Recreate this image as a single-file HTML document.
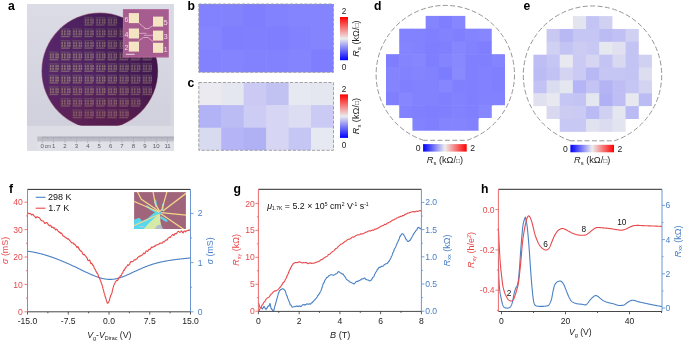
<!DOCTYPE html><html><head><meta charset="utf-8"><style>html,body{margin:0;padding:0;background:#fff;}svg{display:block;filter:blur(0.35px);}text{font-family:"Liberation Sans",sans-serif;}</style></head><body>
<svg width="685" height="343" viewBox="0 0 685 343">
<defs><linearGradient id="cbv" x1="0" y1="1" x2="0" y2="0"><stop offset="0" stop-color="#0000FF"/><stop offset="0.5" stop-color="#EDEDED"/><stop offset="1" stop-color="#FF0000"/></linearGradient><linearGradient id="cbh" x1="0" y1="0" x2="1" y2="0"><stop offset="0" stop-color="#0000FF"/><stop offset="0.5" stop-color="#EDEDED"/><stop offset="1" stop-color="#FF0000"/></linearGradient><linearGradient id="wafer" x1="0" y1="0.2" x2="1" y2="0.5"><stop offset="0" stop-color="#5A286C"/><stop offset="0.5" stop-color="#522266"/><stop offset="1" stop-color="#481C58"/></linearGradient><linearGradient id="wshade" x1="0.1" y1="0.8" x2="0.9" y2="0.1"><stop offset="0" stop-color="#2A0A34" stop-opacity="0"/><stop offset="0.4" stop-color="#2A0A34" stop-opacity="0.06"/><stop offset="1" stop-color="#2A0A34" stop-opacity="0.42"/></linearGradient><linearGradient id="wred" x1="0" y1="0" x2="0" y2="1"><stop offset="0.55" stop-color="#6A1E3A" stop-opacity="0"/><stop offset="1" stop-color="#6A1E3A" stop-opacity="0.45"/></linearGradient><linearGradient id="photobg" x1="0" y1="0" x2="0" y2="1"><stop offset="0" stop-color="#DCDCE7"/><stop offset="0.8" stop-color="#D1D1DD"/><stop offset="1" stop-color="#D1D1DD"/></linearGradient></defs>
<text x="8" y="9.8" font-size="12.2" fill="#000" text-anchor="start" font-weight="bold" >a</text>
<text x="187.6" y="9.8" font-size="12.2" fill="#000" text-anchor="start" font-weight="bold" >b</text>
<text x="187.6" y="86.7" font-size="12.2" fill="#000" text-anchor="start" font-weight="bold" >c</text>
<text x="374" y="9.8" font-size="12.2" fill="#000" text-anchor="start" font-weight="bold" >d</text>
<text x="523.4" y="10" font-size="12.2" fill="#000" text-anchor="start" font-weight="bold" >e</text>
<text x="9.1" y="193.2" font-size="12.2" fill="#000" text-anchor="start" font-weight="bold" >f</text>
<text x="233.6" y="193" font-size="12.2" fill="#000" text-anchor="start" font-weight="bold" >g</text>
<text x="481" y="193.4" font-size="12.2" fill="#000" text-anchor="start" font-weight="bold" >h</text>
<rect x="27.0" y="4.0" width="146.8" height="146.6" fill="url(#photobg)"/>
<rect x="27.0" y="125.8" width="146.8" height="24.799999999999997" fill="#DDDDE5"/>
<rect x="170.3" y="4.0" width="3.5" height="121.8" fill="#D8D8E3" opacity="0.7"/>
<filter id="pblur" x="-5%" y="-5%" width="110%" height="110%"><feGaussianBlur stdDeviation="0.3"/></filter>
<clipPath id="wclip"><rect x="0" y="0" width="200" height="125.6"/></clipPath>
<g filter="url(#pblur)">
<circle cx="99.8" cy="71.0" r="58.4" fill="#9A6070" clip-path="url(#wclip)" opacity="0.8"/>
<circle cx="99.8" cy="71.0" r="57.8" fill="url(#wafer)" clip-path="url(#wclip)"/>
<rect x="83.55" y="16.50" width="10.2" height="9.4" fill="#573264"/>
<rect x="84.05" y="16.90" width="9.2" height="1.1" fill="#6A4870"/>
<rect x="84.85" y="18.40" width="1.4" height="5.4" fill="#745474"/>
<rect x="84.85" y="19.10" width="1.4" height="1.6" fill="#987678"/>
<rect x="84.85" y="21.80" width="1.4" height="1.6" fill="#987678"/>
<rect x="87.35" y="18.40" width="1.4" height="5.4" fill="#745474"/>
<rect x="87.35" y="19.10" width="1.4" height="1.6" fill="#987678"/>
<rect x="87.35" y="21.80" width="1.4" height="1.6" fill="#987678"/>
<rect x="90.35" y="18.40" width="1.4" height="5.4" fill="#745474"/>
<rect x="90.35" y="19.10" width="1.4" height="1.6" fill="#987678"/>
<rect x="90.35" y="21.80" width="1.4" height="1.6" fill="#987678"/>
<rect x="92.35" y="18.40" width="1.4" height="5.4" fill="#745474"/>
<rect x="92.35" y="19.10" width="1.4" height="1.6" fill="#987678"/>
<rect x="92.35" y="21.80" width="1.4" height="1.6" fill="#987678"/>
<rect x="84.45" y="24.30" width="8.6" height="1.3" fill="#846476"/>
<rect x="95.20" y="16.50" width="10.2" height="9.4" fill="#573264"/>
<rect x="95.70" y="16.90" width="9.2" height="1.1" fill="#6A4870"/>
<rect x="96.50" y="18.40" width="1.4" height="5.4" fill="#745474"/>
<rect x="96.50" y="19.10" width="1.4" height="1.6" fill="#987678"/>
<rect x="96.50" y="21.80" width="1.4" height="1.6" fill="#987678"/>
<rect x="99.00" y="18.40" width="1.4" height="5.4" fill="#745474"/>
<rect x="99.00" y="19.10" width="1.4" height="1.6" fill="#987678"/>
<rect x="99.00" y="21.80" width="1.4" height="1.6" fill="#987678"/>
<rect x="102.00" y="18.40" width="1.4" height="5.4" fill="#745474"/>
<rect x="102.00" y="19.10" width="1.4" height="1.6" fill="#987678"/>
<rect x="102.00" y="21.80" width="1.4" height="1.6" fill="#987678"/>
<rect x="104.00" y="18.40" width="1.4" height="5.4" fill="#745474"/>
<rect x="104.00" y="19.10" width="1.4" height="1.6" fill="#987678"/>
<rect x="104.00" y="21.80" width="1.4" height="1.6" fill="#987678"/>
<rect x="96.10" y="24.30" width="8.6" height="1.3" fill="#846476"/>
<rect x="106.85" y="16.50" width="10.2" height="9.4" fill="#573264"/>
<rect x="107.35" y="16.90" width="9.2" height="1.1" fill="#6A4870"/>
<rect x="108.15" y="18.40" width="1.4" height="5.4" fill="#745474"/>
<rect x="108.15" y="19.10" width="1.4" height="1.6" fill="#987678"/>
<rect x="108.15" y="21.80" width="1.4" height="1.6" fill="#987678"/>
<rect x="110.65" y="18.40" width="1.4" height="5.4" fill="#745474"/>
<rect x="110.65" y="19.10" width="1.4" height="1.6" fill="#987678"/>
<rect x="110.65" y="21.80" width="1.4" height="1.6" fill="#987678"/>
<rect x="113.65" y="18.40" width="1.4" height="5.4" fill="#745474"/>
<rect x="113.65" y="19.10" width="1.4" height="1.6" fill="#987678"/>
<rect x="113.65" y="21.80" width="1.4" height="1.6" fill="#987678"/>
<rect x="115.65" y="18.40" width="1.4" height="5.4" fill="#745474"/>
<rect x="115.65" y="19.10" width="1.4" height="1.6" fill="#987678"/>
<rect x="115.65" y="21.80" width="1.4" height="1.6" fill="#987678"/>
<rect x="107.75" y="24.30" width="8.6" height="1.3" fill="#846476"/>
<rect x="60.25" y="28.08" width="10.2" height="9.4" fill="#573264"/>
<rect x="60.75" y="28.48" width="9.2" height="1.1" fill="#6A4870"/>
<rect x="61.55" y="29.98" width="1.4" height="5.4" fill="#745474"/>
<rect x="61.55" y="30.68" width="1.4" height="1.6" fill="#987678"/>
<rect x="61.55" y="33.38" width="1.4" height="1.6" fill="#987678"/>
<rect x="64.05" y="29.98" width="1.4" height="5.4" fill="#745474"/>
<rect x="64.05" y="30.68" width="1.4" height="1.6" fill="#987678"/>
<rect x="64.05" y="33.38" width="1.4" height="1.6" fill="#987678"/>
<rect x="67.05" y="29.98" width="1.4" height="5.4" fill="#745474"/>
<rect x="67.05" y="30.68" width="1.4" height="1.6" fill="#987678"/>
<rect x="67.05" y="33.38" width="1.4" height="1.6" fill="#987678"/>
<rect x="69.05" y="29.98" width="1.4" height="5.4" fill="#745474"/>
<rect x="69.05" y="30.68" width="1.4" height="1.6" fill="#987678"/>
<rect x="69.05" y="33.38" width="1.4" height="1.6" fill="#987678"/>
<rect x="61.15" y="35.88" width="8.6" height="1.3" fill="#846476"/>
<rect x="71.90" y="28.08" width="10.2" height="9.4" fill="#573264"/>
<rect x="72.40" y="28.48" width="9.2" height="1.1" fill="#6A4870"/>
<rect x="73.20" y="29.98" width="1.4" height="5.4" fill="#745474"/>
<rect x="73.20" y="30.68" width="1.4" height="1.6" fill="#987678"/>
<rect x="73.20" y="33.38" width="1.4" height="1.6" fill="#987678"/>
<rect x="75.70" y="29.98" width="1.4" height="5.4" fill="#745474"/>
<rect x="75.70" y="30.68" width="1.4" height="1.6" fill="#987678"/>
<rect x="75.70" y="33.38" width="1.4" height="1.6" fill="#987678"/>
<rect x="78.70" y="29.98" width="1.4" height="5.4" fill="#745474"/>
<rect x="78.70" y="30.68" width="1.4" height="1.6" fill="#987678"/>
<rect x="78.70" y="33.38" width="1.4" height="1.6" fill="#987678"/>
<rect x="80.70" y="29.98" width="1.4" height="5.4" fill="#745474"/>
<rect x="80.70" y="30.68" width="1.4" height="1.6" fill="#987678"/>
<rect x="80.70" y="33.38" width="1.4" height="1.6" fill="#987678"/>
<rect x="72.80" y="35.88" width="8.6" height="1.3" fill="#846476"/>
<rect x="83.55" y="28.08" width="10.2" height="9.4" fill="#573264"/>
<rect x="84.05" y="28.48" width="9.2" height="1.1" fill="#6A4870"/>
<rect x="84.85" y="29.98" width="1.4" height="5.4" fill="#745474"/>
<rect x="84.85" y="30.68" width="1.4" height="1.6" fill="#987678"/>
<rect x="84.85" y="33.38" width="1.4" height="1.6" fill="#987678"/>
<rect x="87.35" y="29.98" width="1.4" height="5.4" fill="#745474"/>
<rect x="87.35" y="30.68" width="1.4" height="1.6" fill="#987678"/>
<rect x="87.35" y="33.38" width="1.4" height="1.6" fill="#987678"/>
<rect x="90.35" y="29.98" width="1.4" height="5.4" fill="#745474"/>
<rect x="90.35" y="30.68" width="1.4" height="1.6" fill="#987678"/>
<rect x="90.35" y="33.38" width="1.4" height="1.6" fill="#987678"/>
<rect x="92.35" y="29.98" width="1.4" height="5.4" fill="#745474"/>
<rect x="92.35" y="30.68" width="1.4" height="1.6" fill="#987678"/>
<rect x="92.35" y="33.38" width="1.4" height="1.6" fill="#987678"/>
<rect x="84.45" y="35.88" width="8.6" height="1.3" fill="#846476"/>
<rect x="95.20" y="28.08" width="10.2" height="9.4" fill="#573264"/>
<rect x="95.70" y="28.48" width="9.2" height="1.1" fill="#6A4870"/>
<rect x="96.50" y="29.98" width="1.4" height="5.4" fill="#745474"/>
<rect x="96.50" y="30.68" width="1.4" height="1.6" fill="#987678"/>
<rect x="96.50" y="33.38" width="1.4" height="1.6" fill="#987678"/>
<rect x="99.00" y="29.98" width="1.4" height="5.4" fill="#745474"/>
<rect x="99.00" y="30.68" width="1.4" height="1.6" fill="#987678"/>
<rect x="99.00" y="33.38" width="1.4" height="1.6" fill="#987678"/>
<rect x="102.00" y="29.98" width="1.4" height="5.4" fill="#745474"/>
<rect x="102.00" y="30.68" width="1.4" height="1.6" fill="#987678"/>
<rect x="102.00" y="33.38" width="1.4" height="1.6" fill="#987678"/>
<rect x="104.00" y="29.98" width="1.4" height="5.4" fill="#745474"/>
<rect x="104.00" y="30.68" width="1.4" height="1.6" fill="#987678"/>
<rect x="104.00" y="33.38" width="1.4" height="1.6" fill="#987678"/>
<rect x="96.10" y="35.88" width="8.6" height="1.3" fill="#846476"/>
<rect x="106.85" y="28.08" width="10.2" height="9.4" fill="#573264"/>
<rect x="107.35" y="28.48" width="9.2" height="1.1" fill="#6A4870"/>
<rect x="108.15" y="29.98" width="1.4" height="5.4" fill="#745474"/>
<rect x="108.15" y="30.68" width="1.4" height="1.6" fill="#987678"/>
<rect x="108.15" y="33.38" width="1.4" height="1.6" fill="#987678"/>
<rect x="110.65" y="29.98" width="1.4" height="5.4" fill="#745474"/>
<rect x="110.65" y="30.68" width="1.4" height="1.6" fill="#987678"/>
<rect x="110.65" y="33.38" width="1.4" height="1.6" fill="#987678"/>
<rect x="113.65" y="29.98" width="1.4" height="5.4" fill="#745474"/>
<rect x="113.65" y="30.68" width="1.4" height="1.6" fill="#987678"/>
<rect x="113.65" y="33.38" width="1.4" height="1.6" fill="#987678"/>
<rect x="115.65" y="29.98" width="1.4" height="5.4" fill="#745474"/>
<rect x="115.65" y="30.68" width="1.4" height="1.6" fill="#987678"/>
<rect x="115.65" y="33.38" width="1.4" height="1.6" fill="#987678"/>
<rect x="107.75" y="35.88" width="8.6" height="1.3" fill="#846476"/>
<rect x="118.50" y="28.08" width="10.2" height="9.4" fill="#573264"/>
<rect x="119.00" y="28.48" width="9.2" height="1.1" fill="#6A4870"/>
<rect x="119.80" y="29.98" width="1.4" height="5.4" fill="#745474"/>
<rect x="119.80" y="30.68" width="1.4" height="1.6" fill="#987678"/>
<rect x="119.80" y="33.38" width="1.4" height="1.6" fill="#987678"/>
<rect x="122.30" y="29.98" width="1.4" height="5.4" fill="#745474"/>
<rect x="122.30" y="30.68" width="1.4" height="1.6" fill="#987678"/>
<rect x="122.30" y="33.38" width="1.4" height="1.6" fill="#987678"/>
<rect x="125.30" y="29.98" width="1.4" height="5.4" fill="#745474"/>
<rect x="125.30" y="30.68" width="1.4" height="1.6" fill="#987678"/>
<rect x="125.30" y="33.38" width="1.4" height="1.6" fill="#987678"/>
<rect x="127.30" y="29.98" width="1.4" height="5.4" fill="#745474"/>
<rect x="127.30" y="30.68" width="1.4" height="1.6" fill="#987678"/>
<rect x="127.30" y="33.38" width="1.4" height="1.6" fill="#987678"/>
<rect x="119.40" y="35.88" width="8.6" height="1.3" fill="#846476"/>
<rect x="130.15" y="28.08" width="10.2" height="9.4" fill="#573264"/>
<rect x="130.65" y="28.48" width="9.2" height="1.1" fill="#6A4870"/>
<rect x="131.45" y="29.98" width="1.4" height="5.4" fill="#745474"/>
<rect x="131.45" y="30.68" width="1.4" height="1.6" fill="#987678"/>
<rect x="131.45" y="33.38" width="1.4" height="1.6" fill="#987678"/>
<rect x="133.95" y="29.98" width="1.4" height="5.4" fill="#745474"/>
<rect x="133.95" y="30.68" width="1.4" height="1.6" fill="#987678"/>
<rect x="133.95" y="33.38" width="1.4" height="1.6" fill="#987678"/>
<rect x="136.95" y="29.98" width="1.4" height="5.4" fill="#745474"/>
<rect x="136.95" y="30.68" width="1.4" height="1.6" fill="#987678"/>
<rect x="136.95" y="33.38" width="1.4" height="1.6" fill="#987678"/>
<rect x="138.95" y="29.98" width="1.4" height="5.4" fill="#745474"/>
<rect x="138.95" y="30.68" width="1.4" height="1.6" fill="#987678"/>
<rect x="138.95" y="33.38" width="1.4" height="1.6" fill="#987678"/>
<rect x="131.05" y="35.88" width="8.6" height="1.3" fill="#846476"/>
<rect x="60.25" y="39.66" width="10.2" height="9.4" fill="#573264"/>
<rect x="60.75" y="40.06" width="9.2" height="1.1" fill="#6A4870"/>
<rect x="61.55" y="41.56" width="1.4" height="5.4" fill="#745474"/>
<rect x="61.55" y="42.26" width="1.4" height="1.6" fill="#987678"/>
<rect x="61.55" y="44.96" width="1.4" height="1.6" fill="#987678"/>
<rect x="64.05" y="41.56" width="1.4" height="5.4" fill="#745474"/>
<rect x="64.05" y="42.26" width="1.4" height="1.6" fill="#987678"/>
<rect x="64.05" y="44.96" width="1.4" height="1.6" fill="#987678"/>
<rect x="67.05" y="41.56" width="1.4" height="5.4" fill="#745474"/>
<rect x="67.05" y="42.26" width="1.4" height="1.6" fill="#987678"/>
<rect x="67.05" y="44.96" width="1.4" height="1.6" fill="#987678"/>
<rect x="69.05" y="41.56" width="1.4" height="5.4" fill="#745474"/>
<rect x="69.05" y="42.26" width="1.4" height="1.6" fill="#987678"/>
<rect x="69.05" y="44.96" width="1.4" height="1.6" fill="#987678"/>
<rect x="61.15" y="47.46" width="8.6" height="1.3" fill="#846476"/>
<rect x="71.90" y="39.66" width="10.2" height="9.4" fill="#573264"/>
<rect x="72.40" y="40.06" width="9.2" height="1.1" fill="#6A4870"/>
<rect x="73.20" y="41.56" width="1.4" height="5.4" fill="#745474"/>
<rect x="73.20" y="42.26" width="1.4" height="1.6" fill="#987678"/>
<rect x="73.20" y="44.96" width="1.4" height="1.6" fill="#987678"/>
<rect x="75.70" y="41.56" width="1.4" height="5.4" fill="#745474"/>
<rect x="75.70" y="42.26" width="1.4" height="1.6" fill="#987678"/>
<rect x="75.70" y="44.96" width="1.4" height="1.6" fill="#987678"/>
<rect x="78.70" y="41.56" width="1.4" height="5.4" fill="#745474"/>
<rect x="78.70" y="42.26" width="1.4" height="1.6" fill="#987678"/>
<rect x="78.70" y="44.96" width="1.4" height="1.6" fill="#987678"/>
<rect x="80.70" y="41.56" width="1.4" height="5.4" fill="#745474"/>
<rect x="80.70" y="42.26" width="1.4" height="1.6" fill="#987678"/>
<rect x="80.70" y="44.96" width="1.4" height="1.6" fill="#987678"/>
<rect x="72.80" y="47.46" width="8.6" height="1.3" fill="#846476"/>
<rect x="83.55" y="39.66" width="10.2" height="9.4" fill="#573264"/>
<rect x="84.05" y="40.06" width="9.2" height="1.1" fill="#6A4870"/>
<rect x="84.85" y="41.56" width="1.4" height="5.4" fill="#745474"/>
<rect x="84.85" y="42.26" width="1.4" height="1.6" fill="#987678"/>
<rect x="84.85" y="44.96" width="1.4" height="1.6" fill="#987678"/>
<rect x="87.35" y="41.56" width="1.4" height="5.4" fill="#745474"/>
<rect x="87.35" y="42.26" width="1.4" height="1.6" fill="#987678"/>
<rect x="87.35" y="44.96" width="1.4" height="1.6" fill="#987678"/>
<rect x="90.35" y="41.56" width="1.4" height="5.4" fill="#745474"/>
<rect x="90.35" y="42.26" width="1.4" height="1.6" fill="#987678"/>
<rect x="90.35" y="44.96" width="1.4" height="1.6" fill="#987678"/>
<rect x="92.35" y="41.56" width="1.4" height="5.4" fill="#745474"/>
<rect x="92.35" y="42.26" width="1.4" height="1.6" fill="#987678"/>
<rect x="92.35" y="44.96" width="1.4" height="1.6" fill="#987678"/>
<rect x="84.45" y="47.46" width="8.6" height="1.3" fill="#846476"/>
<rect x="95.20" y="39.66" width="10.2" height="9.4" fill="#573264"/>
<rect x="95.70" y="40.06" width="9.2" height="1.1" fill="#6A4870"/>
<rect x="96.50" y="41.56" width="1.4" height="5.4" fill="#745474"/>
<rect x="96.50" y="42.26" width="1.4" height="1.6" fill="#987678"/>
<rect x="96.50" y="44.96" width="1.4" height="1.6" fill="#987678"/>
<rect x="99.00" y="41.56" width="1.4" height="5.4" fill="#745474"/>
<rect x="99.00" y="42.26" width="1.4" height="1.6" fill="#987678"/>
<rect x="99.00" y="44.96" width="1.4" height="1.6" fill="#987678"/>
<rect x="102.00" y="41.56" width="1.4" height="5.4" fill="#745474"/>
<rect x="102.00" y="42.26" width="1.4" height="1.6" fill="#987678"/>
<rect x="102.00" y="44.96" width="1.4" height="1.6" fill="#987678"/>
<rect x="104.00" y="41.56" width="1.4" height="5.4" fill="#745474"/>
<rect x="104.00" y="42.26" width="1.4" height="1.6" fill="#987678"/>
<rect x="104.00" y="44.96" width="1.4" height="1.6" fill="#987678"/>
<rect x="96.10" y="47.46" width="8.6" height="1.3" fill="#846476"/>
<rect x="106.85" y="39.66" width="10.2" height="9.4" fill="#573264"/>
<rect x="107.35" y="40.06" width="9.2" height="1.1" fill="#6A4870"/>
<rect x="108.15" y="41.56" width="1.4" height="5.4" fill="#745474"/>
<rect x="108.15" y="42.26" width="1.4" height="1.6" fill="#987678"/>
<rect x="108.15" y="44.96" width="1.4" height="1.6" fill="#987678"/>
<rect x="110.65" y="41.56" width="1.4" height="5.4" fill="#745474"/>
<rect x="110.65" y="42.26" width="1.4" height="1.6" fill="#987678"/>
<rect x="110.65" y="44.96" width="1.4" height="1.6" fill="#987678"/>
<rect x="113.65" y="41.56" width="1.4" height="5.4" fill="#745474"/>
<rect x="113.65" y="42.26" width="1.4" height="1.6" fill="#987678"/>
<rect x="113.65" y="44.96" width="1.4" height="1.6" fill="#987678"/>
<rect x="115.65" y="41.56" width="1.4" height="5.4" fill="#745474"/>
<rect x="115.65" y="42.26" width="1.4" height="1.6" fill="#987678"/>
<rect x="115.65" y="44.96" width="1.4" height="1.6" fill="#987678"/>
<rect x="107.75" y="47.46" width="8.6" height="1.3" fill="#846476"/>
<rect x="118.50" y="39.66" width="10.2" height="9.4" fill="#573264"/>
<rect x="119.00" y="40.06" width="9.2" height="1.1" fill="#6A4870"/>
<rect x="119.80" y="41.56" width="1.4" height="5.4" fill="#745474"/>
<rect x="119.80" y="42.26" width="1.4" height="1.6" fill="#987678"/>
<rect x="119.80" y="44.96" width="1.4" height="1.6" fill="#987678"/>
<rect x="122.30" y="41.56" width="1.4" height="5.4" fill="#745474"/>
<rect x="122.30" y="42.26" width="1.4" height="1.6" fill="#987678"/>
<rect x="122.30" y="44.96" width="1.4" height="1.6" fill="#987678"/>
<rect x="125.30" y="41.56" width="1.4" height="5.4" fill="#745474"/>
<rect x="125.30" y="42.26" width="1.4" height="1.6" fill="#987678"/>
<rect x="125.30" y="44.96" width="1.4" height="1.6" fill="#987678"/>
<rect x="127.30" y="41.56" width="1.4" height="5.4" fill="#745474"/>
<rect x="127.30" y="42.26" width="1.4" height="1.6" fill="#987678"/>
<rect x="127.30" y="44.96" width="1.4" height="1.6" fill="#987678"/>
<rect x="119.40" y="47.46" width="8.6" height="1.3" fill="#846476"/>
<rect x="130.15" y="39.66" width="10.2" height="9.4" fill="#573264"/>
<rect x="130.65" y="40.06" width="9.2" height="1.1" fill="#6A4870"/>
<rect x="131.45" y="41.56" width="1.4" height="5.4" fill="#745474"/>
<rect x="131.45" y="42.26" width="1.4" height="1.6" fill="#987678"/>
<rect x="131.45" y="44.96" width="1.4" height="1.6" fill="#987678"/>
<rect x="133.95" y="41.56" width="1.4" height="5.4" fill="#745474"/>
<rect x="133.95" y="42.26" width="1.4" height="1.6" fill="#987678"/>
<rect x="133.95" y="44.96" width="1.4" height="1.6" fill="#987678"/>
<rect x="136.95" y="41.56" width="1.4" height="5.4" fill="#745474"/>
<rect x="136.95" y="42.26" width="1.4" height="1.6" fill="#987678"/>
<rect x="136.95" y="44.96" width="1.4" height="1.6" fill="#987678"/>
<rect x="138.95" y="41.56" width="1.4" height="5.4" fill="#745474"/>
<rect x="138.95" y="42.26" width="1.4" height="1.6" fill="#987678"/>
<rect x="138.95" y="44.96" width="1.4" height="1.6" fill="#987678"/>
<rect x="131.05" y="47.46" width="8.6" height="1.3" fill="#846476"/>
<rect x="48.60" y="51.24" width="10.2" height="9.4" fill="#573264"/>
<rect x="49.10" y="51.64" width="9.2" height="1.1" fill="#6A4870"/>
<rect x="49.90" y="53.14" width="1.4" height="5.4" fill="#745474"/>
<rect x="49.90" y="53.84" width="1.4" height="1.6" fill="#987678"/>
<rect x="49.90" y="56.54" width="1.4" height="1.6" fill="#987678"/>
<rect x="52.40" y="53.14" width="1.4" height="5.4" fill="#745474"/>
<rect x="52.40" y="53.84" width="1.4" height="1.6" fill="#987678"/>
<rect x="52.40" y="56.54" width="1.4" height="1.6" fill="#987678"/>
<rect x="55.40" y="53.14" width="1.4" height="5.4" fill="#745474"/>
<rect x="55.40" y="53.84" width="1.4" height="1.6" fill="#987678"/>
<rect x="55.40" y="56.54" width="1.4" height="1.6" fill="#987678"/>
<rect x="57.40" y="53.14" width="1.4" height="5.4" fill="#745474"/>
<rect x="57.40" y="53.84" width="1.4" height="1.6" fill="#987678"/>
<rect x="57.40" y="56.54" width="1.4" height="1.6" fill="#987678"/>
<rect x="49.50" y="59.04" width="8.6" height="1.3" fill="#846476"/>
<rect x="60.25" y="51.24" width="10.2" height="9.4" fill="#573264"/>
<rect x="60.75" y="51.64" width="9.2" height="1.1" fill="#6A4870"/>
<rect x="61.55" y="53.14" width="1.4" height="5.4" fill="#745474"/>
<rect x="61.55" y="53.84" width="1.4" height="1.6" fill="#987678"/>
<rect x="61.55" y="56.54" width="1.4" height="1.6" fill="#987678"/>
<rect x="64.05" y="53.14" width="1.4" height="5.4" fill="#745474"/>
<rect x="64.05" y="53.84" width="1.4" height="1.6" fill="#987678"/>
<rect x="64.05" y="56.54" width="1.4" height="1.6" fill="#987678"/>
<rect x="67.05" y="53.14" width="1.4" height="5.4" fill="#745474"/>
<rect x="67.05" y="53.84" width="1.4" height="1.6" fill="#987678"/>
<rect x="67.05" y="56.54" width="1.4" height="1.6" fill="#987678"/>
<rect x="69.05" y="53.14" width="1.4" height="5.4" fill="#745474"/>
<rect x="69.05" y="53.84" width="1.4" height="1.6" fill="#987678"/>
<rect x="69.05" y="56.54" width="1.4" height="1.6" fill="#987678"/>
<rect x="61.15" y="59.04" width="8.6" height="1.3" fill="#846476"/>
<rect x="71.90" y="51.24" width="10.2" height="9.4" fill="#573264"/>
<rect x="72.40" y="51.64" width="9.2" height="1.1" fill="#6A4870"/>
<rect x="73.20" y="53.14" width="1.4" height="5.4" fill="#745474"/>
<rect x="73.20" y="53.84" width="1.4" height="1.6" fill="#987678"/>
<rect x="73.20" y="56.54" width="1.4" height="1.6" fill="#987678"/>
<rect x="75.70" y="53.14" width="1.4" height="5.4" fill="#745474"/>
<rect x="75.70" y="53.84" width="1.4" height="1.6" fill="#987678"/>
<rect x="75.70" y="56.54" width="1.4" height="1.6" fill="#987678"/>
<rect x="78.70" y="53.14" width="1.4" height="5.4" fill="#745474"/>
<rect x="78.70" y="53.84" width="1.4" height="1.6" fill="#987678"/>
<rect x="78.70" y="56.54" width="1.4" height="1.6" fill="#987678"/>
<rect x="80.70" y="53.14" width="1.4" height="5.4" fill="#745474"/>
<rect x="80.70" y="53.84" width="1.4" height="1.6" fill="#987678"/>
<rect x="80.70" y="56.54" width="1.4" height="1.6" fill="#987678"/>
<rect x="72.80" y="59.04" width="8.6" height="1.3" fill="#846476"/>
<rect x="83.55" y="51.24" width="10.2" height="9.4" fill="#573264"/>
<rect x="84.05" y="51.64" width="9.2" height="1.1" fill="#6A4870"/>
<rect x="84.85" y="53.14" width="1.4" height="5.4" fill="#745474"/>
<rect x="84.85" y="53.84" width="1.4" height="1.6" fill="#987678"/>
<rect x="84.85" y="56.54" width="1.4" height="1.6" fill="#987678"/>
<rect x="87.35" y="53.14" width="1.4" height="5.4" fill="#745474"/>
<rect x="87.35" y="53.84" width="1.4" height="1.6" fill="#987678"/>
<rect x="87.35" y="56.54" width="1.4" height="1.6" fill="#987678"/>
<rect x="90.35" y="53.14" width="1.4" height="5.4" fill="#745474"/>
<rect x="90.35" y="53.84" width="1.4" height="1.6" fill="#987678"/>
<rect x="90.35" y="56.54" width="1.4" height="1.6" fill="#987678"/>
<rect x="92.35" y="53.14" width="1.4" height="5.4" fill="#745474"/>
<rect x="92.35" y="53.84" width="1.4" height="1.6" fill="#987678"/>
<rect x="92.35" y="56.54" width="1.4" height="1.6" fill="#987678"/>
<rect x="84.45" y="59.04" width="8.6" height="1.3" fill="#846476"/>
<rect x="95.20" y="51.24" width="10.2" height="9.4" fill="#573264"/>
<rect x="95.70" y="51.64" width="9.2" height="1.1" fill="#6A4870"/>
<rect x="96.50" y="53.14" width="1.4" height="5.4" fill="#745474"/>
<rect x="96.50" y="53.84" width="1.4" height="1.6" fill="#987678"/>
<rect x="96.50" y="56.54" width="1.4" height="1.6" fill="#987678"/>
<rect x="99.00" y="53.14" width="1.4" height="5.4" fill="#745474"/>
<rect x="99.00" y="53.84" width="1.4" height="1.6" fill="#987678"/>
<rect x="99.00" y="56.54" width="1.4" height="1.6" fill="#987678"/>
<rect x="102.00" y="53.14" width="1.4" height="5.4" fill="#745474"/>
<rect x="102.00" y="53.84" width="1.4" height="1.6" fill="#987678"/>
<rect x="102.00" y="56.54" width="1.4" height="1.6" fill="#987678"/>
<rect x="104.00" y="53.14" width="1.4" height="5.4" fill="#745474"/>
<rect x="104.00" y="53.84" width="1.4" height="1.6" fill="#987678"/>
<rect x="104.00" y="56.54" width="1.4" height="1.6" fill="#987678"/>
<rect x="96.10" y="59.04" width="8.6" height="1.3" fill="#846476"/>
<rect x="106.85" y="51.24" width="10.2" height="9.4" fill="#573264"/>
<rect x="107.35" y="51.64" width="9.2" height="1.1" fill="#6A4870"/>
<rect x="108.15" y="53.14" width="1.4" height="5.4" fill="#745474"/>
<rect x="108.15" y="53.84" width="1.4" height="1.6" fill="#987678"/>
<rect x="108.15" y="56.54" width="1.4" height="1.6" fill="#987678"/>
<rect x="110.65" y="53.14" width="1.4" height="5.4" fill="#745474"/>
<rect x="110.65" y="53.84" width="1.4" height="1.6" fill="#987678"/>
<rect x="110.65" y="56.54" width="1.4" height="1.6" fill="#987678"/>
<rect x="113.65" y="53.14" width="1.4" height="5.4" fill="#745474"/>
<rect x="113.65" y="53.84" width="1.4" height="1.6" fill="#987678"/>
<rect x="113.65" y="56.54" width="1.4" height="1.6" fill="#987678"/>
<rect x="115.65" y="53.14" width="1.4" height="5.4" fill="#745474"/>
<rect x="115.65" y="53.84" width="1.4" height="1.6" fill="#987678"/>
<rect x="115.65" y="56.54" width="1.4" height="1.6" fill="#987678"/>
<rect x="107.75" y="59.04" width="8.6" height="1.3" fill="#846476"/>
<rect x="118.50" y="51.24" width="10.2" height="9.4" fill="#573264"/>
<rect x="119.00" y="51.64" width="9.2" height="1.1" fill="#6A4870"/>
<rect x="119.80" y="53.14" width="1.4" height="5.4" fill="#745474"/>
<rect x="119.80" y="53.84" width="1.4" height="1.6" fill="#987678"/>
<rect x="119.80" y="56.54" width="1.4" height="1.6" fill="#987678"/>
<rect x="122.30" y="53.14" width="1.4" height="5.4" fill="#745474"/>
<rect x="122.30" y="53.84" width="1.4" height="1.6" fill="#987678"/>
<rect x="122.30" y="56.54" width="1.4" height="1.6" fill="#987678"/>
<rect x="125.30" y="53.14" width="1.4" height="5.4" fill="#745474"/>
<rect x="125.30" y="53.84" width="1.4" height="1.6" fill="#987678"/>
<rect x="125.30" y="56.54" width="1.4" height="1.6" fill="#987678"/>
<rect x="127.30" y="53.14" width="1.4" height="5.4" fill="#745474"/>
<rect x="127.30" y="53.84" width="1.4" height="1.6" fill="#987678"/>
<rect x="127.30" y="56.54" width="1.4" height="1.6" fill="#987678"/>
<rect x="119.40" y="59.04" width="8.6" height="1.3" fill="#846476"/>
<rect x="130.15" y="51.24" width="10.2" height="9.4" fill="#573264"/>
<rect x="130.65" y="51.64" width="9.2" height="1.1" fill="#6A4870"/>
<rect x="131.45" y="53.14" width="1.4" height="5.4" fill="#745474"/>
<rect x="131.45" y="53.84" width="1.4" height="1.6" fill="#987678"/>
<rect x="131.45" y="56.54" width="1.4" height="1.6" fill="#987678"/>
<rect x="133.95" y="53.14" width="1.4" height="5.4" fill="#745474"/>
<rect x="133.95" y="53.84" width="1.4" height="1.6" fill="#987678"/>
<rect x="133.95" y="56.54" width="1.4" height="1.6" fill="#987678"/>
<rect x="136.95" y="53.14" width="1.4" height="5.4" fill="#745474"/>
<rect x="136.95" y="53.84" width="1.4" height="1.6" fill="#987678"/>
<rect x="136.95" y="56.54" width="1.4" height="1.6" fill="#987678"/>
<rect x="138.95" y="53.14" width="1.4" height="5.4" fill="#745474"/>
<rect x="138.95" y="53.84" width="1.4" height="1.6" fill="#987678"/>
<rect x="138.95" y="56.54" width="1.4" height="1.6" fill="#987678"/>
<rect x="131.05" y="59.04" width="8.6" height="1.3" fill="#846476"/>
<rect x="141.80" y="51.24" width="10.2" height="9.4" fill="#573264"/>
<rect x="142.30" y="51.64" width="9.2" height="1.1" fill="#6A4870"/>
<rect x="143.10" y="53.14" width="1.4" height="5.4" fill="#745474"/>
<rect x="143.10" y="53.84" width="1.4" height="1.6" fill="#987678"/>
<rect x="143.10" y="56.54" width="1.4" height="1.6" fill="#987678"/>
<rect x="145.60" y="53.14" width="1.4" height="5.4" fill="#745474"/>
<rect x="145.60" y="53.84" width="1.4" height="1.6" fill="#987678"/>
<rect x="145.60" y="56.54" width="1.4" height="1.6" fill="#987678"/>
<rect x="148.60" y="53.14" width="1.4" height="5.4" fill="#745474"/>
<rect x="148.60" y="53.84" width="1.4" height="1.6" fill="#987678"/>
<rect x="148.60" y="56.54" width="1.4" height="1.6" fill="#987678"/>
<rect x="150.60" y="53.14" width="1.4" height="5.4" fill="#745474"/>
<rect x="150.60" y="53.84" width="1.4" height="1.6" fill="#987678"/>
<rect x="150.60" y="56.54" width="1.4" height="1.6" fill="#987678"/>
<rect x="142.70" y="59.04" width="8.6" height="1.3" fill="#846476"/>
<rect x="48.60" y="62.82" width="10.2" height="9.4" fill="#573264"/>
<rect x="49.10" y="63.22" width="9.2" height="1.1" fill="#6A4870"/>
<rect x="49.90" y="64.72" width="1.4" height="5.4" fill="#745474"/>
<rect x="49.90" y="65.42" width="1.4" height="1.6" fill="#987678"/>
<rect x="49.90" y="68.12" width="1.4" height="1.6" fill="#987678"/>
<rect x="52.40" y="64.72" width="1.4" height="5.4" fill="#745474"/>
<rect x="52.40" y="65.42" width="1.4" height="1.6" fill="#987678"/>
<rect x="52.40" y="68.12" width="1.4" height="1.6" fill="#987678"/>
<rect x="55.40" y="64.72" width="1.4" height="5.4" fill="#745474"/>
<rect x="55.40" y="65.42" width="1.4" height="1.6" fill="#987678"/>
<rect x="55.40" y="68.12" width="1.4" height="1.6" fill="#987678"/>
<rect x="57.40" y="64.72" width="1.4" height="5.4" fill="#745474"/>
<rect x="57.40" y="65.42" width="1.4" height="1.6" fill="#987678"/>
<rect x="57.40" y="68.12" width="1.4" height="1.6" fill="#987678"/>
<rect x="49.50" y="70.62" width="8.6" height="1.3" fill="#846476"/>
<rect x="60.25" y="62.82" width="10.2" height="9.4" fill="#573264"/>
<rect x="60.75" y="63.22" width="9.2" height="1.1" fill="#6A4870"/>
<rect x="61.55" y="64.72" width="1.4" height="5.4" fill="#745474"/>
<rect x="61.55" y="65.42" width="1.4" height="1.6" fill="#987678"/>
<rect x="61.55" y="68.12" width="1.4" height="1.6" fill="#987678"/>
<rect x="64.05" y="64.72" width="1.4" height="5.4" fill="#745474"/>
<rect x="64.05" y="65.42" width="1.4" height="1.6" fill="#987678"/>
<rect x="64.05" y="68.12" width="1.4" height="1.6" fill="#987678"/>
<rect x="67.05" y="64.72" width="1.4" height="5.4" fill="#745474"/>
<rect x="67.05" y="65.42" width="1.4" height="1.6" fill="#987678"/>
<rect x="67.05" y="68.12" width="1.4" height="1.6" fill="#987678"/>
<rect x="69.05" y="64.72" width="1.4" height="5.4" fill="#745474"/>
<rect x="69.05" y="65.42" width="1.4" height="1.6" fill="#987678"/>
<rect x="69.05" y="68.12" width="1.4" height="1.6" fill="#987678"/>
<rect x="61.15" y="70.62" width="8.6" height="1.3" fill="#846476"/>
<rect x="71.90" y="62.82" width="10.2" height="9.4" fill="#573264"/>
<rect x="72.40" y="63.22" width="9.2" height="1.1" fill="#6A4870"/>
<rect x="73.20" y="64.72" width="1.4" height="5.4" fill="#745474"/>
<rect x="73.20" y="65.42" width="1.4" height="1.6" fill="#987678"/>
<rect x="73.20" y="68.12" width="1.4" height="1.6" fill="#987678"/>
<rect x="75.70" y="64.72" width="1.4" height="5.4" fill="#745474"/>
<rect x="75.70" y="65.42" width="1.4" height="1.6" fill="#987678"/>
<rect x="75.70" y="68.12" width="1.4" height="1.6" fill="#987678"/>
<rect x="78.70" y="64.72" width="1.4" height="5.4" fill="#745474"/>
<rect x="78.70" y="65.42" width="1.4" height="1.6" fill="#987678"/>
<rect x="78.70" y="68.12" width="1.4" height="1.6" fill="#987678"/>
<rect x="80.70" y="64.72" width="1.4" height="5.4" fill="#745474"/>
<rect x="80.70" y="65.42" width="1.4" height="1.6" fill="#987678"/>
<rect x="80.70" y="68.12" width="1.4" height="1.6" fill="#987678"/>
<rect x="72.80" y="70.62" width="8.6" height="1.3" fill="#846476"/>
<rect x="83.55" y="62.82" width="10.2" height="9.4" fill="#573264"/>
<rect x="84.05" y="63.22" width="9.2" height="1.1" fill="#6A4870"/>
<rect x="84.85" y="64.72" width="1.4" height="5.4" fill="#745474"/>
<rect x="84.85" y="65.42" width="1.4" height="1.6" fill="#987678"/>
<rect x="84.85" y="68.12" width="1.4" height="1.6" fill="#987678"/>
<rect x="87.35" y="64.72" width="1.4" height="5.4" fill="#745474"/>
<rect x="87.35" y="65.42" width="1.4" height="1.6" fill="#987678"/>
<rect x="87.35" y="68.12" width="1.4" height="1.6" fill="#987678"/>
<rect x="90.35" y="64.72" width="1.4" height="5.4" fill="#745474"/>
<rect x="90.35" y="65.42" width="1.4" height="1.6" fill="#987678"/>
<rect x="90.35" y="68.12" width="1.4" height="1.6" fill="#987678"/>
<rect x="92.35" y="64.72" width="1.4" height="5.4" fill="#745474"/>
<rect x="92.35" y="65.42" width="1.4" height="1.6" fill="#987678"/>
<rect x="92.35" y="68.12" width="1.4" height="1.6" fill="#987678"/>
<rect x="84.45" y="70.62" width="8.6" height="1.3" fill="#846476"/>
<rect x="95.20" y="62.82" width="10.2" height="9.4" fill="#573264"/>
<rect x="95.70" y="63.22" width="9.2" height="1.1" fill="#6A4870"/>
<rect x="96.50" y="64.72" width="1.4" height="5.4" fill="#745474"/>
<rect x="96.50" y="65.42" width="1.4" height="1.6" fill="#987678"/>
<rect x="96.50" y="68.12" width="1.4" height="1.6" fill="#987678"/>
<rect x="99.00" y="64.72" width="1.4" height="5.4" fill="#745474"/>
<rect x="99.00" y="65.42" width="1.4" height="1.6" fill="#987678"/>
<rect x="99.00" y="68.12" width="1.4" height="1.6" fill="#987678"/>
<rect x="102.00" y="64.72" width="1.4" height="5.4" fill="#745474"/>
<rect x="102.00" y="65.42" width="1.4" height="1.6" fill="#987678"/>
<rect x="102.00" y="68.12" width="1.4" height="1.6" fill="#987678"/>
<rect x="104.00" y="64.72" width="1.4" height="5.4" fill="#745474"/>
<rect x="104.00" y="65.42" width="1.4" height="1.6" fill="#987678"/>
<rect x="104.00" y="68.12" width="1.4" height="1.6" fill="#987678"/>
<rect x="96.10" y="70.62" width="8.6" height="1.3" fill="#846476"/>
<rect x="106.85" y="62.82" width="10.2" height="9.4" fill="#573264"/>
<rect x="107.35" y="63.22" width="9.2" height="1.1" fill="#6A4870"/>
<rect x="108.15" y="64.72" width="1.4" height="5.4" fill="#745474"/>
<rect x="108.15" y="65.42" width="1.4" height="1.6" fill="#987678"/>
<rect x="108.15" y="68.12" width="1.4" height="1.6" fill="#987678"/>
<rect x="110.65" y="64.72" width="1.4" height="5.4" fill="#745474"/>
<rect x="110.65" y="65.42" width="1.4" height="1.6" fill="#987678"/>
<rect x="110.65" y="68.12" width="1.4" height="1.6" fill="#987678"/>
<rect x="113.65" y="64.72" width="1.4" height="5.4" fill="#745474"/>
<rect x="113.65" y="65.42" width="1.4" height="1.6" fill="#987678"/>
<rect x="113.65" y="68.12" width="1.4" height="1.6" fill="#987678"/>
<rect x="115.65" y="64.72" width="1.4" height="5.4" fill="#745474"/>
<rect x="115.65" y="65.42" width="1.4" height="1.6" fill="#987678"/>
<rect x="115.65" y="68.12" width="1.4" height="1.6" fill="#987678"/>
<rect x="107.75" y="70.62" width="8.6" height="1.3" fill="#846476"/>
<rect x="118.50" y="62.82" width="10.2" height="9.4" fill="#573264"/>
<rect x="119.00" y="63.22" width="9.2" height="1.1" fill="#6A4870"/>
<rect x="119.80" y="64.72" width="1.4" height="5.4" fill="#745474"/>
<rect x="119.80" y="65.42" width="1.4" height="1.6" fill="#987678"/>
<rect x="119.80" y="68.12" width="1.4" height="1.6" fill="#987678"/>
<rect x="122.30" y="64.72" width="1.4" height="5.4" fill="#745474"/>
<rect x="122.30" y="65.42" width="1.4" height="1.6" fill="#987678"/>
<rect x="122.30" y="68.12" width="1.4" height="1.6" fill="#987678"/>
<rect x="125.30" y="64.72" width="1.4" height="5.4" fill="#745474"/>
<rect x="125.30" y="65.42" width="1.4" height="1.6" fill="#987678"/>
<rect x="125.30" y="68.12" width="1.4" height="1.6" fill="#987678"/>
<rect x="127.30" y="64.72" width="1.4" height="5.4" fill="#745474"/>
<rect x="127.30" y="65.42" width="1.4" height="1.6" fill="#987678"/>
<rect x="127.30" y="68.12" width="1.4" height="1.6" fill="#987678"/>
<rect x="119.40" y="70.62" width="8.6" height="1.3" fill="#846476"/>
<rect x="130.15" y="62.82" width="10.2" height="9.4" fill="#573264"/>
<rect x="130.65" y="63.22" width="9.2" height="1.1" fill="#6A4870"/>
<rect x="131.45" y="64.72" width="1.4" height="5.4" fill="#745474"/>
<rect x="131.45" y="65.42" width="1.4" height="1.6" fill="#987678"/>
<rect x="131.45" y="68.12" width="1.4" height="1.6" fill="#987678"/>
<rect x="133.95" y="64.72" width="1.4" height="5.4" fill="#745474"/>
<rect x="133.95" y="65.42" width="1.4" height="1.6" fill="#987678"/>
<rect x="133.95" y="68.12" width="1.4" height="1.6" fill="#987678"/>
<rect x="136.95" y="64.72" width="1.4" height="5.4" fill="#745474"/>
<rect x="136.95" y="65.42" width="1.4" height="1.6" fill="#987678"/>
<rect x="136.95" y="68.12" width="1.4" height="1.6" fill="#987678"/>
<rect x="138.95" y="64.72" width="1.4" height="5.4" fill="#745474"/>
<rect x="138.95" y="65.42" width="1.4" height="1.6" fill="#987678"/>
<rect x="138.95" y="68.12" width="1.4" height="1.6" fill="#987678"/>
<rect x="131.05" y="70.62" width="8.6" height="1.3" fill="#846476"/>
<rect x="141.80" y="62.82" width="10.2" height="9.4" fill="#573264"/>
<rect x="142.30" y="63.22" width="9.2" height="1.1" fill="#6A4870"/>
<rect x="143.10" y="64.72" width="1.4" height="5.4" fill="#745474"/>
<rect x="143.10" y="65.42" width="1.4" height="1.6" fill="#987678"/>
<rect x="143.10" y="68.12" width="1.4" height="1.6" fill="#987678"/>
<rect x="145.60" y="64.72" width="1.4" height="5.4" fill="#745474"/>
<rect x="145.60" y="65.42" width="1.4" height="1.6" fill="#987678"/>
<rect x="145.60" y="68.12" width="1.4" height="1.6" fill="#987678"/>
<rect x="148.60" y="64.72" width="1.4" height="5.4" fill="#745474"/>
<rect x="148.60" y="65.42" width="1.4" height="1.6" fill="#987678"/>
<rect x="148.60" y="68.12" width="1.4" height="1.6" fill="#987678"/>
<rect x="150.60" y="64.72" width="1.4" height="5.4" fill="#745474"/>
<rect x="150.60" y="65.42" width="1.4" height="1.6" fill="#987678"/>
<rect x="150.60" y="68.12" width="1.4" height="1.6" fill="#987678"/>
<rect x="142.70" y="70.62" width="8.6" height="1.3" fill="#846476"/>
<rect x="48.60" y="74.40" width="10.2" height="9.4" fill="#573264"/>
<rect x="49.10" y="74.80" width="9.2" height="1.1" fill="#6A4870"/>
<rect x="49.90" y="76.30" width="1.4" height="5.4" fill="#745474"/>
<rect x="49.90" y="77.00" width="1.4" height="1.6" fill="#987678"/>
<rect x="49.90" y="79.70" width="1.4" height="1.6" fill="#987678"/>
<rect x="52.40" y="76.30" width="1.4" height="5.4" fill="#745474"/>
<rect x="52.40" y="77.00" width="1.4" height="1.6" fill="#987678"/>
<rect x="52.40" y="79.70" width="1.4" height="1.6" fill="#987678"/>
<rect x="55.40" y="76.30" width="1.4" height="5.4" fill="#745474"/>
<rect x="55.40" y="77.00" width="1.4" height="1.6" fill="#987678"/>
<rect x="55.40" y="79.70" width="1.4" height="1.6" fill="#987678"/>
<rect x="57.40" y="76.30" width="1.4" height="5.4" fill="#745474"/>
<rect x="57.40" y="77.00" width="1.4" height="1.6" fill="#987678"/>
<rect x="57.40" y="79.70" width="1.4" height="1.6" fill="#987678"/>
<rect x="49.50" y="82.20" width="8.6" height="1.3" fill="#846476"/>
<rect x="60.25" y="74.40" width="10.2" height="9.4" fill="#573264"/>
<rect x="60.75" y="74.80" width="9.2" height="1.1" fill="#6A4870"/>
<rect x="61.55" y="76.30" width="1.4" height="5.4" fill="#745474"/>
<rect x="61.55" y="77.00" width="1.4" height="1.6" fill="#987678"/>
<rect x="61.55" y="79.70" width="1.4" height="1.6" fill="#987678"/>
<rect x="64.05" y="76.30" width="1.4" height="5.4" fill="#745474"/>
<rect x="64.05" y="77.00" width="1.4" height="1.6" fill="#987678"/>
<rect x="64.05" y="79.70" width="1.4" height="1.6" fill="#987678"/>
<rect x="67.05" y="76.30" width="1.4" height="5.4" fill="#745474"/>
<rect x="67.05" y="77.00" width="1.4" height="1.6" fill="#987678"/>
<rect x="67.05" y="79.70" width="1.4" height="1.6" fill="#987678"/>
<rect x="69.05" y="76.30" width="1.4" height="5.4" fill="#745474"/>
<rect x="69.05" y="77.00" width="1.4" height="1.6" fill="#987678"/>
<rect x="69.05" y="79.70" width="1.4" height="1.6" fill="#987678"/>
<rect x="61.15" y="82.20" width="8.6" height="1.3" fill="#846476"/>
<rect x="71.90" y="74.40" width="10.2" height="9.4" fill="#573264"/>
<rect x="72.40" y="74.80" width="9.2" height="1.1" fill="#6A4870"/>
<rect x="73.20" y="76.30" width="1.4" height="5.4" fill="#745474"/>
<rect x="73.20" y="77.00" width="1.4" height="1.6" fill="#987678"/>
<rect x="73.20" y="79.70" width="1.4" height="1.6" fill="#987678"/>
<rect x="75.70" y="76.30" width="1.4" height="5.4" fill="#745474"/>
<rect x="75.70" y="77.00" width="1.4" height="1.6" fill="#987678"/>
<rect x="75.70" y="79.70" width="1.4" height="1.6" fill="#987678"/>
<rect x="78.70" y="76.30" width="1.4" height="5.4" fill="#745474"/>
<rect x="78.70" y="77.00" width="1.4" height="1.6" fill="#987678"/>
<rect x="78.70" y="79.70" width="1.4" height="1.6" fill="#987678"/>
<rect x="80.70" y="76.30" width="1.4" height="5.4" fill="#745474"/>
<rect x="80.70" y="77.00" width="1.4" height="1.6" fill="#987678"/>
<rect x="80.70" y="79.70" width="1.4" height="1.6" fill="#987678"/>
<rect x="72.80" y="82.20" width="8.6" height="1.3" fill="#846476"/>
<rect x="83.55" y="74.40" width="10.2" height="9.4" fill="#573264"/>
<rect x="84.05" y="74.80" width="9.2" height="1.1" fill="#6A4870"/>
<rect x="84.85" y="76.30" width="1.4" height="5.4" fill="#745474"/>
<rect x="84.85" y="77.00" width="1.4" height="1.6" fill="#987678"/>
<rect x="84.85" y="79.70" width="1.4" height="1.6" fill="#987678"/>
<rect x="87.35" y="76.30" width="1.4" height="5.4" fill="#745474"/>
<rect x="87.35" y="77.00" width="1.4" height="1.6" fill="#987678"/>
<rect x="87.35" y="79.70" width="1.4" height="1.6" fill="#987678"/>
<rect x="90.35" y="76.30" width="1.4" height="5.4" fill="#745474"/>
<rect x="90.35" y="77.00" width="1.4" height="1.6" fill="#987678"/>
<rect x="90.35" y="79.70" width="1.4" height="1.6" fill="#987678"/>
<rect x="92.35" y="76.30" width="1.4" height="5.4" fill="#745474"/>
<rect x="92.35" y="77.00" width="1.4" height="1.6" fill="#987678"/>
<rect x="92.35" y="79.70" width="1.4" height="1.6" fill="#987678"/>
<rect x="84.45" y="82.20" width="8.6" height="1.3" fill="#846476"/>
<rect x="95.20" y="74.40" width="10.2" height="9.4" fill="#573264"/>
<rect x="95.70" y="74.80" width="9.2" height="1.1" fill="#6A4870"/>
<rect x="96.50" y="76.30" width="1.4" height="5.4" fill="#745474"/>
<rect x="96.50" y="77.00" width="1.4" height="1.6" fill="#987678"/>
<rect x="96.50" y="79.70" width="1.4" height="1.6" fill="#987678"/>
<rect x="99.00" y="76.30" width="1.4" height="5.4" fill="#745474"/>
<rect x="99.00" y="77.00" width="1.4" height="1.6" fill="#987678"/>
<rect x="99.00" y="79.70" width="1.4" height="1.6" fill="#987678"/>
<rect x="102.00" y="76.30" width="1.4" height="5.4" fill="#745474"/>
<rect x="102.00" y="77.00" width="1.4" height="1.6" fill="#987678"/>
<rect x="102.00" y="79.70" width="1.4" height="1.6" fill="#987678"/>
<rect x="104.00" y="76.30" width="1.4" height="5.4" fill="#745474"/>
<rect x="104.00" y="77.00" width="1.4" height="1.6" fill="#987678"/>
<rect x="104.00" y="79.70" width="1.4" height="1.6" fill="#987678"/>
<rect x="96.10" y="82.20" width="8.6" height="1.3" fill="#846476"/>
<rect x="106.85" y="74.40" width="10.2" height="9.4" fill="#573264"/>
<rect x="107.35" y="74.80" width="9.2" height="1.1" fill="#6A4870"/>
<rect x="108.15" y="76.30" width="1.4" height="5.4" fill="#745474"/>
<rect x="108.15" y="77.00" width="1.4" height="1.6" fill="#987678"/>
<rect x="108.15" y="79.70" width="1.4" height="1.6" fill="#987678"/>
<rect x="110.65" y="76.30" width="1.4" height="5.4" fill="#745474"/>
<rect x="110.65" y="77.00" width="1.4" height="1.6" fill="#987678"/>
<rect x="110.65" y="79.70" width="1.4" height="1.6" fill="#987678"/>
<rect x="113.65" y="76.30" width="1.4" height="5.4" fill="#745474"/>
<rect x="113.65" y="77.00" width="1.4" height="1.6" fill="#987678"/>
<rect x="113.65" y="79.70" width="1.4" height="1.6" fill="#987678"/>
<rect x="115.65" y="76.30" width="1.4" height="5.4" fill="#745474"/>
<rect x="115.65" y="77.00" width="1.4" height="1.6" fill="#987678"/>
<rect x="115.65" y="79.70" width="1.4" height="1.6" fill="#987678"/>
<rect x="107.75" y="82.20" width="8.6" height="1.3" fill="#846476"/>
<rect x="118.50" y="74.40" width="10.2" height="9.4" fill="#573264"/>
<rect x="119.00" y="74.80" width="9.2" height="1.1" fill="#6A4870"/>
<rect x="119.80" y="76.30" width="1.4" height="5.4" fill="#745474"/>
<rect x="119.80" y="77.00" width="1.4" height="1.6" fill="#987678"/>
<rect x="119.80" y="79.70" width="1.4" height="1.6" fill="#987678"/>
<rect x="122.30" y="76.30" width="1.4" height="5.4" fill="#745474"/>
<rect x="122.30" y="77.00" width="1.4" height="1.6" fill="#987678"/>
<rect x="122.30" y="79.70" width="1.4" height="1.6" fill="#987678"/>
<rect x="125.30" y="76.30" width="1.4" height="5.4" fill="#745474"/>
<rect x="125.30" y="77.00" width="1.4" height="1.6" fill="#987678"/>
<rect x="125.30" y="79.70" width="1.4" height="1.6" fill="#987678"/>
<rect x="127.30" y="76.30" width="1.4" height="5.4" fill="#745474"/>
<rect x="127.30" y="77.00" width="1.4" height="1.6" fill="#987678"/>
<rect x="127.30" y="79.70" width="1.4" height="1.6" fill="#987678"/>
<rect x="119.40" y="82.20" width="8.6" height="1.3" fill="#846476"/>
<rect x="130.15" y="74.40" width="10.2" height="9.4" fill="#573264"/>
<rect x="130.65" y="74.80" width="9.2" height="1.1" fill="#6A4870"/>
<rect x="131.45" y="76.30" width="1.4" height="5.4" fill="#745474"/>
<rect x="131.45" y="77.00" width="1.4" height="1.6" fill="#987678"/>
<rect x="131.45" y="79.70" width="1.4" height="1.6" fill="#987678"/>
<rect x="133.95" y="76.30" width="1.4" height="5.4" fill="#745474"/>
<rect x="133.95" y="77.00" width="1.4" height="1.6" fill="#987678"/>
<rect x="133.95" y="79.70" width="1.4" height="1.6" fill="#987678"/>
<rect x="136.95" y="76.30" width="1.4" height="5.4" fill="#745474"/>
<rect x="136.95" y="77.00" width="1.4" height="1.6" fill="#987678"/>
<rect x="136.95" y="79.70" width="1.4" height="1.6" fill="#987678"/>
<rect x="138.95" y="76.30" width="1.4" height="5.4" fill="#745474"/>
<rect x="138.95" y="77.00" width="1.4" height="1.6" fill="#987678"/>
<rect x="138.95" y="79.70" width="1.4" height="1.6" fill="#987678"/>
<rect x="131.05" y="82.20" width="8.6" height="1.3" fill="#846476"/>
<rect x="141.80" y="74.40" width="10.2" height="9.4" fill="#573264"/>
<rect x="142.30" y="74.80" width="9.2" height="1.1" fill="#6A4870"/>
<rect x="143.10" y="76.30" width="1.4" height="5.4" fill="#745474"/>
<rect x="143.10" y="77.00" width="1.4" height="1.6" fill="#987678"/>
<rect x="143.10" y="79.70" width="1.4" height="1.6" fill="#987678"/>
<rect x="145.60" y="76.30" width="1.4" height="5.4" fill="#745474"/>
<rect x="145.60" y="77.00" width="1.4" height="1.6" fill="#987678"/>
<rect x="145.60" y="79.70" width="1.4" height="1.6" fill="#987678"/>
<rect x="148.60" y="76.30" width="1.4" height="5.4" fill="#745474"/>
<rect x="148.60" y="77.00" width="1.4" height="1.6" fill="#987678"/>
<rect x="148.60" y="79.70" width="1.4" height="1.6" fill="#987678"/>
<rect x="150.60" y="76.30" width="1.4" height="5.4" fill="#745474"/>
<rect x="150.60" y="77.00" width="1.4" height="1.6" fill="#987678"/>
<rect x="150.60" y="79.70" width="1.4" height="1.6" fill="#987678"/>
<rect x="142.70" y="82.20" width="8.6" height="1.3" fill="#846476"/>
<rect x="48.60" y="85.98" width="10.2" height="9.4" fill="#573264"/>
<rect x="49.10" y="86.38" width="9.2" height="1.1" fill="#6A4870"/>
<rect x="49.90" y="87.88" width="1.4" height="5.4" fill="#745474"/>
<rect x="49.90" y="88.58" width="1.4" height="1.6" fill="#987678"/>
<rect x="49.90" y="91.28" width="1.4" height="1.6" fill="#987678"/>
<rect x="52.40" y="87.88" width="1.4" height="5.4" fill="#745474"/>
<rect x="52.40" y="88.58" width="1.4" height="1.6" fill="#987678"/>
<rect x="52.40" y="91.28" width="1.4" height="1.6" fill="#987678"/>
<rect x="55.40" y="87.88" width="1.4" height="5.4" fill="#745474"/>
<rect x="55.40" y="88.58" width="1.4" height="1.6" fill="#987678"/>
<rect x="55.40" y="91.28" width="1.4" height="1.6" fill="#987678"/>
<rect x="57.40" y="87.88" width="1.4" height="5.4" fill="#745474"/>
<rect x="57.40" y="88.58" width="1.4" height="1.6" fill="#987678"/>
<rect x="57.40" y="91.28" width="1.4" height="1.6" fill="#987678"/>
<rect x="49.50" y="93.78" width="8.6" height="1.3" fill="#846476"/>
<rect x="60.25" y="85.98" width="10.2" height="9.4" fill="#573264"/>
<rect x="60.75" y="86.38" width="9.2" height="1.1" fill="#6A4870"/>
<rect x="61.55" y="87.88" width="1.4" height="5.4" fill="#745474"/>
<rect x="61.55" y="88.58" width="1.4" height="1.6" fill="#987678"/>
<rect x="61.55" y="91.28" width="1.4" height="1.6" fill="#987678"/>
<rect x="64.05" y="87.88" width="1.4" height="5.4" fill="#745474"/>
<rect x="64.05" y="88.58" width="1.4" height="1.6" fill="#987678"/>
<rect x="64.05" y="91.28" width="1.4" height="1.6" fill="#987678"/>
<rect x="67.05" y="87.88" width="1.4" height="5.4" fill="#745474"/>
<rect x="67.05" y="88.58" width="1.4" height="1.6" fill="#987678"/>
<rect x="67.05" y="91.28" width="1.4" height="1.6" fill="#987678"/>
<rect x="69.05" y="87.88" width="1.4" height="5.4" fill="#745474"/>
<rect x="69.05" y="88.58" width="1.4" height="1.6" fill="#987678"/>
<rect x="69.05" y="91.28" width="1.4" height="1.6" fill="#987678"/>
<rect x="61.15" y="93.78" width="8.6" height="1.3" fill="#846476"/>
<rect x="71.90" y="85.98" width="10.2" height="9.4" fill="#573264"/>
<rect x="72.40" y="86.38" width="9.2" height="1.1" fill="#6A4870"/>
<rect x="73.20" y="87.88" width="1.4" height="5.4" fill="#745474"/>
<rect x="73.20" y="88.58" width="1.4" height="1.6" fill="#987678"/>
<rect x="73.20" y="91.28" width="1.4" height="1.6" fill="#987678"/>
<rect x="75.70" y="87.88" width="1.4" height="5.4" fill="#745474"/>
<rect x="75.70" y="88.58" width="1.4" height="1.6" fill="#987678"/>
<rect x="75.70" y="91.28" width="1.4" height="1.6" fill="#987678"/>
<rect x="78.70" y="87.88" width="1.4" height="5.4" fill="#745474"/>
<rect x="78.70" y="88.58" width="1.4" height="1.6" fill="#987678"/>
<rect x="78.70" y="91.28" width="1.4" height="1.6" fill="#987678"/>
<rect x="80.70" y="87.88" width="1.4" height="5.4" fill="#745474"/>
<rect x="80.70" y="88.58" width="1.4" height="1.6" fill="#987678"/>
<rect x="80.70" y="91.28" width="1.4" height="1.6" fill="#987678"/>
<rect x="72.80" y="93.78" width="8.6" height="1.3" fill="#846476"/>
<rect x="83.55" y="85.98" width="10.2" height="9.4" fill="#573264"/>
<rect x="84.05" y="86.38" width="9.2" height="1.1" fill="#6A4870"/>
<rect x="84.85" y="87.88" width="1.4" height="5.4" fill="#745474"/>
<rect x="84.85" y="88.58" width="1.4" height="1.6" fill="#987678"/>
<rect x="84.85" y="91.28" width="1.4" height="1.6" fill="#987678"/>
<rect x="87.35" y="87.88" width="1.4" height="5.4" fill="#745474"/>
<rect x="87.35" y="88.58" width="1.4" height="1.6" fill="#987678"/>
<rect x="87.35" y="91.28" width="1.4" height="1.6" fill="#987678"/>
<rect x="90.35" y="87.88" width="1.4" height="5.4" fill="#745474"/>
<rect x="90.35" y="88.58" width="1.4" height="1.6" fill="#987678"/>
<rect x="90.35" y="91.28" width="1.4" height="1.6" fill="#987678"/>
<rect x="92.35" y="87.88" width="1.4" height="5.4" fill="#745474"/>
<rect x="92.35" y="88.58" width="1.4" height="1.6" fill="#987678"/>
<rect x="92.35" y="91.28" width="1.4" height="1.6" fill="#987678"/>
<rect x="84.45" y="93.78" width="8.6" height="1.3" fill="#846476"/>
<rect x="95.20" y="85.98" width="10.2" height="9.4" fill="#573264"/>
<rect x="95.70" y="86.38" width="9.2" height="1.1" fill="#6A4870"/>
<rect x="96.50" y="87.88" width="1.4" height="5.4" fill="#745474"/>
<rect x="96.50" y="88.58" width="1.4" height="1.6" fill="#987678"/>
<rect x="96.50" y="91.28" width="1.4" height="1.6" fill="#987678"/>
<rect x="99.00" y="87.88" width="1.4" height="5.4" fill="#745474"/>
<rect x="99.00" y="88.58" width="1.4" height="1.6" fill="#987678"/>
<rect x="99.00" y="91.28" width="1.4" height="1.6" fill="#987678"/>
<rect x="102.00" y="87.88" width="1.4" height="5.4" fill="#745474"/>
<rect x="102.00" y="88.58" width="1.4" height="1.6" fill="#987678"/>
<rect x="102.00" y="91.28" width="1.4" height="1.6" fill="#987678"/>
<rect x="104.00" y="87.88" width="1.4" height="5.4" fill="#745474"/>
<rect x="104.00" y="88.58" width="1.4" height="1.6" fill="#987678"/>
<rect x="104.00" y="91.28" width="1.4" height="1.6" fill="#987678"/>
<rect x="96.10" y="93.78" width="8.6" height="1.3" fill="#846476"/>
<rect x="106.85" y="85.98" width="10.2" height="9.4" fill="#573264"/>
<rect x="107.35" y="86.38" width="9.2" height="1.1" fill="#6A4870"/>
<rect x="108.15" y="87.88" width="1.4" height="5.4" fill="#745474"/>
<rect x="108.15" y="88.58" width="1.4" height="1.6" fill="#987678"/>
<rect x="108.15" y="91.28" width="1.4" height="1.6" fill="#987678"/>
<rect x="110.65" y="87.88" width="1.4" height="5.4" fill="#745474"/>
<rect x="110.65" y="88.58" width="1.4" height="1.6" fill="#987678"/>
<rect x="110.65" y="91.28" width="1.4" height="1.6" fill="#987678"/>
<rect x="113.65" y="87.88" width="1.4" height="5.4" fill="#745474"/>
<rect x="113.65" y="88.58" width="1.4" height="1.6" fill="#987678"/>
<rect x="113.65" y="91.28" width="1.4" height="1.6" fill="#987678"/>
<rect x="115.65" y="87.88" width="1.4" height="5.4" fill="#745474"/>
<rect x="115.65" y="88.58" width="1.4" height="1.6" fill="#987678"/>
<rect x="115.65" y="91.28" width="1.4" height="1.6" fill="#987678"/>
<rect x="107.75" y="93.78" width="8.6" height="1.3" fill="#846476"/>
<rect x="118.50" y="85.98" width="10.2" height="9.4" fill="#573264"/>
<rect x="119.00" y="86.38" width="9.2" height="1.1" fill="#6A4870"/>
<rect x="119.80" y="87.88" width="1.4" height="5.4" fill="#745474"/>
<rect x="119.80" y="88.58" width="1.4" height="1.6" fill="#987678"/>
<rect x="119.80" y="91.28" width="1.4" height="1.6" fill="#987678"/>
<rect x="122.30" y="87.88" width="1.4" height="5.4" fill="#745474"/>
<rect x="122.30" y="88.58" width="1.4" height="1.6" fill="#987678"/>
<rect x="122.30" y="91.28" width="1.4" height="1.6" fill="#987678"/>
<rect x="125.30" y="87.88" width="1.4" height="5.4" fill="#745474"/>
<rect x="125.30" y="88.58" width="1.4" height="1.6" fill="#987678"/>
<rect x="125.30" y="91.28" width="1.4" height="1.6" fill="#987678"/>
<rect x="127.30" y="87.88" width="1.4" height="5.4" fill="#745474"/>
<rect x="127.30" y="88.58" width="1.4" height="1.6" fill="#987678"/>
<rect x="127.30" y="91.28" width="1.4" height="1.6" fill="#987678"/>
<rect x="119.40" y="93.78" width="8.6" height="1.3" fill="#846476"/>
<rect x="130.15" y="85.98" width="10.2" height="9.4" fill="#573264"/>
<rect x="130.65" y="86.38" width="9.2" height="1.1" fill="#6A4870"/>
<rect x="131.45" y="87.88" width="1.4" height="5.4" fill="#745474"/>
<rect x="131.45" y="88.58" width="1.4" height="1.6" fill="#987678"/>
<rect x="131.45" y="91.28" width="1.4" height="1.6" fill="#987678"/>
<rect x="133.95" y="87.88" width="1.4" height="5.4" fill="#745474"/>
<rect x="133.95" y="88.58" width="1.4" height="1.6" fill="#987678"/>
<rect x="133.95" y="91.28" width="1.4" height="1.6" fill="#987678"/>
<rect x="136.95" y="87.88" width="1.4" height="5.4" fill="#745474"/>
<rect x="136.95" y="88.58" width="1.4" height="1.6" fill="#987678"/>
<rect x="136.95" y="91.28" width="1.4" height="1.6" fill="#987678"/>
<rect x="138.95" y="87.88" width="1.4" height="5.4" fill="#745474"/>
<rect x="138.95" y="88.58" width="1.4" height="1.6" fill="#987678"/>
<rect x="138.95" y="91.28" width="1.4" height="1.6" fill="#987678"/>
<rect x="131.05" y="93.78" width="8.6" height="1.3" fill="#846476"/>
<rect x="141.80" y="85.98" width="10.2" height="9.4" fill="#573264"/>
<rect x="142.30" y="86.38" width="9.2" height="1.1" fill="#6A4870"/>
<rect x="143.10" y="87.88" width="1.4" height="5.4" fill="#745474"/>
<rect x="143.10" y="88.58" width="1.4" height="1.6" fill="#987678"/>
<rect x="143.10" y="91.28" width="1.4" height="1.6" fill="#987678"/>
<rect x="145.60" y="87.88" width="1.4" height="5.4" fill="#745474"/>
<rect x="145.60" y="88.58" width="1.4" height="1.6" fill="#987678"/>
<rect x="145.60" y="91.28" width="1.4" height="1.6" fill="#987678"/>
<rect x="148.60" y="87.88" width="1.4" height="5.4" fill="#745474"/>
<rect x="148.60" y="88.58" width="1.4" height="1.6" fill="#987678"/>
<rect x="148.60" y="91.28" width="1.4" height="1.6" fill="#987678"/>
<rect x="150.60" y="87.88" width="1.4" height="5.4" fill="#745474"/>
<rect x="150.60" y="88.58" width="1.4" height="1.6" fill="#987678"/>
<rect x="150.60" y="91.28" width="1.4" height="1.6" fill="#987678"/>
<rect x="142.70" y="93.78" width="8.6" height="1.3" fill="#846476"/>
<rect x="60.25" y="97.56" width="10.2" height="9.4" fill="#573264"/>
<rect x="60.75" y="97.96" width="9.2" height="1.1" fill="#6A4870"/>
<rect x="61.55" y="99.46" width="1.4" height="5.4" fill="#745474"/>
<rect x="61.55" y="100.16" width="1.4" height="1.6" fill="#987678"/>
<rect x="61.55" y="102.86" width="1.4" height="1.6" fill="#987678"/>
<rect x="64.05" y="99.46" width="1.4" height="5.4" fill="#745474"/>
<rect x="64.05" y="100.16" width="1.4" height="1.6" fill="#987678"/>
<rect x="64.05" y="102.86" width="1.4" height="1.6" fill="#987678"/>
<rect x="67.05" y="99.46" width="1.4" height="5.4" fill="#745474"/>
<rect x="67.05" y="100.16" width="1.4" height="1.6" fill="#987678"/>
<rect x="67.05" y="102.86" width="1.4" height="1.6" fill="#987678"/>
<rect x="69.05" y="99.46" width="1.4" height="5.4" fill="#745474"/>
<rect x="69.05" y="100.16" width="1.4" height="1.6" fill="#987678"/>
<rect x="69.05" y="102.86" width="1.4" height="1.6" fill="#987678"/>
<rect x="61.15" y="105.36" width="8.6" height="1.3" fill="#846476"/>
<rect x="71.90" y="97.56" width="10.2" height="9.4" fill="#573264"/>
<rect x="72.40" y="97.96" width="9.2" height="1.1" fill="#6A4870"/>
<rect x="73.20" y="99.46" width="1.4" height="5.4" fill="#745474"/>
<rect x="73.20" y="100.16" width="1.4" height="1.6" fill="#987678"/>
<rect x="73.20" y="102.86" width="1.4" height="1.6" fill="#987678"/>
<rect x="75.70" y="99.46" width="1.4" height="5.4" fill="#745474"/>
<rect x="75.70" y="100.16" width="1.4" height="1.6" fill="#987678"/>
<rect x="75.70" y="102.86" width="1.4" height="1.6" fill="#987678"/>
<rect x="78.70" y="99.46" width="1.4" height="5.4" fill="#745474"/>
<rect x="78.70" y="100.16" width="1.4" height="1.6" fill="#987678"/>
<rect x="78.70" y="102.86" width="1.4" height="1.6" fill="#987678"/>
<rect x="80.70" y="99.46" width="1.4" height="5.4" fill="#745474"/>
<rect x="80.70" y="100.16" width="1.4" height="1.6" fill="#987678"/>
<rect x="80.70" y="102.86" width="1.4" height="1.6" fill="#987678"/>
<rect x="72.80" y="105.36" width="8.6" height="1.3" fill="#846476"/>
<rect x="83.55" y="97.56" width="10.2" height="9.4" fill="#573264"/>
<rect x="84.05" y="97.96" width="9.2" height="1.1" fill="#6A4870"/>
<rect x="84.85" y="99.46" width="1.4" height="5.4" fill="#745474"/>
<rect x="84.85" y="100.16" width="1.4" height="1.6" fill="#987678"/>
<rect x="84.85" y="102.86" width="1.4" height="1.6" fill="#987678"/>
<rect x="87.35" y="99.46" width="1.4" height="5.4" fill="#745474"/>
<rect x="87.35" y="100.16" width="1.4" height="1.6" fill="#987678"/>
<rect x="87.35" y="102.86" width="1.4" height="1.6" fill="#987678"/>
<rect x="90.35" y="99.46" width="1.4" height="5.4" fill="#745474"/>
<rect x="90.35" y="100.16" width="1.4" height="1.6" fill="#987678"/>
<rect x="90.35" y="102.86" width="1.4" height="1.6" fill="#987678"/>
<rect x="92.35" y="99.46" width="1.4" height="5.4" fill="#745474"/>
<rect x="92.35" y="100.16" width="1.4" height="1.6" fill="#987678"/>
<rect x="92.35" y="102.86" width="1.4" height="1.6" fill="#987678"/>
<rect x="84.45" y="105.36" width="8.6" height="1.3" fill="#846476"/>
<rect x="95.20" y="97.56" width="10.2" height="9.4" fill="#573264"/>
<rect x="95.70" y="97.96" width="9.2" height="1.1" fill="#6A4870"/>
<rect x="96.50" y="99.46" width="1.4" height="5.4" fill="#745474"/>
<rect x="96.50" y="100.16" width="1.4" height="1.6" fill="#987678"/>
<rect x="96.50" y="102.86" width="1.4" height="1.6" fill="#987678"/>
<rect x="99.00" y="99.46" width="1.4" height="5.4" fill="#745474"/>
<rect x="99.00" y="100.16" width="1.4" height="1.6" fill="#987678"/>
<rect x="99.00" y="102.86" width="1.4" height="1.6" fill="#987678"/>
<rect x="102.00" y="99.46" width="1.4" height="5.4" fill="#745474"/>
<rect x="102.00" y="100.16" width="1.4" height="1.6" fill="#987678"/>
<rect x="102.00" y="102.86" width="1.4" height="1.6" fill="#987678"/>
<rect x="104.00" y="99.46" width="1.4" height="5.4" fill="#745474"/>
<rect x="104.00" y="100.16" width="1.4" height="1.6" fill="#987678"/>
<rect x="104.00" y="102.86" width="1.4" height="1.6" fill="#987678"/>
<rect x="96.10" y="105.36" width="8.6" height="1.3" fill="#846476"/>
<rect x="106.85" y="97.56" width="10.2" height="9.4" fill="#573264"/>
<rect x="107.35" y="97.96" width="9.2" height="1.1" fill="#6A4870"/>
<rect x="108.15" y="99.46" width="1.4" height="5.4" fill="#745474"/>
<rect x="108.15" y="100.16" width="1.4" height="1.6" fill="#987678"/>
<rect x="108.15" y="102.86" width="1.4" height="1.6" fill="#987678"/>
<rect x="110.65" y="99.46" width="1.4" height="5.4" fill="#745474"/>
<rect x="110.65" y="100.16" width="1.4" height="1.6" fill="#987678"/>
<rect x="110.65" y="102.86" width="1.4" height="1.6" fill="#987678"/>
<rect x="113.65" y="99.46" width="1.4" height="5.4" fill="#745474"/>
<rect x="113.65" y="100.16" width="1.4" height="1.6" fill="#987678"/>
<rect x="113.65" y="102.86" width="1.4" height="1.6" fill="#987678"/>
<rect x="115.65" y="99.46" width="1.4" height="5.4" fill="#745474"/>
<rect x="115.65" y="100.16" width="1.4" height="1.6" fill="#987678"/>
<rect x="115.65" y="102.86" width="1.4" height="1.6" fill="#987678"/>
<rect x="107.75" y="105.36" width="8.6" height="1.3" fill="#846476"/>
<rect x="118.50" y="97.56" width="10.2" height="9.4" fill="#573264"/>
<rect x="119.00" y="97.96" width="9.2" height="1.1" fill="#6A4870"/>
<rect x="119.80" y="99.46" width="1.4" height="5.4" fill="#745474"/>
<rect x="119.80" y="100.16" width="1.4" height="1.6" fill="#987678"/>
<rect x="119.80" y="102.86" width="1.4" height="1.6" fill="#987678"/>
<rect x="122.30" y="99.46" width="1.4" height="5.4" fill="#745474"/>
<rect x="122.30" y="100.16" width="1.4" height="1.6" fill="#987678"/>
<rect x="122.30" y="102.86" width="1.4" height="1.6" fill="#987678"/>
<rect x="125.30" y="99.46" width="1.4" height="5.4" fill="#745474"/>
<rect x="125.30" y="100.16" width="1.4" height="1.6" fill="#987678"/>
<rect x="125.30" y="102.86" width="1.4" height="1.6" fill="#987678"/>
<rect x="127.30" y="99.46" width="1.4" height="5.4" fill="#745474"/>
<rect x="127.30" y="100.16" width="1.4" height="1.6" fill="#987678"/>
<rect x="127.30" y="102.86" width="1.4" height="1.6" fill="#987678"/>
<rect x="119.40" y="105.36" width="8.6" height="1.3" fill="#846476"/>
<rect x="130.15" y="97.56" width="10.2" height="9.4" fill="#573264"/>
<rect x="130.65" y="97.96" width="9.2" height="1.1" fill="#6A4870"/>
<rect x="131.45" y="99.46" width="1.4" height="5.4" fill="#745474"/>
<rect x="131.45" y="100.16" width="1.4" height="1.6" fill="#987678"/>
<rect x="131.45" y="102.86" width="1.4" height="1.6" fill="#987678"/>
<rect x="133.95" y="99.46" width="1.4" height="5.4" fill="#745474"/>
<rect x="133.95" y="100.16" width="1.4" height="1.6" fill="#987678"/>
<rect x="133.95" y="102.86" width="1.4" height="1.6" fill="#987678"/>
<rect x="136.95" y="99.46" width="1.4" height="5.4" fill="#745474"/>
<rect x="136.95" y="100.16" width="1.4" height="1.6" fill="#987678"/>
<rect x="136.95" y="102.86" width="1.4" height="1.6" fill="#987678"/>
<rect x="138.95" y="99.46" width="1.4" height="5.4" fill="#745474"/>
<rect x="138.95" y="100.16" width="1.4" height="1.6" fill="#987678"/>
<rect x="138.95" y="102.86" width="1.4" height="1.6" fill="#987678"/>
<rect x="131.05" y="105.36" width="8.6" height="1.3" fill="#846476"/>
<rect x="71.90" y="109.14" width="10.2" height="9.4" fill="#573264"/>
<rect x="72.40" y="109.54" width="9.2" height="1.1" fill="#6A4870"/>
<rect x="73.20" y="111.04" width="1.4" height="5.4" fill="#745474"/>
<rect x="73.20" y="111.74" width="1.4" height="1.6" fill="#987678"/>
<rect x="73.20" y="114.44" width="1.4" height="1.6" fill="#987678"/>
<rect x="75.70" y="111.04" width="1.4" height="5.4" fill="#745474"/>
<rect x="75.70" y="111.74" width="1.4" height="1.6" fill="#987678"/>
<rect x="75.70" y="114.44" width="1.4" height="1.6" fill="#987678"/>
<rect x="78.70" y="111.04" width="1.4" height="5.4" fill="#745474"/>
<rect x="78.70" y="111.74" width="1.4" height="1.6" fill="#987678"/>
<rect x="78.70" y="114.44" width="1.4" height="1.6" fill="#987678"/>
<rect x="80.70" y="111.04" width="1.4" height="5.4" fill="#745474"/>
<rect x="80.70" y="111.74" width="1.4" height="1.6" fill="#987678"/>
<rect x="80.70" y="114.44" width="1.4" height="1.6" fill="#987678"/>
<rect x="72.80" y="116.94" width="8.6" height="1.3" fill="#846476"/>
<rect x="83.55" y="109.14" width="10.2" height="9.4" fill="#573264"/>
<rect x="84.05" y="109.54" width="9.2" height="1.1" fill="#6A4870"/>
<rect x="84.85" y="111.04" width="1.4" height="5.4" fill="#745474"/>
<rect x="84.85" y="111.74" width="1.4" height="1.6" fill="#987678"/>
<rect x="84.85" y="114.44" width="1.4" height="1.6" fill="#987678"/>
<rect x="87.35" y="111.04" width="1.4" height="5.4" fill="#745474"/>
<rect x="87.35" y="111.74" width="1.4" height="1.6" fill="#987678"/>
<rect x="87.35" y="114.44" width="1.4" height="1.6" fill="#987678"/>
<rect x="90.35" y="111.04" width="1.4" height="5.4" fill="#745474"/>
<rect x="90.35" y="111.74" width="1.4" height="1.6" fill="#987678"/>
<rect x="90.35" y="114.44" width="1.4" height="1.6" fill="#987678"/>
<rect x="92.35" y="111.04" width="1.4" height="5.4" fill="#745474"/>
<rect x="92.35" y="111.74" width="1.4" height="1.6" fill="#987678"/>
<rect x="92.35" y="114.44" width="1.4" height="1.6" fill="#987678"/>
<rect x="84.45" y="116.94" width="8.6" height="1.3" fill="#846476"/>
<rect x="95.20" y="109.14" width="10.2" height="9.4" fill="#573264"/>
<rect x="95.70" y="109.54" width="9.2" height="1.1" fill="#6A4870"/>
<rect x="96.50" y="111.04" width="1.4" height="5.4" fill="#745474"/>
<rect x="96.50" y="111.74" width="1.4" height="1.6" fill="#987678"/>
<rect x="96.50" y="114.44" width="1.4" height="1.6" fill="#987678"/>
<rect x="99.00" y="111.04" width="1.4" height="5.4" fill="#745474"/>
<rect x="99.00" y="111.74" width="1.4" height="1.6" fill="#987678"/>
<rect x="99.00" y="114.44" width="1.4" height="1.6" fill="#987678"/>
<rect x="102.00" y="111.04" width="1.4" height="5.4" fill="#745474"/>
<rect x="102.00" y="111.74" width="1.4" height="1.6" fill="#987678"/>
<rect x="102.00" y="114.44" width="1.4" height="1.6" fill="#987678"/>
<rect x="104.00" y="111.04" width="1.4" height="5.4" fill="#745474"/>
<rect x="104.00" y="111.74" width="1.4" height="1.6" fill="#987678"/>
<rect x="104.00" y="114.44" width="1.4" height="1.6" fill="#987678"/>
<rect x="96.10" y="116.94" width="8.6" height="1.3" fill="#846476"/>
<rect x="106.85" y="109.14" width="10.2" height="9.4" fill="#573264"/>
<rect x="107.35" y="109.54" width="9.2" height="1.1" fill="#6A4870"/>
<rect x="108.15" y="111.04" width="1.4" height="5.4" fill="#745474"/>
<rect x="108.15" y="111.74" width="1.4" height="1.6" fill="#987678"/>
<rect x="108.15" y="114.44" width="1.4" height="1.6" fill="#987678"/>
<rect x="110.65" y="111.04" width="1.4" height="5.4" fill="#745474"/>
<rect x="110.65" y="111.74" width="1.4" height="1.6" fill="#987678"/>
<rect x="110.65" y="114.44" width="1.4" height="1.6" fill="#987678"/>
<rect x="113.65" y="111.04" width="1.4" height="5.4" fill="#745474"/>
<rect x="113.65" y="111.74" width="1.4" height="1.6" fill="#987678"/>
<rect x="113.65" y="114.44" width="1.4" height="1.6" fill="#987678"/>
<rect x="115.65" y="111.04" width="1.4" height="5.4" fill="#745474"/>
<rect x="115.65" y="111.74" width="1.4" height="1.6" fill="#987678"/>
<rect x="115.65" y="114.44" width="1.4" height="1.6" fill="#987678"/>
<rect x="107.75" y="116.94" width="8.6" height="1.3" fill="#846476"/>
<rect x="118.50" y="109.14" width="10.2" height="9.4" fill="#573264"/>
<rect x="119.00" y="109.54" width="9.2" height="1.1" fill="#6A4870"/>
<rect x="119.80" y="111.04" width="1.4" height="5.4" fill="#745474"/>
<rect x="119.80" y="111.74" width="1.4" height="1.6" fill="#987678"/>
<rect x="119.80" y="114.44" width="1.4" height="1.6" fill="#987678"/>
<rect x="122.30" y="111.04" width="1.4" height="5.4" fill="#745474"/>
<rect x="122.30" y="111.74" width="1.4" height="1.6" fill="#987678"/>
<rect x="122.30" y="114.44" width="1.4" height="1.6" fill="#987678"/>
<rect x="125.30" y="111.04" width="1.4" height="5.4" fill="#745474"/>
<rect x="125.30" y="111.74" width="1.4" height="1.6" fill="#987678"/>
<rect x="125.30" y="114.44" width="1.4" height="1.6" fill="#987678"/>
<rect x="127.30" y="111.04" width="1.4" height="5.4" fill="#745474"/>
<rect x="127.30" y="111.74" width="1.4" height="1.6" fill="#987678"/>
<rect x="127.30" y="114.44" width="1.4" height="1.6" fill="#987678"/>
<rect x="119.40" y="116.94" width="8.6" height="1.3" fill="#846476"/>
<circle cx="99.8" cy="71.0" r="57.8" fill="url(#wshade)" clip-path="url(#wclip)"/>
<circle cx="99.8" cy="71.0" r="57.8" fill="url(#wred)" clip-path="url(#wclip)"/>
</g>
<rect x="37.2" y="136.2" width="136.6" height="14.2" fill="#E0E0E8"/>
<rect x="37.2" y="136.4" width="136.6" height="5.0" fill="#BDBDC8"/>
<path d="M42.20,136.6 v3.2 M43.34,136.6 v1.6 M44.48,136.6 v1.6 M45.62,136.6 v1.6 M46.76,136.6 v1.6 M47.90,136.6 v2.4 M49.04,136.6 v1.6 M50.18,136.6 v1.6 M51.32,136.6 v1.6 M52.46,136.6 v1.6 M53.60,136.6 v3.2 M54.74,136.6 v1.6 M55.88,136.6 v1.6 M57.02,136.6 v1.6 M58.16,136.6 v1.6 M59.30,136.6 v2.4 M60.44,136.6 v1.6 M61.58,136.6 v1.6 M62.72,136.6 v1.6 M63.86,136.6 v1.6 M65.00,136.6 v3.2 M66.14,136.6 v1.6 M67.28,136.6 v1.6 M68.42,136.6 v1.6 M69.56,136.6 v1.6 M70.70,136.6 v2.4 M71.84,136.6 v1.6 M72.98,136.6 v1.6 M74.12,136.6 v1.6 M75.26,136.6 v1.6 M76.40,136.6 v3.2 M77.54,136.6 v1.6 M78.68,136.6 v1.6 M79.82,136.6 v1.6 M80.96,136.6 v1.6 M82.10,136.6 v2.4 M83.24,136.6 v1.6 M84.38,136.6 v1.6 M85.52,136.6 v1.6 M86.66,136.6 v1.6 M87.80,136.6 v3.2 M88.94,136.6 v1.6 M90.08,136.6 v1.6 M91.22,136.6 v1.6 M92.36,136.6 v1.6 M93.50,136.6 v2.4 M94.64,136.6 v1.6 M95.78,136.6 v1.6 M96.92,136.6 v1.6 M98.06,136.6 v1.6 M99.20,136.6 v3.2 M100.34,136.6 v1.6 M101.48,136.6 v1.6 M102.62,136.6 v1.6 M103.76,136.6 v1.6 M104.90,136.6 v2.4 M106.04,136.6 v1.6 M107.18,136.6 v1.6 M108.32,136.6 v1.6 M109.46,136.6 v1.6 M110.60,136.6 v3.2 M111.74,136.6 v1.6 M112.88,136.6 v1.6 M114.02,136.6 v1.6 M115.16,136.6 v1.6 M116.30,136.6 v2.4 M117.44,136.6 v1.6 M118.58,136.6 v1.6 M119.72,136.6 v1.6 M120.86,136.6 v1.6 M122.00,136.6 v3.2 M123.14,136.6 v1.6 M124.28,136.6 v1.6 M125.42,136.6 v1.6 M126.56,136.6 v1.6 M127.70,136.6 v2.4 M128.84,136.6 v1.6 M129.98,136.6 v1.6 M131.12,136.6 v1.6 M132.26,136.6 v1.6 M133.40,136.6 v3.2 M134.54,136.6 v1.6 M135.68,136.6 v1.6 M136.82,136.6 v1.6 M137.96,136.6 v1.6 M139.10,136.6 v2.4 M140.24,136.6 v1.6 M141.38,136.6 v1.6 M142.52,136.6 v1.6 M143.66,136.6 v1.6 M144.80,136.6 v3.2 M145.94,136.6 v1.6 M147.08,136.6 v1.6 M148.22,136.6 v1.6 M149.36,136.6 v1.6 M150.50,136.6 v2.4 M151.64,136.6 v1.6 M152.78,136.6 v1.6 M153.92,136.6 v1.6 M155.06,136.6 v1.6 M156.20,136.6 v3.2 M157.34,136.6 v1.6 M158.48,136.6 v1.6 M159.62,136.6 v1.6 M160.76,136.6 v1.6 M161.90,136.6 v2.4 M163.04,136.6 v1.6 M164.18,136.6 v1.6 M165.32,136.6 v1.6 M166.46,136.6 v1.6 M167.60,136.6 v3.2 M168.74,136.6 v1.6 M169.88,136.6 v1.6 M171.02,136.6 v1.6 M172.16,136.6 v1.6 M173.30,136.6 v2.4" stroke="#9C9CA8" stroke-width="0.5" fill="none"/>
<rect x="41.90" y="141.2" width="0.6" height="1.4" fill="#8C8C98"/>
<text x="42.20" y="147.9" font-size="6.0" fill="#5A5A62" text-anchor="middle">0</text>
<rect x="53.30" y="141.2" width="0.6" height="1.4" fill="#8C8C98"/>
<text x="53.60" y="147.9" font-size="6.0" fill="#5A5A62" text-anchor="middle">1</text>
<rect x="64.70" y="141.2" width="0.6" height="1.4" fill="#8C8C98"/>
<text x="65.00" y="147.9" font-size="6.0" fill="#5A5A62" text-anchor="middle">2</text>
<rect x="76.10" y="141.2" width="0.6" height="1.4" fill="#8C8C98"/>
<text x="76.40" y="147.9" font-size="6.0" fill="#5A5A62" text-anchor="middle">3</text>
<rect x="87.50" y="141.2" width="0.6" height="1.4" fill="#8C8C98"/>
<text x="87.80" y="147.9" font-size="6.0" fill="#5A5A62" text-anchor="middle">4</text>
<rect x="98.90" y="141.2" width="0.6" height="1.4" fill="#8C8C98"/>
<text x="99.20" y="147.9" font-size="6.0" fill="#5A5A62" text-anchor="middle">5</text>
<rect x="110.30" y="141.2" width="0.6" height="1.4" fill="#8C8C98"/>
<text x="110.60" y="147.9" font-size="6.0" fill="#5A5A62" text-anchor="middle">6</text>
<rect x="121.70" y="141.2" width="0.6" height="1.4" fill="#8C8C98"/>
<text x="122.00" y="147.9" font-size="6.0" fill="#5A5A62" text-anchor="middle">7</text>
<rect x="133.10" y="141.2" width="0.6" height="1.4" fill="#8C8C98"/>
<text x="133.40" y="147.9" font-size="6.0" fill="#5A5A62" text-anchor="middle">8</text>
<rect x="144.50" y="141.2" width="0.6" height="1.4" fill="#8C8C98"/>
<text x="144.80" y="147.9" font-size="6.0" fill="#5A5A62" text-anchor="middle">9</text>
<rect x="155.90" y="141.2" width="0.6" height="1.4" fill="#8C8C98"/>
<text x="156.20" y="147.9" font-size="6.0" fill="#5A5A62" text-anchor="middle">10</text>
<rect x="167.30" y="141.2" width="0.6" height="1.4" fill="#8C8C98"/>
<text x="167.60" y="147.9" font-size="6.0" fill="#5A5A62" text-anchor="middle">11</text>
<text x="47.9" y="147.9" font-size="4.8" fill="#606068" text-anchor="middle">cm</text>
<rect x="122.9" y="9.2" width="45.8" height="48.2" fill="#A65C8E"/>
<rect x="123.4" y="9.7" width="44.8" height="47.2" fill="none" stroke="#B46A9C" stroke-width="0.6"/>
<rect x="128.8" y="13.1" width="10.2" height="10.0" fill="#F5E4C3"/>
<rect x="128.8" y="28.5" width="10.2" height="10.0" fill="#F5E4C3"/>
<rect x="128.8" y="41.6" width="10.2" height="10.0" fill="#F5E4C3"/>
<rect x="153.0" y="16.6" width="10.2" height="10.0" fill="#F5E4C3"/>
<rect x="153.0" y="30.6" width="10.2" height="10.0" fill="#F5E4C3"/>
<rect x="153.0" y="42.8" width="10.2" height="10.0" fill="#F5E4C3"/>
<line x1="138.8" y1="23.0" x2="145.4" y2="28.4" stroke="#E6B4D0" stroke-width="0.8"/>
<line x1="153.2" y1="25.4" x2="147.9" y2="28.9" stroke="#E6B4D0" stroke-width="0.8"/>
<line x1="144.2" y1="28.6" x2="148.6" y2="28.6" stroke="#E6B4D0" stroke-width="0.8"/>
<line x1="138.8" y1="33.3" x2="146.5" y2="33.3" stroke="#E6B4D0" stroke-width="0.8"/>
<line x1="153.2" y1="35.3" x2="143.9" y2="35.3" stroke="#E6B4D0" stroke-width="0.8"/>
<line x1="138.8" y1="40.7" x2="143.9" y2="37.3" stroke="#E6B4D0" stroke-width="0.8"/>
<line x1="153.2" y1="41.7" x2="148.4" y2="37.8" stroke="#E6B4D0" stroke-width="0.8"/>
<line x1="143.9" y1="37.5" x2="148.6" y2="37.5" stroke="#E6B4D0" stroke-width="0.8"/>
<text x="126.5" y="21.8" font-size="7" fill="#F4DCEC" text-anchor="middle">6</text>
<text x="126.5" y="37.0" font-size="7" fill="#F4DCEC" text-anchor="middle">4</text>
<text x="126.5" y="50.2" font-size="7" fill="#F4DCEC" text-anchor="middle">2</text>
<text x="165.6" y="25.2" font-size="7" fill="#F4DCEC" text-anchor="middle">5</text>
<text x="165.6" y="39.2" font-size="7" fill="#F4DCEC" text-anchor="middle">3</text>
<text x="165.6" y="51.6" font-size="7" fill="#F4DCEC" text-anchor="middle">1</text>
<rect x="125.9" y="53.8" width="8.7" height="0.9" fill="#F4E8F0"/>
<rect x="198.80" y="4.00" width="23.05" height="23.37" fill="#8282FF"/>
<rect x="221.25" y="4.00" width="23.05" height="23.37" fill="#8282FC"/>
<rect x="243.70" y="4.00" width="23.05" height="23.37" fill="#7E7EFF"/>
<rect x="266.15" y="4.00" width="23.05" height="23.37" fill="#8282FF"/>
<rect x="288.60" y="4.00" width="23.05" height="23.37" fill="#8484FF"/>
<rect x="311.05" y="4.00" width="22.45" height="23.37" fill="#8484FF"/>
<rect x="198.80" y="26.77" width="23.05" height="23.37" fill="#8484FF"/>
<rect x="221.25" y="26.77" width="23.05" height="23.37" fill="#7E7EFF"/>
<rect x="243.70" y="26.77" width="23.05" height="23.37" fill="#8080FF"/>
<rect x="266.15" y="26.77" width="23.05" height="23.37" fill="#7E7EFF"/>
<rect x="288.60" y="26.77" width="23.05" height="23.37" fill="#8282FF"/>
<rect x="311.05" y="26.77" width="22.45" height="23.37" fill="#8484FF"/>
<rect x="198.80" y="49.53" width="23.05" height="22.77" fill="#8282FF"/>
<rect x="221.25" y="49.53" width="23.05" height="22.77" fill="#8484FF"/>
<rect x="243.70" y="49.53" width="23.05" height="22.77" fill="#8282FF"/>
<rect x="266.15" y="49.53" width="23.05" height="22.77" fill="#8282FF"/>
<rect x="288.60" y="49.53" width="23.05" height="22.77" fill="#8484FF"/>
<rect x="311.05" y="49.53" width="22.45" height="22.77" fill="#7E7EFF"/>
<rect x="198.80" y="4.00" width="134.70" height="68.30" fill="none" stroke="#9A9A9A" stroke-width="0.9" stroke-dasharray="3.2 1.6"/>
<rect x="198.80" y="82.50" width="23.05" height="23.20" fill="#EAEAF0"/>
<rect x="221.25" y="82.50" width="23.05" height="23.20" fill="#E4E6F0"/>
<rect x="243.70" y="82.50" width="23.05" height="23.20" fill="#CACAF4"/>
<rect x="266.15" y="82.50" width="23.05" height="23.20" fill="#C2C2F2"/>
<rect x="288.60" y="82.50" width="23.05" height="23.20" fill="#E6E8F2"/>
<rect x="311.05" y="82.50" width="22.45" height="23.20" fill="#E4E6F0"/>
<rect x="198.80" y="105.10" width="23.05" height="23.20" fill="#B2B2F6"/>
<rect x="221.25" y="105.10" width="23.05" height="23.20" fill="#BCBCF4"/>
<rect x="243.70" y="105.10" width="23.05" height="23.20" fill="#CCCCF4"/>
<rect x="266.15" y="105.10" width="23.05" height="23.20" fill="#D6D6F4"/>
<rect x="288.60" y="105.10" width="23.05" height="23.20" fill="#DCDCF2"/>
<rect x="311.05" y="105.10" width="22.45" height="23.20" fill="#CACAF4"/>
<rect x="198.80" y="127.70" width="23.05" height="22.60" fill="#D8DAF0"/>
<rect x="221.25" y="127.70" width="23.05" height="22.60" fill="#B4B4F6"/>
<rect x="243.70" y="127.70" width="23.05" height="22.60" fill="#B0B0F4"/>
<rect x="266.15" y="127.70" width="23.05" height="22.60" fill="#D6D6F4"/>
<rect x="288.60" y="127.70" width="23.05" height="22.60" fill="#C6C6F4"/>
<rect x="311.05" y="127.70" width="22.45" height="22.60" fill="#E6E8F2"/>
<rect x="198.80" y="82.50" width="134.70" height="67.80" fill="none" stroke="#9A9A9A" stroke-width="0.9" stroke-dasharray="3.2 1.6"/>
<rect x="340.0" y="17.0" width="8.0" height="43.2" fill="url(#cbv)"/>
<text x="344" y="14.4" font-size="8.2" fill="#222" text-anchor="middle" font-weight="normal" >2</text>
<text x="344" y="69.8" font-size="8.2" fill="#222" text-anchor="middle" font-weight="normal" >0</text>
<text transform="translate(359.00,38.60) rotate(-90)" x="0" y="0" font-size="9.2" fill="#222" text-anchor="middle"><tspan font-style="italic">R</tspan><tspan font-size="5.8" dy="2">s</tspan><tspan dy="-2"> (kΩ/</tspan><tspan font-size="6.5">□</tspan>)</text>
<rect x="340.0" y="94.4" width="8.0" height="43.5" fill="url(#cbv)"/>
<text x="344" y="91.8" font-size="8.2" fill="#222" text-anchor="middle" font-weight="normal" >2</text>
<text x="344" y="147.5" font-size="8.2" fill="#222" text-anchor="middle" font-weight="normal" >0</text>
<text transform="translate(359.00,116.15) rotate(-90)" x="0" y="0" font-size="9.2" fill="#222" text-anchor="middle"><tspan font-style="italic">R</tspan><tspan font-size="5.8" dy="2">s</tspan><tspan dy="-2"> (kΩ/</tspan><tspan font-size="6.5">□</tspan>)</text>
<rect x="425.66" y="15.90" width="13.82" height="13.36" fill="#8484FF"/>
<rect x="438.88" y="15.90" width="13.82" height="13.36" fill="#7E7EFF"/>
<rect x="452.10" y="15.90" width="13.22" height="13.36" fill="#8686FF"/>
<rect x="399.22" y="28.66" width="13.82" height="13.36" fill="#8282FF"/>
<rect x="412.44" y="28.66" width="13.82" height="13.36" fill="#8282FF"/>
<rect x="425.66" y="28.66" width="13.82" height="13.36" fill="#8080FF"/>
<rect x="438.88" y="28.66" width="13.82" height="13.36" fill="#8282FF"/>
<rect x="452.10" y="28.66" width="13.82" height="13.36" fill="#8080FF"/>
<rect x="465.32" y="28.66" width="13.82" height="13.36" fill="#8484FF"/>
<rect x="478.54" y="28.66" width="13.22" height="13.36" fill="#8686FF"/>
<rect x="399.22" y="41.42" width="13.82" height="13.36" fill="#8484FF"/>
<rect x="412.44" y="41.42" width="13.82" height="13.36" fill="#8282FF"/>
<rect x="425.66" y="41.42" width="13.82" height="13.36" fill="#7E7EFF"/>
<rect x="438.88" y="41.42" width="13.82" height="13.36" fill="#8080FF"/>
<rect x="452.10" y="41.42" width="13.82" height="13.36" fill="#8686FF"/>
<rect x="465.32" y="41.42" width="13.82" height="13.36" fill="#8282FF"/>
<rect x="478.54" y="41.42" width="13.22" height="13.36" fill="#7E7EFF"/>
<rect x="386.00" y="54.18" width="13.82" height="13.36" fill="#7E7EFF"/>
<rect x="399.22" y="54.18" width="13.82" height="13.36" fill="#8484FF"/>
<rect x="412.44" y="54.18" width="13.82" height="13.36" fill="#8686FF"/>
<rect x="425.66" y="54.18" width="13.82" height="13.36" fill="#7E7EFF"/>
<rect x="438.88" y="54.18" width="13.82" height="13.36" fill="#8484FF"/>
<rect x="452.10" y="54.18" width="13.82" height="13.36" fill="#8888FF"/>
<rect x="465.32" y="54.18" width="13.82" height="13.36" fill="#8080FF"/>
<rect x="478.54" y="54.18" width="13.82" height="13.36" fill="#8080FF"/>
<rect x="491.76" y="54.18" width="13.22" height="13.36" fill="#8484FF"/>
<rect x="386.00" y="66.94" width="13.82" height="13.36" fill="#8484FF"/>
<rect x="399.22" y="66.94" width="13.82" height="13.36" fill="#8282FF"/>
<rect x="412.44" y="66.94" width="13.82" height="13.36" fill="#8484FF"/>
<rect x="425.66" y="66.94" width="13.82" height="13.36" fill="#8282FF"/>
<rect x="438.88" y="66.94" width="13.82" height="13.36" fill="#7C7CFF"/>
<rect x="452.10" y="66.94" width="13.82" height="13.36" fill="#8A8AFF"/>
<rect x="465.32" y="66.94" width="13.82" height="13.36" fill="#8080FF"/>
<rect x="478.54" y="66.94" width="13.82" height="13.36" fill="#8282FF"/>
<rect x="491.76" y="66.94" width="13.22" height="13.36" fill="#8080FF"/>
<rect x="386.00" y="79.70" width="13.82" height="13.36" fill="#8484FF"/>
<rect x="399.22" y="79.70" width="13.82" height="13.36" fill="#8080FF"/>
<rect x="412.44" y="79.70" width="13.82" height="13.36" fill="#8282FF"/>
<rect x="425.66" y="79.70" width="13.82" height="13.36" fill="#8282FF"/>
<rect x="438.88" y="79.70" width="13.82" height="13.36" fill="#8686FF"/>
<rect x="452.10" y="79.70" width="13.82" height="13.36" fill="#8080FF"/>
<rect x="465.32" y="79.70" width="13.82" height="13.36" fill="#8080FF"/>
<rect x="478.54" y="79.70" width="13.82" height="13.36" fill="#8282FF"/>
<rect x="491.76" y="79.70" width="13.22" height="13.36" fill="#8080FF"/>
<rect x="386.00" y="92.46" width="13.82" height="12.76" fill="#8080FF"/>
<rect x="399.22" y="92.46" width="13.82" height="13.36" fill="#8686FF"/>
<rect x="412.44" y="92.46" width="13.82" height="13.36" fill="#8282FF"/>
<rect x="425.66" y="92.46" width="13.82" height="13.36" fill="#8282FF"/>
<rect x="438.88" y="92.46" width="13.82" height="13.36" fill="#8080FF"/>
<rect x="452.10" y="92.46" width="13.82" height="13.36" fill="#8282FF"/>
<rect x="465.32" y="92.46" width="13.82" height="13.36" fill="#8080FF"/>
<rect x="478.54" y="92.46" width="13.82" height="13.36" fill="#8282FF"/>
<rect x="491.76" y="92.46" width="13.22" height="12.76" fill="#8282FF"/>
<rect x="399.22" y="105.22" width="13.82" height="12.76" fill="#8282FF"/>
<rect x="412.44" y="105.22" width="13.82" height="13.36" fill="#8080FF"/>
<rect x="425.66" y="105.22" width="13.82" height="13.36" fill="#7E7EFF"/>
<rect x="438.88" y="105.22" width="13.82" height="13.36" fill="#8080FF"/>
<rect x="452.10" y="105.22" width="13.82" height="13.36" fill="#8282FF"/>
<rect x="465.32" y="105.22" width="13.82" height="13.36" fill="#8080FF"/>
<rect x="478.54" y="105.22" width="13.22" height="12.76" fill="#8686FF"/>
<rect x="412.44" y="117.98" width="13.82" height="12.76" fill="#8282FF"/>
<rect x="425.66" y="117.98" width="13.82" height="12.76" fill="#8080FF"/>
<rect x="438.88" y="117.98" width="13.82" height="12.76" fill="#8484FF"/>
<rect x="452.10" y="117.98" width="13.82" height="12.76" fill="#8484FF"/>
<rect x="465.32" y="117.98" width="13.22" height="12.76" fill="#8282FF"/>
<rect x="572.91" y="16.10" width="13.77" height="13.46" fill="#E2E4F0"/>
<rect x="586.08" y="16.10" width="13.77" height="13.46" fill="#C4C4F4"/>
<rect x="599.25" y="16.10" width="13.17" height="13.46" fill="#D0D0F2"/>
<rect x="546.57" y="28.96" width="13.77" height="13.46" fill="#C8C8F2"/>
<rect x="559.74" y="28.96" width="13.77" height="13.46" fill="#B8B8F4"/>
<rect x="572.91" y="28.96" width="13.77" height="13.46" fill="#C6C6F4"/>
<rect x="586.08" y="28.96" width="13.77" height="13.46" fill="#C6C6F4"/>
<rect x="599.25" y="28.96" width="13.77" height="13.46" fill="#BCBCF4"/>
<rect x="612.42" y="28.96" width="13.77" height="13.46" fill="#C0C0F4"/>
<rect x="625.59" y="28.96" width="13.17" height="13.46" fill="#D0D0F2"/>
<rect x="546.57" y="41.82" width="13.77" height="13.46" fill="#D0D0F2"/>
<rect x="559.74" y="41.82" width="13.77" height="13.46" fill="#C4C4F4"/>
<rect x="572.91" y="41.82" width="13.77" height="13.46" fill="#CCCCF2"/>
<rect x="586.08" y="41.82" width="13.77" height="13.46" fill="#C8C8F4"/>
<rect x="599.25" y="41.82" width="13.77" height="13.46" fill="#E6E8F0"/>
<rect x="612.42" y="41.82" width="13.77" height="13.46" fill="#E0E0F0"/>
<rect x="625.59" y="41.82" width="13.17" height="13.46" fill="#C4C4F4"/>
<rect x="533.40" y="54.68" width="13.77" height="13.46" fill="#BEBEF4"/>
<rect x="546.57" y="54.68" width="13.77" height="13.46" fill="#C6C6F4"/>
<rect x="559.74" y="54.68" width="13.77" height="13.46" fill="#E8E8F0"/>
<rect x="572.91" y="54.68" width="13.77" height="13.46" fill="#CACAF4"/>
<rect x="586.08" y="54.68" width="13.77" height="13.46" fill="#D6D6F2"/>
<rect x="599.25" y="54.68" width="13.77" height="13.46" fill="#C4C4F4"/>
<rect x="612.42" y="54.68" width="13.77" height="13.46" fill="#D8D8F0"/>
<rect x="625.59" y="54.68" width="13.77" height="13.46" fill="#C4C4F4"/>
<rect x="638.76" y="54.68" width="13.17" height="13.46" fill="#D0D0F2"/>
<rect x="533.40" y="67.54" width="13.77" height="13.46" fill="#BCBCF4"/>
<rect x="546.57" y="67.54" width="13.77" height="13.46" fill="#C2C2F4"/>
<rect x="559.74" y="67.54" width="13.77" height="13.46" fill="#D4D4F2"/>
<rect x="572.91" y="67.54" width="13.77" height="13.46" fill="#CACAF4"/>
<rect x="586.08" y="67.54" width="13.77" height="13.46" fill="#B8B8F4"/>
<rect x="599.25" y="67.54" width="13.77" height="13.46" fill="#C6C6F4"/>
<rect x="612.42" y="67.54" width="13.77" height="13.46" fill="#C6C6F4"/>
<rect x="625.59" y="67.54" width="13.77" height="13.46" fill="#C4C4F4"/>
<rect x="638.76" y="67.54" width="13.17" height="13.46" fill="#DCDEF0"/>
<rect x="533.40" y="80.40" width="13.77" height="13.46" fill="#C2C2F4"/>
<rect x="546.57" y="80.40" width="13.77" height="13.46" fill="#DADCF0"/>
<rect x="559.74" y="80.40" width="13.77" height="13.46" fill="#E4E6F0"/>
<rect x="572.91" y="80.40" width="13.77" height="13.46" fill="#B4B4F6"/>
<rect x="586.08" y="80.40" width="13.77" height="13.46" fill="#C4C4F4"/>
<rect x="599.25" y="80.40" width="13.77" height="13.46" fill="#B4B4F4"/>
<rect x="612.42" y="80.40" width="13.77" height="13.46" fill="#BEBEF4"/>
<rect x="625.59" y="80.40" width="13.77" height="13.46" fill="#C6C6F4"/>
<rect x="638.76" y="80.40" width="13.17" height="13.46" fill="#D4D4F2"/>
<rect x="533.40" y="93.26" width="13.77" height="12.86" fill="#E0E0F0"/>
<rect x="546.57" y="93.26" width="13.77" height="13.46" fill="#E8E8F0"/>
<rect x="559.74" y="93.26" width="13.77" height="13.46" fill="#C6C6F4"/>
<rect x="572.91" y="93.26" width="13.77" height="13.46" fill="#C4C4F4"/>
<rect x="586.08" y="93.26" width="13.77" height="13.46" fill="#E4E6F0"/>
<rect x="599.25" y="93.26" width="13.77" height="13.46" fill="#B0B0F4"/>
<rect x="612.42" y="93.26" width="13.77" height="13.46" fill="#BEBEF4"/>
<rect x="625.59" y="93.26" width="13.77" height="13.46" fill="#E8E8F0"/>
<rect x="638.76" y="93.26" width="13.17" height="12.86" fill="#BCBCF4"/>
<rect x="546.57" y="106.12" width="13.77" height="12.86" fill="#D8D8F0"/>
<rect x="559.74" y="106.12" width="13.77" height="13.46" fill="#CCCCF2"/>
<rect x="572.91" y="106.12" width="13.77" height="13.46" fill="#CACAF4"/>
<rect x="586.08" y="106.12" width="13.77" height="13.46" fill="#BABAF4"/>
<rect x="599.25" y="106.12" width="13.77" height="13.46" fill="#D0D0F2"/>
<rect x="612.42" y="106.12" width="13.77" height="13.46" fill="#E4E6F0"/>
<rect x="625.59" y="106.12" width="13.17" height="12.86" fill="#BABAF4"/>
<rect x="559.74" y="118.98" width="13.77" height="12.86" fill="#C8C8F4"/>
<rect x="572.91" y="118.98" width="13.77" height="12.86" fill="#C8C8F4"/>
<rect x="586.08" y="118.98" width="13.77" height="12.86" fill="#E0E2F0"/>
<rect x="599.25" y="118.98" width="13.77" height="12.86" fill="#DCDCF0"/>
<rect x="612.42" y="118.98" width="13.17" height="12.86" fill="#E2E4F0"/>
<path d="M423.57,140.3 A69.2,69.2 0 1 1 467.03,140.3 Z" fill="none" stroke="#8A8A8A" stroke-width="0.9" stroke-dasharray="5 2.4"/>
<path d="M570.62,140.8 A69.2,69.2 0 1 1 614.38,140.8 Z" fill="none" stroke="#8A8A8A" stroke-width="0.9" stroke-dasharray="5 2.4"/>
<rect x="423.1" y="144.1" width="43.6" height="7.5" fill="url(#cbh)"/>
<text x="418.1" y="151.1" font-size="8.6" fill="#222" text-anchor="middle" font-weight="normal" >0</text>
<text x="472.7" y="151.1" font-size="8.6" fill="#222" text-anchor="middle" font-weight="normal" >2</text>
<text x="444.90" y="163.10" font-size="9.2" fill="#222" text-anchor="middle"><tspan font-style="italic">R</tspan><tspan font-size="5.8" dy="2">s</tspan><tspan dy="-2"> (kΩ/</tspan><tspan font-size="6.5">□</tspan>)</text>
<rect x="570.4" y="144.8" width="43.6" height="7.5" fill="url(#cbh)"/>
<text x="565.4" y="151.8" font-size="8.6" fill="#222" text-anchor="middle" font-weight="normal" >0</text>
<text x="620" y="151.8" font-size="8.6" fill="#222" text-anchor="middle" font-weight="normal" >2</text>
<text x="592.20" y="163.10" font-size="9.2" fill="#222" text-anchor="middle"><tspan font-style="italic">R</tspan><tspan font-size="5.8" dy="2">s</tspan><tspan dy="-2"> (kΩ/</tspan><tspan font-size="6.5">□</tspan>)</text>
<clipPath id="cf"><rect x="27.5" y="189.4" width="163" height="122.4"/></clipPath>
<g clip-path="url(#cf)">
<path d="M28.00,251.31 L28.50,251.37 L29.00,251.44 L29.50,251.51 L30.00,251.58 L30.50,251.66 L31.00,251.73 L31.50,251.82 L32.00,251.90 L32.50,251.98 L33.00,252.07 L33.50,252.16 L34.00,252.26 L34.50,252.35 L35.00,252.45 L35.50,252.56 L36.00,252.66 L36.50,252.77 L37.00,252.88 L37.50,252.99 L38.00,253.10 L38.50,253.22 L39.00,253.34 L39.50,253.46 L40.00,253.58 L40.50,253.71 L41.00,253.84 L41.50,253.97 L42.00,254.10 L42.50,254.24 L43.00,254.38 L43.50,254.52 L44.00,254.66 L44.50,254.80 L45.00,254.95 L45.50,255.10 L46.00,255.25 L46.50,255.40 L47.00,255.56 L47.50,255.71 L48.00,255.87 L48.50,256.03 L49.00,256.20 L49.50,256.36 L50.00,256.53 L50.50,256.70 L51.00,256.87 L51.50,257.04 L52.00,257.22 L52.50,257.39 L53.00,257.57 L53.50,257.75 L54.00,257.93 L54.50,258.12 L55.00,258.30 L55.50,258.49 L56.00,258.68 L56.50,258.87 L57.00,259.06 L57.50,259.25 L58.00,259.45 L58.50,259.64 L59.00,259.84 L59.50,260.04 L60.00,260.24 L60.50,260.44 L61.00,260.65 L61.50,260.85 L62.00,261.06 L62.50,261.26 L63.00,261.47 L63.50,261.68 L64.00,261.90 L64.50,262.11 L65.00,262.32 L65.50,262.54 L66.00,262.76 L66.50,262.97 L67.00,263.19 L67.50,263.41 L68.00,263.63 L68.50,263.86 L69.00,264.08 L69.50,264.30 L70.00,264.53 L70.50,264.76 L71.00,264.98 L71.50,265.21 L72.00,265.44 L72.50,265.67 L73.00,265.90 L73.50,266.13 L74.00,266.37 L74.50,266.60 L75.00,266.84 L75.50,267.07 L76.00,267.31 L76.50,267.54 L77.00,267.78 L77.50,268.02 L78.00,268.26 L78.50,268.50 L79.00,268.74 L79.50,268.98 L80.00,269.22 L80.50,269.46 L81.00,269.70 L81.50,269.95 L82.00,270.19 L82.50,270.43 L83.00,270.67 L83.50,270.92 L84.00,271.16 L84.50,271.40 L85.00,271.64 L85.50,271.89 L86.00,272.13 L86.50,272.36 L87.00,272.60 L87.50,272.84 L88.00,273.07 L88.50,273.31 L89.00,273.54 L89.50,273.77 L90.00,273.99 L90.50,274.22 L91.00,274.44 L91.50,274.66 L92.00,274.87 L92.50,275.09 L93.00,275.30 L93.50,275.50 L94.00,275.71 L94.50,275.91 L95.00,276.10 L95.50,276.29 L96.00,276.48 L96.50,276.67 L97.00,276.85 L97.50,277.02 L98.00,277.19 L98.50,277.35 L99.00,277.51 L99.50,277.67 L100.00,277.82 L100.50,277.96 L101.00,278.10 L101.50,278.23 L102.00,278.36 L102.50,278.47 L103.00,278.59 L103.50,278.69 L104.00,278.79 L104.50,278.89 L105.00,278.97 L105.50,279.05 L106.00,279.12 L106.50,279.19 L107.00,279.25 L107.50,279.29 L108.00,279.34 L108.50,279.37 L109.00,279.39 L109.50,279.41 L110.00,279.42 L110.50,279.41 L111.00,279.40 L111.50,279.39 L112.00,279.36 L112.50,279.32 L113.00,279.27 L113.50,279.21 L114.00,279.15 L114.50,279.07 L115.00,278.99 L115.50,278.90 L116.00,278.80 L116.50,278.69 L117.00,278.58 L117.50,278.46 L118.00,278.33 L118.50,278.19 L119.00,278.05 L119.50,277.90 L120.00,277.75 L120.50,277.58 L121.00,277.42 L121.50,277.24 L122.00,277.07 L122.50,276.88 L123.00,276.70 L123.50,276.50 L124.00,276.31 L124.50,276.11 L125.00,275.90 L125.50,275.69 L126.00,275.48 L126.50,275.27 L127.00,275.05 L127.50,274.83 L128.00,274.61 L128.50,274.38 L129.00,274.16 L129.50,273.93 L130.00,273.70 L130.50,273.47 L131.00,273.23 L131.50,273.00 L132.00,272.77 L132.50,272.53 L133.00,272.30 L133.50,272.06 L134.00,271.83 L134.50,271.60 L135.00,271.36 L135.50,271.13 L136.00,270.90 L136.50,270.67 L137.00,270.44 L137.50,270.22 L138.00,269.99 L138.50,269.77 L139.00,269.54 L139.50,269.32 L140.00,269.10 L140.50,268.88 L141.00,268.66 L141.50,268.45 L142.00,268.24 L142.50,268.02 L143.00,267.81 L143.50,267.61 L144.00,267.40 L144.50,267.20 L145.00,267.00 L145.50,266.80 L146.00,266.60 L146.50,266.41 L147.00,266.22 L147.50,266.03 L148.00,265.84 L148.50,265.66 L149.00,265.48 L149.50,265.30 L150.00,265.13 L150.50,264.96 L151.00,264.79 L151.50,264.62 L152.00,264.46 L152.50,264.30 L153.00,264.15 L153.50,263.99 L154.00,263.84 L154.50,263.70 L155.00,263.55 L155.50,263.41 L156.00,263.27 L156.50,263.14 L157.00,263.00 L157.50,262.87 L158.00,262.75 L158.50,262.62 L159.00,262.50 L159.50,262.38 L160.00,262.26 L160.50,262.14 L161.00,262.03 L161.50,261.92 L162.00,261.81 L162.50,261.70 L163.00,261.60 L163.50,261.50 L164.00,261.40 L164.50,261.30 L165.00,261.20 L165.50,261.11 L166.00,261.02 L166.50,260.93 L167.00,260.84 L167.50,260.75 L168.00,260.67 L168.50,260.58 L169.00,260.50 L169.50,260.42 L170.00,260.34 L170.50,260.27 L171.00,260.19 L171.50,260.12 L172.00,260.04 L172.50,259.97 L173.00,259.90 L173.50,259.84 L174.00,259.77 L174.50,259.70 L175.00,259.64 L175.50,259.57 L176.00,259.51 L176.50,259.45 L177.00,259.39 L177.50,259.33 L178.00,259.27 L178.50,259.21 L179.00,259.15 L179.50,259.10 L180.00,259.04 L180.50,258.99 L181.00,258.93 L181.50,258.88 L182.00,258.82 L182.50,258.77 L183.00,258.72 L183.50,258.67 L184.00,258.62 L184.50,258.57 L185.00,258.51 L185.50,258.46 L186.00,258.41 L186.50,258.36 L187.00,258.31 L187.50,258.26 L188.00,258.21 L188.50,258.16 L189.00,258.11 L189.50,258.06 L190.00,258.01 L190.20,257.99" fill="none" stroke="#4A80C4" stroke-width="1.1" stroke-linejoin="round" stroke-linecap="round" />
<path d="M28.00,212.82 L28.27,213.40 L28.59,213.57 L28.98,213.71 L29.41,213.56 L29.88,213.49 L30.38,213.74 L30.90,214.04 L31.43,214.95 L31.97,214.77 L32.51,214.70 L33.03,214.21 L33.53,215.23 L34.00,215.90 L34.45,216.09 L34.89,216.51 L35.32,217.04 L35.75,217.93 L36.18,217.78 L36.61,217.16 L37.04,216.73 L37.48,216.88 L37.92,217.04 L38.37,217.49 L38.83,217.45 L39.31,217.70 L39.80,218.28 L40.21,218.74 L40.63,219.86 L41.06,220.17 L41.49,220.64 L41.93,220.54 L42.38,220.96 L42.83,221.03 L43.29,221.07 L43.75,221.71 L44.21,222.57 L44.67,223.45 L45.14,223.43 L45.61,223.00 L46.07,222.64 L46.54,222.49 L47.00,222.53 L47.41,223.37 L47.83,223.76 L48.25,224.86 L48.67,224.73 L49.09,225.61 L49.51,225.89 L49.94,225.76 L50.36,225.25 L50.79,225.61 L51.21,226.40 L51.64,227.52 L52.07,227.26 L52.49,227.14 L52.92,227.06 L53.34,227.77 L53.76,228.28 L54.18,228.01 L54.60,227.83 L55.02,228.88 L55.43,229.91 L55.84,229.99 L56.26,229.54 L56.67,229.15 L57.08,229.41 L57.49,230.32 L57.90,230.72 L58.31,231.58 L58.72,231.53 L59.13,231.87 L59.54,232.38 L59.95,232.37 L60.36,233.19 L60.77,232.86 L61.18,233.50 L61.59,233.37 L62.00,233.86 L62.39,234.77 L62.78,235.71 L63.17,236.07 L63.57,236.31 L63.96,236.00 L64.35,236.42 L64.75,236.72 L65.14,237.51 L65.53,237.53 L65.93,238.00 L66.32,237.87 L66.71,238.36 L67.10,238.46 L67.49,238.90 L67.87,239.26 L68.26,238.83 L68.64,238.88 L69.02,239.49 L69.40,239.98 L69.82,240.84 L70.23,240.92 L70.63,241.44 L71.03,242.10 L71.43,242.48 L71.83,242.88 L72.22,243.04 L72.62,242.98 L73.01,242.80 L73.41,243.12 L73.80,244.08 L74.21,244.48 L74.61,244.03 L75.02,244.29 L75.44,245.39 L75.87,245.78 L76.30,246.43 L76.62,246.68 L76.94,247.46 L77.27,247.25 L77.61,246.80 L77.95,246.59 L78.30,247.57 L78.65,248.14 L79.01,249.27 L79.36,248.96 L79.72,250.02 L80.08,250.35 L80.44,250.83 L80.79,250.59 L81.14,251.16 L81.49,251.36 L81.84,251.86 L82.17,252.11 L82.51,253.36 L82.83,254.18 L83.14,254.27 L83.45,254.72 L83.75,254.64 L84.03,254.70 L84.30,254.32 L84.77,255.12 L85.21,255.66 L85.61,256.01 L86.00,256.34 L86.36,257.27 L86.70,257.59 L87.03,257.93 L87.36,258.61 L87.68,259.85 L88.00,260.50 L88.32,260.63 L88.65,260.58 L89.00,260.41 L89.36,260.11 L89.71,259.90 L90.07,261.11 L90.43,262.21 L90.79,263.61 L91.15,263.05 L91.50,263.38 L91.85,263.27 L92.20,264.43 L92.53,264.51 L92.86,265.49 L93.19,265.23 L93.50,265.93 L93.76,266.06 L94.02,267.36 L94.28,267.99 L94.52,268.39 L94.77,268.73 L95.01,269.37 L95.24,269.46 L95.47,269.80 L95.70,270.25 L95.92,271.27 L96.14,271.44 L96.36,271.78 L96.58,272.23 L96.79,272.84 L97.00,273.10 L97.24,273.08 L97.48,273.59 L97.71,274.06 L97.93,274.23 L98.16,274.77 L98.37,275.67 L98.59,277.00 L98.80,277.58 L99.01,277.41 L99.21,277.74 L99.41,278.06 L99.61,278.59 L99.80,279.18 L99.99,279.13 L100.17,279.82 L100.35,279.97 L100.53,280.64 L100.70,281.00 L100.87,281.55 L101.03,282.06 L101.20,282.53 L101.36,283.16 L101.52,283.72 L101.68,284.12 L101.84,284.38 L102.00,284.64 L102.15,285.28 L102.30,285.84 L102.45,286.28 L102.59,286.87 L102.74,287.55 L102.88,288.17 L103.03,288.67 L103.17,289.06 L103.31,289.65 L103.45,289.89 L103.59,290.44 L103.73,290.99 L103.86,291.77 L104.00,292.43 L104.15,292.79 L104.29,293.19 L104.44,293.50 L104.58,293.94 L104.73,294.43 L104.87,295.16 L105.01,295.95 L105.15,296.55 L105.28,297.09 L105.42,297.34 L105.55,297.60 L105.68,297.85 L105.80,298.27 L106.00,298.94 L106.18,299.55 L106.36,300.29 L106.54,300.96 L106.71,301.43 L106.87,301.96 L107.04,302.54 L107.20,302.90 L107.81,303.17 L108.40,302.43 L108.57,302.31 L108.75,301.90 L108.92,301.69 L109.10,301.04 L109.27,300.59 L109.44,300.08 L109.60,299.35 L109.75,298.78 L109.90,298.13 L110.04,297.60 L110.18,297.35 L110.32,296.75 L110.46,296.32 L110.60,295.58 L110.85,295.13 L111.10,294.77 L111.35,294.51 L111.60,293.89 L111.74,293.58 L111.88,293.22 L112.01,292.72 L112.15,291.93 L112.29,291.17 L112.44,290.37 L112.60,289.68 L112.71,289.22 L112.83,288.94 L112.94,288.50 L113.06,287.91 L113.18,287.24 L113.31,286.91 L113.44,286.49 L113.58,286.08 L113.74,285.62 L113.90,285.10 L114.10,284.67 L114.31,284.24 L114.54,283.64 L114.77,283.23 L115.02,282.71 L115.26,282.29 L115.51,281.69 L115.76,281.26 L116.00,281.19 L116.34,280.98 L116.67,280.57 L116.99,280.23 L117.34,280.36 L117.74,280.35 L118.20,279.35 L118.44,278.88 L118.69,277.75 L118.96,277.65 L119.23,277.44 L119.52,277.50 L119.82,277.07 L120.12,275.98 L120.43,275.81 L120.74,275.64 L121.06,276.00 L121.37,275.16 L121.69,274.50 L122.00,273.36 L122.29,273.34 L122.59,272.98 L122.90,272.58 L123.21,271.25 L123.52,270.36 L123.84,270.12 L124.16,270.40 L124.47,270.00 L124.79,269.00 L125.10,268.61 L125.41,267.74 L125.71,268.15 L126.01,267.08 L126.30,266.99 L126.66,266.53 L127.00,266.06 L127.33,265.45 L127.66,264.76 L127.98,264.99 L128.30,265.36 L128.62,265.18 L128.95,265.07 L129.29,264.35 L129.64,264.29 L130.00,263.03 L130.38,262.41 L130.78,261.64 L131.18,261.55 L131.60,261.79 L132.02,261.62 L132.44,261.59 L132.87,261.43 L133.29,261.07 L133.70,260.57 L134.11,259.81 L134.50,259.84 L134.97,260.14 L135.42,259.63 L135.86,259.32 L136.30,259.08 L136.74,259.11 L137.17,258.51 L137.61,257.39 L138.05,257.10 L138.50,256.72 L138.96,256.86 L139.43,256.03 L139.90,256.24 L140.37,255.87 L140.85,255.98 L141.32,255.52 L141.79,255.28 L142.25,255.08 L142.70,254.66 L143.14,253.81 L143.56,253.54 L143.98,252.91 L144.39,253.52 L144.80,253.59 L145.21,253.09 L145.63,252.24 L146.06,251.05 L146.50,250.90 L146.91,250.98 L147.33,251.51 L147.76,251.27 L148.19,250.45 L148.63,249.41 L149.06,249.28 L149.50,249.65 L149.94,249.31 L150.37,249.22 L150.80,247.99 L151.27,247.78 L151.74,246.92 L152.21,247.37 L152.68,247.25 L153.15,247.13 L153.62,246.81 L154.08,246.33 L154.54,246.49 L155.00,245.72 L155.51,245.89 L156.01,245.13 L156.51,244.97 L157.01,244.76 L157.51,244.72 L158.00,244.66 L158.50,244.28 L159.00,244.11 L159.44,243.62 L159.89,243.13 L160.33,242.97 L160.77,243.20 L161.22,243.27 L161.66,243.21 L162.10,242.90 L162.55,242.96 L163.00,242.01 L163.45,241.87 L163.90,241.54 L164.36,241.97 L164.82,241.23 L165.27,240.42 L165.73,240.15 L166.19,239.75 L166.64,240.19 L167.10,239.84 L167.51,239.48 L167.92,238.38 L168.33,237.92 L168.74,237.76 L169.15,237.31 L169.56,237.13 L169.97,237.01 L170.38,237.45 L170.79,236.41 L171.20,236.11 L171.66,235.68 L172.11,235.24 L172.56,234.69 L173.02,234.36 L173.47,235.00 L173.93,235.52 L174.38,234.62 L174.84,233.93 L175.30,233.47 L175.82,233.66 L176.35,233.66 L176.88,232.89 L177.41,232.29 L177.94,231.54 L178.46,231.26 L178.98,231.66 L179.50,231.98 L180.01,232.43 L180.53,231.88 L181.04,231.43 L181.54,230.94 L182.05,231.59 L182.54,232.36 L183.03,233.04 L183.50,232.15 L184.03,231.04 L184.55,230.95 L185.05,231.23 L185.55,231.87 L186.04,231.09 L186.52,230.98 L187.00,230.60 L187.59,230.56 L188.21,230.55 L188.82,229.86 L189.38,230.01 L189.86,230.15 L190.20,230.87" fill="none" stroke="#E8494B" stroke-width="1.1" stroke-linejoin="round" stroke-linecap="round" />
</g>
<line x1="27.5" y1="189.4" x2="190.5" y2="189.4" stroke="#111" stroke-width="0.9"/>
<line x1="27.5" y1="311.8" x2="190.5" y2="311.8" stroke="#333333" stroke-width="0.9"/>
<line x1="27.5" y1="189.4" x2="27.5" y2="311.8" stroke="#E8595B" stroke-width="0.9"/>
<line x1="190.5" y1="189.4" x2="190.5" y2="311.8" stroke="#5B8BCB" stroke-width="0.9"/>
<line x1="24.5" y1="311.80" x2="27.5" y2="311.80" stroke="#E8595B" stroke-width="0.8"/>
<line x1="24.5" y1="284.40" x2="27.5" y2="284.40" stroke="#E8595B" stroke-width="0.8"/>
<line x1="24.5" y1="257.00" x2="27.5" y2="257.00" stroke="#E8595B" stroke-width="0.8"/>
<line x1="24.5" y1="229.60" x2="27.5" y2="229.60" stroke="#E8595B" stroke-width="0.8"/>
<line x1="24.5" y1="202.20" x2="27.5" y2="202.20" stroke="#E8595B" stroke-width="0.8"/>
<line x1="26.0" y1="298.10" x2="27.5" y2="298.10" stroke="#E8595B" stroke-width="0.8"/>
<line x1="26.0" y1="270.70" x2="27.5" y2="270.70" stroke="#E8595B" stroke-width="0.8"/>
<line x1="26.0" y1="243.30" x2="27.5" y2="243.30" stroke="#E8595B" stroke-width="0.8"/>
<line x1="26.0" y1="215.90" x2="27.5" y2="215.90" stroke="#E8595B" stroke-width="0.8"/>
<line x1="190.5" y1="311.80" x2="193.5" y2="311.80" stroke="#5B8BCB" stroke-width="0.8"/>
<line x1="190.5" y1="262.60" x2="193.5" y2="262.60" stroke="#5B8BCB" stroke-width="0.8"/>
<line x1="190.5" y1="213.40" x2="193.5" y2="213.40" stroke="#5B8BCB" stroke-width="0.8"/>
<line x1="190.5" y1="287.20" x2="192.0" y2="287.20" stroke="#5B8BCB" stroke-width="0.8"/>
<line x1="190.5" y1="238.00" x2="192.0" y2="238.00" stroke="#5B8BCB" stroke-width="0.8"/>
<line x1="27.50" y1="311.8" x2="27.50" y2="314.6" stroke="#333333" stroke-width="0.8"/>
<line x1="68.25" y1="311.8" x2="68.25" y2="314.6" stroke="#333333" stroke-width="0.8"/>
<line x1="109.00" y1="311.8" x2="109.00" y2="314.6" stroke="#333333" stroke-width="0.8"/>
<line x1="149.75" y1="311.8" x2="149.75" y2="314.6" stroke="#333333" stroke-width="0.8"/>
<line x1="190.50" y1="311.8" x2="190.50" y2="314.6" stroke="#333333" stroke-width="0.8"/>
<line x1="47.88" y1="311.8" x2="47.88" y2="313.3" stroke="#333333" stroke-width="0.8"/>
<line x1="88.62" y1="311.8" x2="88.62" y2="313.3" stroke="#333333" stroke-width="0.8"/>
<line x1="129.38" y1="311.8" x2="129.38" y2="313.3" stroke="#333333" stroke-width="0.8"/>
<line x1="170.12" y1="311.8" x2="170.12" y2="313.3" stroke="#333333" stroke-width="0.8"/>
<text x="22.7" y="314.9" font-size="8.6" fill="#E8494B" text-anchor="end" font-weight="normal" >0</text>
<text x="22.7" y="287.5" font-size="8.6" fill="#E8494B" text-anchor="end" font-weight="normal" >10</text>
<text x="22.7" y="260.1" font-size="8.6" fill="#E8494B" text-anchor="end" font-weight="normal" >20</text>
<text x="22.7" y="232.7" font-size="8.6" fill="#E8494B" text-anchor="end" font-weight="normal" >30</text>
<text x="22.7" y="205.3" font-size="8.6" fill="#E8494B" text-anchor="end" font-weight="normal" >40</text>
<text x="197.8" y="314.8" font-size="8.6" fill="#4A80C4" text-anchor="start" font-weight="normal" >0</text>
<text x="197.8" y="265.6" font-size="8.6" fill="#4A80C4" text-anchor="start" font-weight="normal" >1</text>
<text x="197.8" y="216.4" font-size="8.6" fill="#4A80C4" text-anchor="start" font-weight="normal" >2</text>
<text x="27.5" y="324" font-size="8.6" fill="#222" text-anchor="middle" font-weight="normal" >-15.0</text>
<text x="68.25" y="324" font-size="8.6" fill="#222" text-anchor="middle" font-weight="normal" >-7.5</text>
<text x="109" y="324" font-size="8.6" fill="#222" text-anchor="middle" font-weight="normal" >0.0</text>
<text x="149.75" y="324" font-size="8.6" fill="#222" text-anchor="middle" font-weight="normal" >7.5</text>
<text x="190.5" y="324" font-size="8.6" fill="#222" text-anchor="middle" font-weight="normal" >15.0</text>
<text transform="translate(8.0,250.4) rotate(-90)" font-size="8.9" fill="#E8494B" text-anchor="middle"><tspan font-style="italic">σ</tspan> (mS)</text>
<text transform="translate(213.3,250.8) rotate(-90)" font-size="8.9" fill="#4A80C4" text-anchor="middle"><tspan font-style="italic">σ</tspan> (mS)</text>
<text x="109.3" y="338.2" font-size="8.7" fill="#222" text-anchor="middle"><tspan font-style="italic">V</tspan><tspan font-size="5.4" dy="1.8">g</tspan><tspan dy="-1.8">-</tspan><tspan font-style="italic">V</tspan><tspan font-size="5.4" dy="1.8">Dirac</tspan><tspan dy="-1.8"> (V)</tspan></text>
<line x1="35.7" y1="197.3" x2="45.5" y2="197.3" stroke="#4A80C4" stroke-width="1.1"/>
<line x1="35.7" y1="208.2" x2="45.5" y2="208.2" stroke="#E8494B" stroke-width="1.1"/>
<text x="48" y="199.8" font-size="9.0" fill="#111" text-anchor="start" font-weight="normal" >298 K</text>
<text x="48.2" y="210.7" font-size="9.0" fill="#111" text-anchor="start" font-weight="normal" >1.7 K</text>
<clipPath id="fin"><rect x="134.1" y="192.1" width="51.8" height="37.0"/></clipPath>
<g clip-path="url(#fin)">
<rect x="134.1" y="192.1" width="51.8" height="37.0" fill="#A0657A"/>
<path d="M134.1,219.5 L139.5,217.8 L142,221 L147.5,218.5 L152,214.5 L156,211.5 L160.5,210.8 L161,214 L158.5,216 L156,219 L150,224 L146,229.2 L134.1,229.2 Z" fill="#58D8EE"/>
<path d="M147,205 L150,207.5 L157,211.5 L156,213 L149.5,209.5 L146,206.5 Z" fill="#5CD6EA"/>
<path d="M162,204 L164,203 L163.5,210 L162,211 Z" fill="#5CD6EA"/>
<path d="M154,200 L156,199.5 L157.5,207 L155.5,207.5 Z" fill="#5CD6EA"/>
<path d="M161,216 L166,219 L168,221 L166,222 L160,218 Z" fill="#5CD6EA"/>
<path d="M143.5,229.2 L149,223 L154.5,218 L158.5,214 L160.2,214.5 L160.3,221 L162,229.2 Z" fill="#D6EAA8"/>
<path d="M154.5,229.2 L157,225.5 L160.5,224.5 L163.5,229.2 Z" fill="#B4BCCC"/>
<path d="M137.3,191.5 L141.3,199.3 L159.4,211.6" fill="none" stroke="#F2D88C" stroke-width="1.25" stroke-linejoin="round"/>
<path d="M133.5,201.2 L159.4,212.3" fill="none" stroke="#F2D88C" stroke-width="1.25" stroke-linejoin="round"/>
<path d="M153.0,191.5 L155.3,204 L159.6,211.4" fill="none" stroke="#F2D88C" stroke-width="1.25" stroke-linejoin="round"/>
<path d="M167.0,191.5 L161.8,209.8 L160.2,211.4" fill="none" stroke="#F2D88C" stroke-width="1.25" stroke-linejoin="round"/>
<path d="M186.5,193.0 L162.9,211.0" fill="none" stroke="#F2D88C" stroke-width="1.25" stroke-linejoin="round"/>
<path d="M186.5,215.1 L161.2,212.6" fill="none" stroke="#F2D88C" stroke-width="1.25" stroke-linejoin="round"/>
<path d="M184.0,229.5 L160.8,213.8" fill="none" stroke="#F2D88C" stroke-width="1.25" stroke-linejoin="round"/>
<path d="M133.5,225.8 L158.0,214.8" fill="none" stroke="#F2D88C" stroke-width="1.25" stroke-linejoin="round"/>
<rect x="139" y="226.3" width="5" height="0.8" fill="#E0C0D0"/>
</g>
<clipPath id="cg"><rect x="258.4" y="189.3" width="163" height="122"/></clipPath>
<g clip-path="url(#cg)">
<path d="M258.60,303.13 L258.70,303.03 L258.84,304.10 L259.00,304.10 L259.18,305.25 L259.37,305.90 L259.58,306.59 L259.79,307.17 L260.00,307.12 L260.46,307.56 L260.96,307.59 L261.49,307.87 L262.00,308.55 L262.50,309.00 L263.00,307.94 L263.50,307.36 L264.00,306.29 L264.50,306.88 L265.00,308.09 L265.50,308.98 L266.00,309.39 L266.50,308.41 L267.01,308.37 L267.51,307.00 L268.00,306.45 L268.38,305.89 L268.76,306.25 L269.13,305.86 L269.48,304.54 L269.80,303.70 L270.07,303.60 L270.31,304.39 L270.53,305.86 L270.75,306.54 L271.00,308.10 L271.24,308.72 L271.49,309.06 L271.76,308.85 L272.02,309.33 L272.27,309.77 L272.50,310.16 L273.06,311.16 L273.60,310.97 L273.73,310.80 L273.85,309.99 L273.98,309.86 L274.11,309.57 L274.24,309.11 L274.38,308.21 L274.53,307.13 L274.68,306.72 L274.83,306.11 L275.00,305.48 L275.12,305.02 L275.24,305.12 L275.36,304.85 L275.49,304.30 L275.62,303.62 L275.76,302.91 L275.89,302.49 L276.03,301.68 L276.17,301.46 L276.31,301.16 L276.45,300.57 L276.59,300.02 L276.73,299.30 L276.87,298.86 L277.00,298.21 L277.15,297.90 L277.31,297.87 L277.46,297.23 L277.62,296.50 L277.77,295.92 L277.92,295.45 L278.08,294.87 L278.23,293.81 L278.38,293.40 L278.54,292.97 L278.69,292.86 L278.85,292.70 L279.00,291.97 L279.33,291.13 L279.67,290.61 L280.00,290.44 L280.33,290.12 L280.67,289.53 L281.00,289.51 L281.50,289.28 L282.00,288.90 L282.50,288.79 L283.00,288.79 L283.40,289.24 L283.80,289.17 L284.20,289.63 L284.60,290.06 L285.00,290.61 L285.19,291.09 L285.38,291.34 L285.56,292.18 L285.74,292.26 L285.92,293.15 L286.11,293.67 L286.30,294.50 L286.52,295.04 L286.75,295.32 L287.00,296.12 L287.15,296.34 L287.32,296.76 L287.50,297.37 L287.68,297.84 L287.88,298.44 L288.08,298.91 L288.28,299.43 L288.49,300.15 L288.69,300.28 L288.90,301.11 L289.10,301.39 L289.30,301.83 L289.49,302.40 L289.68,302.82 L289.85,303.80 L290.01,304.20 L290.16,304.82 L290.30,304.56 L290.74,304.92 L290.99,305.07 L291.23,305.47 L291.60,306.02 L292.04,306.92 L292.55,307.18 L293.10,307.01 L293.66,306.82 L294.20,306.70 L294.70,306.58 L295.17,306.37 L295.66,306.62 L296.19,306.34 L296.80,306.04 L297.23,305.96 L297.70,306.53 L298.20,306.40 L298.72,306.52 L299.25,305.92 L299.77,306.17 L300.30,306.01 L300.80,306.59 L301.36,306.30 L301.90,305.60 L302.44,304.75 L302.98,304.68 L303.54,304.65 L304.11,305.06 L304.70,304.54 L305.19,305.00 L305.70,304.55 L306.23,304.40 L306.77,303.76 L307.31,303.87 L307.84,304.26 L308.35,304.33 L308.84,303.93 L309.30,303.69 L309.77,303.97 L310.22,304.06 L310.63,304.21 L311.03,303.09 L311.42,303.21 L311.81,302.84 L312.20,302.70 L312.60,302.08 L312.97,301.55 L313.34,301.45 L313.72,300.84 L314.10,300.55 L314.47,299.98 L314.84,299.75 L315.21,299.42 L315.56,299.14 L315.90,298.63 L316.23,298.21 L316.54,297.64 L316.84,297.45 L317.13,296.99 L317.42,296.30 L317.71,295.92 L318.00,295.29 L318.29,295.31 L318.60,294.59 L318.86,294.45 L319.12,293.94 L319.39,293.76 L319.66,293.37 L319.93,292.51 L320.20,292.05 L320.47,291.42 L320.73,291.33 L320.99,290.71 L321.25,289.85 L321.50,288.99 L321.67,288.68 L321.83,288.30 L321.98,287.75 L322.12,287.10 L322.26,286.77 L322.40,286.54 L322.54,285.82 L322.68,285.47 L322.82,284.82 L322.98,284.75 L323.15,283.76 L323.33,283.62 L323.53,283.00 L323.76,283.09 L324.00,282.64 L324.25,282.34 L324.52,281.35 L324.81,280.50 L325.12,279.67 L325.44,279.60 L325.77,279.04 L326.10,278.57 L326.45,277.71 L326.80,277.23 L327.15,277.24 L327.51,277.36 L327.86,277.14 L328.21,276.68 L328.55,276.06 L328.88,275.87 L329.20,275.41 L329.77,275.22 L330.35,274.89 L330.93,274.77 L331.51,274.73 L332.08,274.78 L332.63,274.98 L333.15,275.30 L333.64,275.21 L334.10,274.94 L334.70,274.62 L335.23,274.34 L335.70,274.09 L336.14,273.76 L336.56,273.74 L337.00,273.41 L337.52,272.55 L338.01,271.95 L338.50,271.63 L338.99,271.82 L339.50,272.15 L339.95,272.51 L340.41,272.73 L340.89,272.96 L341.36,273.34 L341.84,273.73 L342.30,274.17 L342.61,274.01 L342.92,274.00 L343.23,273.96 L343.53,274.69 L343.84,275.23 L344.14,275.73 L344.44,276.30 L344.72,276.66 L345.00,276.97 L345.34,277.11 L345.65,277.62 L345.95,278.33 L346.24,278.97 L346.54,279.39 L346.86,279.54 L347.20,279.81 L347.62,280.14 L348.06,280.48 L348.51,280.88 L348.98,281.09 L349.47,281.69 L350.00,282.04 L350.48,282.26 L351.00,282.49 L351.54,282.57 L352.10,283.00 L352.65,283.19 L353.18,283.57 L353.70,283.86 L354.19,283.83 L354.67,283.28 L355.14,282.78 L355.61,282.20 L356.07,281.74 L356.53,281.41 L357.00,281.22 L357.48,281.51 L357.96,281.15 L358.45,281.17 L358.93,280.76 L359.40,280.43 L359.86,280.18 L360.30,279.86 L360.89,279.87 L361.45,279.23 L361.98,278.83 L362.50,278.86 L363.00,278.68 L363.57,278.60 L364.09,278.01 L364.62,277.98 L365.20,278.45 L365.64,279.08 L366.11,279.61 L366.61,279.59 L367.10,279.78 L367.57,279.95 L368.00,280.02 L368.56,280.30 L369.04,280.66 L369.54,281.05 L370.10,280.77 L370.39,280.60 L370.69,280.28 L371.00,280.12 L371.33,280.03 L371.66,279.82 L372.00,278.98 L372.33,278.38 L372.67,277.53 L373.00,277.31 L373.25,277.02 L373.50,276.99 L373.76,276.79 L374.02,276.24 L374.28,275.50 L374.54,274.54 L374.79,273.86 L375.05,273.61 L375.30,273.19 L375.54,272.66 L375.77,272.28 L376.00,271.96 L376.30,271.59 L376.57,270.99 L376.81,270.91 L377.04,270.15 L377.29,269.54 L377.57,269.07 L377.90,269.08 L378.30,268.63 L378.64,267.94 L379.00,267.38 L379.40,267.37 L379.82,267.56 L380.25,267.29 L380.70,266.80 L381.16,266.40 L381.62,266.24 L382.09,266.35 L382.55,266.26 L383.00,266.28 L383.42,265.93 L383.85,265.37 L384.29,264.58 L384.73,264.39 L385.18,264.08 L385.63,264.06 L386.08,263.68 L386.51,263.75 L386.94,263.51 L387.34,263.37 L387.73,263.03 L388.10,262.38 L388.42,261.69 L388.72,261.27 L389.01,261.31 L389.28,261.28 L389.55,260.45 L389.80,259.88 L390.05,259.43 L390.29,259.20 L390.53,258.82 L390.77,258.38 L391.01,257.68 L391.25,256.82 L391.50,256.25 L391.70,256.08 L391.90,255.74 L392.10,255.28 L392.29,254.65 L392.48,254.14 L392.67,253.35 L392.86,252.72 L393.05,252.41 L393.24,252.21 L393.43,251.98 L393.62,251.83 L393.81,250.90 L394.00,250.24 L394.20,249.26 L394.40,249.10 L394.60,248.65 L394.81,248.49 L395.02,247.98 L395.23,247.73 L395.45,247.35 L395.67,247.02 L395.89,246.74 L396.12,245.83 L396.34,245.10 L396.56,244.64 L396.78,244.31 L396.99,243.78 L397.21,243.03 L397.41,242.45 L397.62,242.35 L397.81,242.01 L398.00,241.55 L398.24,241.08 L398.47,240.47 L398.70,240.04 L398.92,239.31 L399.13,239.07 L399.34,238.64 L399.54,237.81 L399.74,236.91 L399.93,236.32 L400.12,236.24 L400.31,235.95 L400.50,236.12 L400.93,235.28 L401.34,234.62 L401.72,234.06 L402.11,233.82 L402.50,233.94 L402.90,233.87 L403.30,234.13 L403.70,234.69 L404.10,235.59 L404.50,236.27 L404.72,236.65 L404.94,236.74 L405.17,237.59 L405.39,238.09 L405.61,238.47 L405.83,238.91 L406.06,239.20 L406.28,239.65 L406.50,239.56 L407.00,240.49 L407.50,241.22 L408.00,241.57 L408.50,241.38 L408.89,241.24 L409.28,240.81 L409.66,240.54 L410.07,240.07 L410.50,240.02 L410.73,239.29 L410.96,238.82 L411.20,238.13 L411.44,238.15 L411.69,237.55 L411.94,237.16 L412.20,236.69 L412.46,236.19 L412.73,235.62 L413.00,235.16 L413.28,234.51 L413.58,234.32 L413.88,233.49 L414.19,233.27 L414.50,232.38 L414.81,232.21 L415.12,231.80 L415.42,231.65 L415.72,230.82 L416.00,230.64 L416.39,230.15 L416.77,229.98 L417.13,229.08 L417.49,228.29 L417.84,227.76 L418.17,227.36 L418.50,227.58 L419.07,227.52 L419.61,228.33 L420.10,228.24 L420.50,228.67 L420.98,228.88 L421.20,229.41" fill="none" stroke="#4A80C4" stroke-width="1.1" stroke-linejoin="round" stroke-linecap="round" />
<path d="M258.60,311.07 L258.78,310.84 L259.03,310.61 L259.32,310.14 L259.64,309.68 L259.99,308.68 L260.34,307.99 L260.68,307.47 L261.00,307.28 L261.31,307.03 L261.62,306.15 L261.93,305.60 L262.24,304.81 L262.56,304.56 L262.87,304.15 L263.19,303.58 L263.50,302.95 L263.82,302.33 L264.14,302.29 L264.46,302.07 L264.78,301.51 L265.10,300.97 L265.41,300.20 L265.71,300.01 L266.00,299.29 L266.44,298.71 L266.85,298.41 L267.25,298.09 L267.63,297.85 L268.00,297.55 L268.46,297.44 L268.89,297.07 L269.31,296.64 L269.70,296.05 L270.05,295.77 L270.37,294.89 L270.68,294.61 L271.00,294.17 L271.43,294.03 L271.88,293.54 L272.40,292.93 L272.87,292.35 L273.38,291.75 L273.93,291.44 L274.50,291.04 L274.97,290.90 L275.47,290.93 L275.98,290.68 L276.49,290.61 L277.00,290.16 L277.41,290.00 L277.81,289.73 L278.22,289.43 L278.63,289.02 L279.05,288.40 L279.50,288.00 L279.78,287.54 L280.07,287.43 L280.36,286.72 L280.66,286.67 L280.97,286.20 L281.28,285.78 L281.58,285.38 L281.89,284.71 L282.20,284.55 L282.50,283.73 L282.77,283.17 L283.05,282.56 L283.33,282.63 L283.61,282.29 L283.89,282.15 L284.17,281.71 L284.45,281.65 L284.72,281.01 L284.98,280.28 L285.25,279.62 L285.50,279.38 L285.75,278.79 L285.98,278.43 L286.22,277.95 L286.45,277.84 L286.67,276.99 L286.89,276.57 L287.11,275.68 L287.33,275.33 L287.55,274.66 L287.77,274.58 L288.00,274.08 L288.23,273.75 L288.46,273.05 L288.69,272.53 L288.93,271.71 L289.16,271.01 L289.39,270.39 L289.62,269.80 L289.85,269.57 L290.07,269.56 L290.29,269.11 L290.50,268.35 L290.78,267.78 L291.04,267.41 L291.29,267.06 L291.53,266.18 L291.78,265.73 L292.04,265.49 L292.31,265.17 L292.60,264.70 L293.02,263.85 L293.45,263.68 L293.91,263.13 L294.38,263.05 L294.88,262.75 L295.40,262.58 L295.87,262.55 L296.37,262.51 L296.88,262.69 L297.41,262.68 L297.94,262.24 L298.47,262.13 L299.00,261.79 L299.52,262.16 L300.05,262.10 L300.57,262.27 L301.10,262.39 L301.63,262.71 L302.17,263.02 L302.70,262.79 L303.24,262.67 L303.78,262.61 L304.33,262.70 L304.88,262.68 L305.43,262.60 L305.97,262.51 L306.50,262.61 L307.01,262.97 L307.51,263.44 L307.99,263.63 L308.48,263.44 L308.98,263.17 L309.52,262.92 L310.10,262.80 L310.59,263.00 L311.10,263.37 L311.63,263.37 L312.18,263.33 L312.74,263.22 L313.31,263.32 L313.88,263.16 L314.44,263.04 L315.00,262.74 L315.49,262.63 L315.99,262.24 L316.48,262.15 L316.97,262.01 L317.46,262.02 L317.96,261.72 L318.46,261.59 L318.97,261.33 L319.48,261.22 L320.00,260.47 L320.41,260.18 L320.83,259.76 L321.26,259.82 L321.69,259.49 L322.12,259.47 L322.56,259.15 L323.00,259.01 L323.43,258.45 L323.87,258.14 L324.29,257.79 L324.70,257.73 L325.11,257.29 L325.50,257.06 L325.94,256.77 L326.36,256.64 L326.76,256.42 L327.15,256.18 L327.53,255.82 L327.91,255.32 L328.30,254.64 L328.69,254.50 L329.10,254.40 L329.54,254.23 L330.00,253.80 L330.36,253.42 L330.73,253.26 L331.12,252.70 L331.52,252.43 L331.93,252.04 L332.34,251.96 L332.76,251.45 L333.18,251.15 L333.60,250.87 L334.02,250.65 L334.43,250.37 L334.84,249.67 L335.24,249.12 L335.63,248.67 L336.00,248.68 L336.42,248.36 L336.82,248.15 L337.21,247.81 L337.60,247.39 L337.98,246.95 L338.35,246.42 L338.72,246.11 L339.09,245.62 L339.46,245.35 L339.84,245.10 L340.22,244.81 L340.61,244.36 L341.00,244.20 L341.41,243.98 L341.83,243.96 L342.26,243.71 L342.69,243.32 L343.13,243.16 L343.57,242.55 L344.01,242.33 L344.44,241.73 L344.86,241.64 L345.27,241.22 L345.66,241.23 L346.04,240.95 L346.40,240.67 L346.93,240.20 L347.41,239.74 L347.85,239.70 L348.27,239.28 L348.68,239.26 L349.09,239.22 L349.53,239.20 L350.00,238.85 L350.45,238.53 L350.92,238.19 L351.40,237.92 L351.90,237.34 L352.39,237.08 L352.89,236.94 L353.37,237.12 L353.84,237.10 L354.30,236.92 L354.86,236.38 L355.40,236.12 L355.92,235.61 L356.43,235.30 L356.95,234.95 L357.47,235.08 L358.00,234.91 L358.48,234.78 L358.98,234.76 L359.49,234.73 L360.00,234.48 L360.50,234.00 L360.99,233.81 L361.46,233.94 L361.90,233.87 L362.44,234.02 L362.93,233.81 L363.39,233.74 L363.85,233.21 L364.31,233.06 L364.80,232.82 L365.27,232.70 L365.70,232.17 L366.14,232.22 L366.64,232.04 L367.24,231.79 L368.00,231.28 L368.39,230.97 L368.81,231.02 L369.27,230.88 L369.75,230.83 L370.26,230.78 L370.79,230.84 L371.32,230.56 L371.87,230.29 L372.42,229.87 L372.96,230.18 L373.50,230.15 L374.02,229.97 L374.52,229.47 L375.00,228.98 L375.49,229.16 L375.97,228.98 L376.43,229.00 L376.89,228.53 L377.34,228.50 L377.78,228.27 L378.22,228.18 L378.66,227.69 L379.11,227.53 L379.57,227.07 L380.03,227.04 L380.51,226.58 L381.00,226.33 L381.44,226.11 L381.88,225.95 L382.34,225.76 L382.79,225.63 L383.26,225.46 L383.73,225.06 L384.20,224.57 L384.68,224.26 L385.15,224.46 L385.63,224.53 L386.11,224.33 L386.58,223.62 L387.06,223.32 L387.53,223.01 L388.00,223.04 L388.44,222.77 L388.88,222.63 L389.33,222.33 L389.77,222.18 L390.22,221.80 L390.66,221.50 L391.11,221.21 L391.56,220.86 L392.00,220.56 L392.44,220.30 L392.88,219.99 L393.31,220.01 L393.74,219.71 L394.17,219.66 L394.59,219.17 L395.00,219.00 L395.50,218.99 L395.99,218.69 L396.47,218.31 L396.95,217.92 L397.42,217.89 L397.89,217.62 L398.35,217.22 L398.81,217.08 L399.27,217.12 L399.72,216.89 L400.18,216.51 L400.64,216.32 L401.10,216.47 L401.56,216.47 L402.03,215.85 L402.49,215.58 L402.96,215.51 L403.42,215.76 L403.89,215.51 L404.35,214.82 L404.81,214.51 L405.26,214.05 L405.70,214.14 L406.14,214.00 L406.58,214.07 L407.00,213.65 L407.53,213.13 L408.05,213.08 L408.55,212.95 L409.04,212.99 L409.52,212.63 L410.01,212.54 L410.49,212.45 L410.98,212.17 L411.48,212.05 L412.00,211.81 L412.49,211.72 L412.99,211.59 L413.51,211.58 L414.04,211.80 L414.57,212.10 L415.09,211.77 L415.61,211.52 L416.12,211.14 L416.60,211.28 L417.07,211.23 L417.50,211.46 L418.16,211.25 L418.80,210.96 L419.41,210.77 L419.97,210.61 L420.47,210.85 L420.88,210.72 L421.20,210.90" fill="none" stroke="#E8494B" stroke-width="1.1" stroke-linejoin="round" stroke-linecap="round" />
</g>
<line x1="258.4" y1="189.3" x2="421.4" y2="189.3" stroke="#111" stroke-width="0.9"/>
<line x1="258.4" y1="311.4" x2="421.4" y2="311.4" stroke="#333333" stroke-width="0.9"/>
<line x1="258.4" y1="189.3" x2="258.4" y2="311.4" stroke="#E8595B" stroke-width="0.9"/>
<line x1="421.4" y1="189.3" x2="421.4" y2="311.4" stroke="#5B8BCB" stroke-width="0.9"/>
<line x1="255.39999999999998" y1="311.20" x2="258.4" y2="311.20" stroke="#E8595B" stroke-width="0.8"/>
<line x1="255.39999999999998" y1="284.25" x2="258.4" y2="284.25" stroke="#E8595B" stroke-width="0.8"/>
<line x1="255.39999999999998" y1="257.30" x2="258.4" y2="257.30" stroke="#E8595B" stroke-width="0.8"/>
<line x1="255.39999999999998" y1="230.35" x2="258.4" y2="230.35" stroke="#E8595B" stroke-width="0.8"/>
<line x1="255.39999999999998" y1="203.40" x2="258.4" y2="203.40" stroke="#E8595B" stroke-width="0.8"/>
<line x1="256.9" y1="297.72" x2="258.4" y2="297.72" stroke="#E8595B" stroke-width="0.8"/>
<line x1="256.9" y1="270.77" x2="258.4" y2="270.77" stroke="#E8595B" stroke-width="0.8"/>
<line x1="256.9" y1="243.82" x2="258.4" y2="243.82" stroke="#E8595B" stroke-width="0.8"/>
<line x1="256.9" y1="216.88" x2="258.4" y2="216.88" stroke="#E8595B" stroke-width="0.8"/>
<line x1="421.4" y1="311.20" x2="424.4" y2="311.20" stroke="#5B8BCB" stroke-width="0.8"/>
<line x1="421.4" y1="284.00" x2="424.4" y2="284.00" stroke="#5B8BCB" stroke-width="0.8"/>
<line x1="421.4" y1="256.80" x2="424.4" y2="256.80" stroke="#5B8BCB" stroke-width="0.8"/>
<line x1="421.4" y1="229.60" x2="424.4" y2="229.60" stroke="#5B8BCB" stroke-width="0.8"/>
<line x1="421.4" y1="202.40" x2="424.4" y2="202.40" stroke="#5B8BCB" stroke-width="0.8"/>
<line x1="421.4" y1="297.60" x2="422.9" y2="297.60" stroke="#5B8BCB" stroke-width="0.8"/>
<line x1="421.4" y1="270.40" x2="422.9" y2="270.40" stroke="#5B8BCB" stroke-width="0.8"/>
<line x1="421.4" y1="243.20" x2="422.9" y2="243.20" stroke="#5B8BCB" stroke-width="0.8"/>
<line x1="421.4" y1="216.00" x2="422.9" y2="216.00" stroke="#5B8BCB" stroke-width="0.8"/>
<line x1="258.40" y1="311.4" x2="258.40" y2="314.2" stroke="#333333" stroke-width="0.8"/>
<line x1="299.15" y1="311.4" x2="299.15" y2="314.2" stroke="#333333" stroke-width="0.8"/>
<line x1="339.90" y1="311.4" x2="339.90" y2="314.2" stroke="#333333" stroke-width="0.8"/>
<line x1="380.65" y1="311.4" x2="380.65" y2="314.2" stroke="#333333" stroke-width="0.8"/>
<line x1="421.40" y1="311.4" x2="421.40" y2="314.2" stroke="#333333" stroke-width="0.8"/>
<line x1="278.77" y1="311.4" x2="278.77" y2="312.9" stroke="#333333" stroke-width="0.8"/>
<line x1="319.52" y1="311.4" x2="319.52" y2="312.9" stroke="#333333" stroke-width="0.8"/>
<line x1="360.27" y1="311.4" x2="360.27" y2="312.9" stroke="#333333" stroke-width="0.8"/>
<line x1="401.02" y1="311.4" x2="401.02" y2="312.9" stroke="#333333" stroke-width="0.8"/>
<text x="254.9" y="314.3" font-size="8.6" fill="#E8494B" text-anchor="end" font-weight="normal" >0</text>
<text x="254.9" y="287.35" font-size="8.6" fill="#E8494B" text-anchor="end" font-weight="normal" >5</text>
<text x="254.9" y="260.4" font-size="8.6" fill="#E8494B" text-anchor="end" font-weight="normal" >10</text>
<text x="254.9" y="233.45" font-size="8.6" fill="#E8494B" text-anchor="end" font-weight="normal" >15</text>
<text x="254.9" y="206.5" font-size="8.6" fill="#E8494B" text-anchor="end" font-weight="normal" >20</text>
<text x="425.2" y="314.2" font-size="8.6" fill="#4A80C4" text-anchor="start" font-weight="normal" >0.0</text>
<text x="425.2" y="287" font-size="8.6" fill="#4A80C4" text-anchor="start" font-weight="normal" >0.5</text>
<text x="425.2" y="259.8" font-size="8.6" fill="#4A80C4" text-anchor="start" font-weight="normal" >1.0</text>
<text x="425.2" y="232.6" font-size="8.6" fill="#4A80C4" text-anchor="start" font-weight="normal" >1.5</text>
<text x="425.2" y="205.4" font-size="8.6" fill="#4A80C4" text-anchor="start" font-weight="normal" >2.0</text>
<text x="258.4" y="324" font-size="8.6" fill="#222" text-anchor="middle" font-weight="normal" >0</text>
<text x="299.15" y="324" font-size="8.6" fill="#222" text-anchor="middle" font-weight="normal" >2</text>
<text x="339.9" y="324" font-size="8.6" fill="#222" text-anchor="middle" font-weight="normal" >4</text>
<text x="380.65" y="324" font-size="8.6" fill="#222" text-anchor="middle" font-weight="normal" >6</text>
<text x="421.4" y="324" font-size="8.6" fill="#222" text-anchor="middle" font-weight="normal" >8</text>
<text transform="translate(238.7,249.8) rotate(-90)" font-size="9.0" fill="#E8494B" text-anchor="middle"><tspan font-style="italic">R</tspan><tspan font-size="5.5" dy="1.8">xy</tspan><tspan dy="-1.8"> (kΩ)</tspan></text>
<text transform="translate(449.5,250.3) rotate(-90)" font-size="9.0" fill="#4A80C4" text-anchor="middle"><tspan font-style="italic">R</tspan><tspan font-size="5.5" dy="1.8">xx</tspan><tspan dy="-1.8"> (kΩ)</tspan></text>
<text x="340.2" y="338.2" font-size="9.1" fill="#222" text-anchor="middle"><tspan font-style="italic">B</tspan> (T)</text>
<text x="267.2" y="208.6" font-size="8.85" fill="#111"><tspan font-style="italic">μ</tspan><tspan font-size="5" dy="1.8">1.7K</tspan><tspan dy="-1.8"> = 5.2 × 10</tspan><tspan font-size="5" dy="-3">5</tspan><tspan dy="3"> cm</tspan><tspan font-size="5" dy="-3">2</tspan><tspan dy="3"> V</tspan><tspan font-size="5" dy="-3">-1</tspan><tspan dy="3"> s</tspan><tspan font-size="5" dy="-3">-1</tspan></text>
<clipPath id="ch"><rect x="498.4" y="189.3" width="163.6" height="122.2"/></clipPath>
<g clip-path="url(#ch)">
<path d="M498.40,258.00 L498.41,258.27 L498.41,258.56 L498.42,258.88 L498.42,259.23 L498.43,259.61 L498.43,260.01 L498.44,260.43 L498.45,260.87 L498.45,261.34 L498.46,261.82 L498.47,262.31 L498.47,262.82 L498.48,263.35 L498.49,263.89 L498.50,264.44 L498.51,265.00 L498.52,265.56 L498.53,266.14 L498.54,266.71 L498.55,267.29 L498.56,267.88 L498.57,268.46 L498.58,269.05 L498.59,269.63 L498.61,270.21 L498.62,270.78 L498.63,271.34 L498.65,271.90 L498.66,272.45 L498.68,272.99 L498.70,273.51 L498.71,274.02 L498.73,274.52 L498.75,275.00 L498.77,275.53 L498.79,276.07 L498.82,276.61 L498.84,277.15 L498.87,277.69 L498.89,278.23 L498.92,278.77 L498.94,279.31 L498.97,279.84 L499.00,280.38 L499.03,280.91 L499.06,281.44 L499.09,281.97 L499.12,282.49 L499.15,283.01 L499.18,283.53 L499.21,284.04 L499.25,284.54 L499.28,285.04 L499.32,285.53 L499.35,286.02 L499.39,286.50 L499.42,286.97 L499.46,287.43 L499.50,287.88 L499.54,288.33 L499.58,288.76 L499.62,289.18 L499.66,289.60 L499.70,290.00 L499.78,290.68 L499.85,291.34 L499.94,291.96 L500.02,292.55 L500.11,293.12 L500.20,293.67 L500.30,294.19 L500.39,294.70 L500.49,295.19 L500.58,295.67 L500.68,296.14 L500.78,296.59 L500.87,297.04 L500.97,297.48 L501.06,297.92 L501.16,298.36 L501.25,298.80 L501.38,299.42 L501.51,300.03 L501.63,300.62 L501.76,301.20 L501.89,301.76 L502.02,302.29 L502.14,302.81 L502.27,303.30 L502.40,303.77 L502.53,304.21 L502.67,304.62 L502.80,305.00 L503.06,305.65 L503.31,306.18 L503.56,306.60 L503.83,306.94 L504.14,307.24 L504.50,307.50 L504.94,307.72 L505.44,307.88 L505.98,307.99 L506.53,308.05 L507.04,308.09 L507.50,308.10 L508.09,308.06 L508.62,307.95 L509.09,307.79 L509.50,307.60 L510.09,307.26 L510.60,306.60 L510.82,306.22 L511.06,305.78 L511.30,305.28 L511.54,304.73 L511.78,304.13 L512.00,303.50 L512.14,303.05 L512.27,302.57 L512.40,302.06 L512.52,301.53 L512.64,300.98 L512.76,300.43 L512.87,299.88 L512.99,299.34 L513.10,298.80 L513.21,298.27 L513.31,297.74 L513.40,297.20 L513.49,296.66 L513.58,296.13 L513.68,295.59 L513.78,295.06 L513.88,294.53 L514.00,294.00 L514.13,293.47 L514.27,292.91 L514.42,292.35 L514.58,291.79 L514.73,291.25 L514.89,290.73 L515.04,290.24 L515.18,289.79 L515.30,289.40 L515.54,288.72 L515.73,288.24 L515.91,287.86 L516.10,287.50 L516.51,286.93 L516.90,286.30 L517.08,285.84 L517.25,285.33 L517.42,284.72 L517.60,284.00 L517.69,283.64 L517.79,283.31 L517.88,282.98 L517.98,282.61 L518.07,282.16 L518.18,281.60 L518.28,280.89 L518.40,280.00 L518.44,279.66 L518.48,279.29 L518.52,278.91 L518.57,278.51 L518.61,278.09 L518.65,277.66 L518.70,277.21 L518.74,276.74 L518.79,276.27 L518.84,275.77 L518.88,275.27 L518.93,274.76 L518.98,274.23 L519.03,273.70 L519.07,273.15 L519.12,272.60 L519.17,272.04 L519.22,271.48 L519.27,270.91 L519.31,270.33 L519.36,269.75 L519.41,269.17 L519.45,268.59 L519.50,268.00 L519.53,267.56 L519.57,267.10 L519.60,266.64 L519.64,266.18 L519.67,265.70 L519.70,265.22 L519.74,264.73 L519.77,264.24 L519.81,263.74 L519.84,263.23 L519.87,262.72 L519.91,262.21 L519.94,261.69 L519.98,261.18 L520.01,260.65 L520.04,260.13 L520.08,259.61 L520.11,259.08 L520.15,258.56 L520.18,258.03 L520.21,257.50 L520.25,256.98 L520.28,256.46 L520.32,255.94 L520.35,255.42 L520.39,254.90 L520.42,254.39 L520.46,253.88 L520.49,253.38 L520.53,252.88 L520.56,252.39 L520.60,251.90 L520.64,251.36 L520.68,250.83 L520.72,250.29 L520.76,249.75 L520.80,249.21 L520.84,248.67 L520.88,248.13 L520.93,247.60 L520.97,247.06 L521.01,246.52 L521.05,245.99 L521.09,245.45 L521.14,244.92 L521.18,244.39 L521.22,243.87 L521.26,243.35 L521.31,242.83 L521.35,242.31 L521.39,241.80 L521.43,241.30 L521.47,240.80 L521.52,240.30 L521.56,239.81 L521.60,239.32 L521.64,238.85 L521.68,238.37 L521.72,237.91 L521.76,237.45 L521.80,237.00 L521.85,236.41 L521.90,235.83 L521.96,235.25 L522.01,234.68 L522.06,234.12 L522.11,233.56 L522.16,233.00 L522.21,232.46 L522.26,231.92 L522.31,231.40 L522.36,230.88 L522.41,230.37 L522.46,229.88 L522.51,229.39 L522.56,228.92 L522.61,228.46 L522.66,228.02 L522.71,227.58 L522.76,227.16 L522.80,226.76 L522.85,226.37 L522.90,226.00 L523.00,225.24 L523.11,224.57 L523.21,223.97 L523.32,223.43 L523.42,222.95 L523.52,222.51 L523.62,222.11 L523.71,221.72 L523.81,221.36 L523.90,221.00 L524.12,220.24 L524.33,219.69 L524.52,219.24 L524.70,218.80 L524.91,218.07 L525.10,217.41 L525.30,217.20 L525.43,217.35 L525.55,217.64 L525.68,218.10 L525.83,218.74 L526.00,219.60 L526.07,219.96 L526.15,220.35 L526.23,220.77 L526.31,221.22 L526.40,221.69 L526.48,222.19 L526.58,222.71 L526.67,223.25 L526.76,223.81 L526.85,224.39 L526.94,225.00 L527.03,225.61 L527.12,226.25 L527.20,226.90 L527.25,227.32 L527.30,227.76 L527.36,228.20 L527.41,228.65 L527.46,229.11 L527.51,229.58 L527.56,230.05 L527.61,230.54 L527.66,231.03 L527.71,231.53 L527.76,232.04 L527.81,232.55 L527.85,233.07 L527.90,233.60 L527.95,234.13 L528.00,234.67 L528.05,235.21 L528.10,235.76 L528.15,236.31 L528.20,236.87 L528.25,237.43 L528.30,238.00 L528.34,238.46 L528.38,238.93 L528.42,239.40 L528.46,239.87 L528.50,240.34 L528.54,240.82 L528.58,241.30 L528.62,241.78 L528.66,242.27 L528.70,242.76 L528.74,243.26 L528.78,243.76 L528.82,244.26 L528.86,244.77 L528.90,245.28 L528.94,245.80 L528.99,246.32 L529.03,246.85 L529.07,247.39 L529.11,247.93 L529.15,248.48 L529.19,249.03 L529.23,249.59 L529.27,250.16 L529.32,250.73 L529.36,251.31 L529.40,251.90 L529.43,252.35 L529.46,252.80 L529.50,253.27 L529.53,253.74 L529.56,254.21 L529.59,254.69 L529.63,255.18 L529.66,255.67 L529.69,256.17 L529.72,256.67 L529.76,257.18 L529.79,257.69 L529.82,258.20 L529.85,258.72 L529.89,259.24 L529.92,259.76 L529.95,260.28 L529.99,260.80 L530.02,261.32 L530.05,261.85 L530.09,262.37 L530.12,262.90 L530.16,263.42 L530.19,263.94 L530.22,264.47 L530.26,264.99 L530.29,265.50 L530.32,266.02 L530.36,266.53 L530.39,267.04 L530.43,267.54 L530.46,268.04 L530.50,268.54 L530.53,269.03 L530.57,269.52 L530.60,270.00 L530.64,270.54 L530.68,271.08 L530.72,271.62 L530.76,272.16 L530.80,272.70 L530.84,273.25 L530.88,273.79 L530.92,274.33 L530.96,274.87 L531.01,275.41 L531.05,275.95 L531.09,276.49 L531.13,277.03 L531.17,277.56 L531.21,278.09 L531.26,278.61 L531.30,279.13 L531.34,279.65 L531.38,280.17 L531.42,280.68 L531.46,281.18 L531.51,281.68 L531.55,282.17 L531.59,282.66 L531.63,283.14 L531.67,283.62 L531.71,284.08 L531.75,284.54 L531.79,284.99 L531.82,285.44 L531.86,285.87 L531.90,286.30 L531.96,286.94 L532.01,287.55 L532.07,288.16 L532.12,288.75 L532.18,289.33 L532.23,289.89 L532.28,290.44 L532.33,290.98 L532.39,291.50 L532.44,292.02 L532.49,292.52 L532.54,293.01 L532.59,293.49 L532.64,293.96 L532.69,294.42 L532.74,294.87 L532.79,295.31 L532.84,295.75 L532.90,296.17 L532.95,296.59 L533.00,297.00 L533.09,297.70 L533.17,298.36 L533.26,299.00 L533.34,299.60 L533.42,300.17 L533.50,300.72 L533.58,301.23 L533.67,301.72 L533.77,302.18 L533.87,302.61 L533.98,303.02 L534.10,303.40 L534.36,304.05 L534.64,304.57 L534.94,304.97 L535.27,305.29 L535.62,305.56 L536.00,305.80 L536.50,306.03 L537.04,306.16 L537.61,306.22 L538.20,306.26 L538.80,306.30 L539.30,306.35 L539.79,306.38 L540.29,306.41 L540.82,306.42 L541.39,306.42 L542.00,306.40 L542.45,306.38 L542.95,306.36 L543.48,306.33 L544.02,306.30 L544.57,306.26 L545.10,306.21 L545.61,306.15 L546.08,306.08 L546.50,306.00 L547.13,305.88 L547.65,305.77 L548.10,305.61 L548.54,305.32 L549.00,304.80 L549.22,304.48 L549.45,304.12 L549.68,303.72 L549.91,303.29 L550.14,302.82 L550.37,302.32 L550.59,301.80 L550.81,301.25 L551.01,300.68 L551.21,300.10 L551.40,299.50 L551.52,299.07 L551.64,298.62 L551.75,298.14 L551.86,297.65 L551.96,297.14 L552.06,296.62 L552.16,296.10 L552.25,295.56 L552.34,295.03 L552.44,294.49 L552.53,293.97 L552.62,293.44 L552.71,292.93 L552.81,292.44 L552.90,291.96 L553.00,291.50 L553.12,290.95 L553.24,290.40 L553.36,289.85 L553.48,289.31 L553.60,288.78 L553.72,288.27 L553.84,287.76 L553.96,287.28 L554.09,286.81 L554.21,286.37 L554.34,285.95 L554.47,285.56 L554.60,285.20 L554.90,284.54 L555.22,284.01 L555.54,283.58 L555.87,283.23 L556.19,282.91 L556.50,282.60 L556.93,282.18 L557.35,281.86 L557.77,281.61 L558.20,281.40 L558.82,281.16 L559.46,281.00 L560.10,281.00 L560.57,281.10 L561.04,281.29 L561.52,281.58 L562.00,282.00 L562.27,282.28 L562.53,282.58 L562.80,282.91 L563.07,283.29 L563.35,283.76 L563.66,284.32 L564.00,285.00 L564.16,285.35 L564.33,285.74 L564.51,286.16 L564.69,286.61 L564.88,287.08 L565.08,287.57 L565.28,288.08 L565.48,288.59 L565.68,289.11 L565.88,289.64 L566.07,290.15 L566.27,290.66 L566.46,291.15 L566.65,291.63 L566.83,292.08 L567.00,292.50 L567.22,293.03 L567.43,293.55 L567.64,294.06 L567.84,294.55 L568.04,295.03 L568.23,295.49 L568.42,295.94 L568.61,296.38 L568.81,296.81 L569.00,297.22 L569.20,297.61 L569.40,298.00 L569.69,298.55 L569.97,299.07 L570.24,299.56 L570.51,300.02 L570.80,300.45 L571.12,300.86 L571.49,301.24 L571.90,301.60 L572.27,301.87 L572.67,302.12 L573.10,302.36 L573.55,302.58 L574.01,302.78 L574.49,302.97 L574.99,303.15 L575.49,303.31 L575.99,303.46 L576.50,303.60 L576.97,303.71 L577.47,303.81 L577.99,303.89 L578.51,303.95 L579.05,304.01 L579.58,304.06 L580.10,304.11 L580.61,304.15 L581.10,304.20 L581.57,304.25 L582.00,304.30 L582.63,304.41 L583.22,304.54 L583.77,304.67 L584.28,304.79 L584.75,304.88 L585.19,304.92 L585.60,304.90 L586.20,304.72 L586.66,304.39 L587.07,303.97 L587.50,303.50 L587.79,303.16 L588.06,302.79 L588.32,302.38 L588.60,301.95 L588.92,301.49 L589.30,301.00 L589.59,300.65 L589.92,300.26 L590.26,299.85 L590.63,299.43 L591.00,299.01 L591.38,298.59 L591.76,298.20 L592.14,297.83 L592.50,297.50 L592.97,297.11 L593.44,296.73 L593.92,296.38 L594.39,296.07 L594.85,295.81 L595.29,295.62 L595.70,295.50 L596.22,295.50 L596.69,295.65 L597.13,295.90 L597.56,296.20 L598.00,296.50 L598.44,296.80 L598.86,297.14 L599.28,297.51 L599.72,297.90 L600.20,298.30 L600.57,298.60 L600.96,298.93 L601.36,299.26 L601.78,299.60 L602.19,299.93 L602.60,300.23 L603.00,300.50 L603.54,300.82 L604.06,301.10 L604.58,301.34 L605.12,301.57 L605.70,301.80 L606.21,301.99 L606.73,302.16 L607.27,302.32 L607.83,302.49 L608.40,302.64 L609.00,302.80 L609.46,302.91 L609.92,303.01 L610.38,303.11 L610.86,303.21 L611.36,303.31 L611.88,303.42 L612.42,303.55 L613.00,303.70 L613.45,303.83 L613.94,303.98 L614.46,304.15 L614.99,304.33 L615.54,304.51 L616.08,304.70 L616.62,304.87 L617.14,305.04 L617.63,305.18 L618.09,305.31 L618.50,305.40 L619.15,305.50 L619.70,305.54 L620.19,305.53 L620.63,305.49 L621.06,305.44 L621.50,305.40 L622.03,305.37 L622.54,305.34 L623.02,305.28 L623.51,305.18 L624.00,305.00 L624.41,304.78 L624.82,304.51 L625.23,304.20 L625.64,303.87 L626.06,303.53 L626.50,303.20 L626.90,302.91 L627.32,302.61 L627.76,302.29 L628.19,301.98 L628.62,301.69 L629.02,301.42 L629.40,301.20 L630.00,300.90 L630.54,300.69 L631.04,300.53 L631.50,300.40 L632.01,300.26 L632.45,300.19 L633.00,300.20 L633.43,300.26 L633.90,300.36 L634.42,300.49 L634.95,300.64 L635.50,300.80 L635.94,300.94 L636.37,301.10 L636.81,301.26 L637.30,301.44 L637.85,301.62 L638.50,301.80 L638.91,301.90 L639.35,302.01 L639.82,302.11 L640.32,302.22 L640.83,302.33 L641.36,302.44 L641.89,302.56 L642.43,302.67 L642.97,302.78 L643.49,302.89 L644.00,303.00 L644.50,303.11 L645.00,303.22 L645.50,303.33 L646.00,303.44 L646.50,303.55 L647.00,303.66 L647.50,303.77 L648.00,303.88 L648.50,303.99 L649.00,304.09 L649.50,304.20 L650.00,304.30 L650.49,304.40 L650.97,304.50 L651.45,304.60 L651.94,304.70 L652.43,304.80 L652.92,304.90 L653.42,305.00 L653.93,305.10 L654.46,305.20 L655.00,305.30 L655.49,305.39 L656.02,305.49 L656.58,305.59 L657.17,305.70 L657.76,305.81 L658.35,305.92 L658.93,306.02 L659.49,306.12 L660.02,306.22 L660.51,306.30 L660.94,306.38 L661.31,306.45 L661.60,306.50" fill="none" stroke="#4A80C4" stroke-width="1.1" stroke-linejoin="round" stroke-linecap="round" />
<path d="M498.40,228.00 L498.41,228.26 L498.43,228.56 L498.44,228.88 L498.46,229.22 L498.47,229.59 L498.49,229.98 L498.51,230.40 L498.53,230.83 L498.55,231.28 L498.57,231.75 L498.59,232.24 L498.62,232.74 L498.64,233.26 L498.66,233.79 L498.69,234.33 L498.71,234.88 L498.74,235.44 L498.76,236.00 L498.79,236.58 L498.82,237.15 L498.84,237.73 L498.87,238.31 L498.90,238.90 L498.93,239.48 L498.95,240.06 L498.98,240.64 L499.01,241.21 L499.04,241.78 L499.06,242.34 L499.09,242.90 L499.12,243.44 L499.15,243.97 L499.17,244.49 L499.20,245.00 L499.23,245.50 L499.25,246.01 L499.28,246.51 L499.31,247.02 L499.33,247.54 L499.36,248.05 L499.39,248.57 L499.42,249.08 L499.44,249.60 L499.47,250.12 L499.50,250.64 L499.53,251.16 L499.55,251.68 L499.58,252.20 L499.61,252.72 L499.64,253.23 L499.67,253.75 L499.70,254.26 L499.73,254.78 L499.76,255.28 L499.79,255.79 L499.82,256.30 L499.85,256.80 L499.88,257.29 L499.91,257.79 L499.94,258.28 L499.97,258.76 L500.00,259.24 L500.04,259.71 L500.07,260.18 L500.10,260.65 L500.13,261.10 L500.17,261.56 L500.20,262.00 L500.24,262.57 L500.29,263.14 L500.34,263.70 L500.38,264.25 L500.43,264.79 L500.48,265.32 L500.53,265.85 L500.58,266.38 L500.63,266.89 L500.68,267.41 L500.73,267.91 L500.78,268.41 L500.83,268.91 L500.88,269.40 L500.93,269.88 L500.99,270.36 L501.04,270.84 L501.09,271.32 L501.14,271.79 L501.19,272.25 L501.25,272.72 L501.30,273.18 L501.35,273.64 L501.40,274.09 L501.45,274.55 L501.50,275.00 L501.56,275.56 L501.62,276.12 L501.68,276.67 L501.74,277.22 L501.81,277.77 L501.87,278.31 L501.93,278.85 L501.99,279.38 L502.05,279.91 L502.11,280.43 L502.17,280.94 L502.23,281.45 L502.29,281.94 L502.35,282.43 L502.41,282.90 L502.48,283.36 L502.54,283.82 L502.60,284.26 L502.67,284.69 L502.73,285.10 L502.80,285.50 L502.92,286.16 L503.04,286.78 L503.16,287.36 L503.28,287.90 L503.41,288.42 L503.53,288.90 L503.66,289.36 L503.79,289.81 L503.91,290.24 L504.04,290.66 L504.17,291.08 L504.30,291.50 L504.49,292.11 L504.68,292.67 L504.87,293.19 L505.06,293.69 L505.26,294.18 L505.46,294.65 L505.68,295.12 L505.90,295.60 L506.14,296.10 L506.38,296.60 L506.63,297.10 L506.89,297.60 L507.15,298.08 L507.43,298.53 L507.71,298.94 L508.00,299.30 L508.41,299.72 L508.86,300.10 L509.31,300.41 L509.77,300.67 L510.20,300.87 L510.60,301.00 L511.31,301.04 L511.94,300.84 L512.50,300.50 L512.86,300.23 L513.16,299.92 L513.46,299.47 L513.80,298.80 L513.95,298.45 L514.12,298.04 L514.29,297.59 L514.46,297.11 L514.64,296.61 L514.82,296.08 L514.99,295.55 L515.17,295.02 L515.34,294.50 L515.50,294.00 L515.66,293.51 L515.81,293.03 L515.97,292.54 L516.12,292.06 L516.27,291.57 L516.42,291.07 L516.56,290.57 L516.71,290.06 L516.85,289.54 L517.00,289.00 L517.12,288.58 L517.23,288.21 L517.34,287.87 L517.45,287.55 L517.55,287.22 L517.66,286.87 L517.77,286.47 L517.89,286.00 L518.00,285.45 L518.13,284.80 L518.26,284.02 L518.40,283.10 L518.45,282.76 L518.50,282.40 L518.55,282.03 L518.60,281.65 L518.66,281.25 L518.71,280.84 L518.77,280.42 L518.82,279.98 L518.88,279.54 L518.94,279.08 L518.99,278.61 L519.05,278.13 L519.11,277.65 L519.17,277.15 L519.23,276.65 L519.29,276.13 L519.35,275.61 L519.41,275.09 L519.47,274.55 L519.54,274.02 L519.60,273.47 L519.66,272.92 L519.72,272.37 L519.78,271.81 L519.84,271.25 L519.90,270.69 L519.97,270.12 L520.03,269.55 L520.09,268.98 L520.15,268.41 L520.21,267.84 L520.27,267.27 L520.33,266.70 L520.38,266.13 L520.44,265.57 L520.50,265.00 L520.55,264.54 L520.59,264.08 L520.64,263.61 L520.68,263.13 L520.73,262.64 L520.77,262.15 L520.82,261.65 L520.86,261.15 L520.91,260.64 L520.95,260.12 L521.00,259.60 L521.04,259.08 L521.09,258.55 L521.13,258.02 L521.17,257.49 L521.22,256.96 L521.26,256.42 L521.31,255.88 L521.35,255.35 L521.40,254.81 L521.44,254.27 L521.48,253.73 L521.53,253.19 L521.57,252.66 L521.62,252.12 L521.66,251.59 L521.70,251.06 L521.75,250.54 L521.79,250.01 L521.84,249.50 L521.88,248.98 L521.93,248.47 L521.97,247.97 L522.01,247.47 L522.06,246.98 L522.10,246.49 L522.15,246.02 L522.19,245.55 L522.23,245.08 L522.28,244.63 L522.32,244.18 L522.37,243.75 L522.41,243.32 L522.46,242.91 L522.50,242.50 L522.57,241.84 L522.65,241.20 L522.72,240.58 L522.80,239.97 L522.87,239.38 L522.95,238.80 L523.02,238.23 L523.10,237.68 L523.17,237.14 L523.25,236.62 L523.32,236.11 L523.40,235.60 L523.47,235.11 L523.55,234.63 L523.62,234.16 L523.70,233.69 L523.77,233.24 L523.85,232.79 L523.92,232.35 L524.00,231.91 L524.07,231.48 L524.14,231.06 L524.21,230.64 L524.29,230.23 L524.36,229.82 L524.43,229.41 L524.50,229.00 L524.61,228.37 L524.72,227.75 L524.84,227.15 L524.95,226.58 L525.06,226.02 L525.17,225.47 L525.28,224.95 L525.39,224.44 L525.50,223.95 L525.60,223.48 L525.71,223.02 L525.81,222.58 L525.92,222.15 L526.01,221.74 L526.11,221.35 L526.21,220.97 L526.30,220.60 L526.49,219.89 L526.66,219.26 L526.83,218.71 L526.99,218.23 L527.14,217.81 L527.29,217.44 L527.45,217.10 L527.60,216.80 L528.19,216.01 L528.80,215.90 L529.13,216.07 L529.47,216.41 L529.82,216.91 L530.20,217.60 L530.38,217.97 L530.56,218.39 L530.75,218.86 L530.94,219.35 L531.13,219.88 L531.33,220.43 L531.52,221.01 L531.71,221.60 L531.90,222.20 L532.03,222.63 L532.15,223.08 L532.28,223.54 L532.40,224.02 L532.53,224.50 L532.65,225.00 L532.77,225.50 L532.90,226.01 L533.02,226.51 L533.14,227.02 L533.26,227.52 L533.38,228.01 L533.50,228.50 L533.63,229.02 L533.75,229.55 L533.87,230.08 L533.99,230.61 L534.11,231.14 L534.23,231.66 L534.34,232.19 L534.47,232.70 L534.59,233.22 L534.72,233.72 L534.86,234.22 L535.00,234.70 L535.16,235.22 L535.34,235.74 L535.51,236.25 L535.70,236.75 L535.89,237.24 L536.08,237.73 L536.27,238.21 L536.46,238.67 L536.64,239.13 L536.82,239.57 L537.00,240.00 L537.23,240.57 L537.44,241.10 L537.65,241.62 L537.86,242.11 L538.07,242.59 L538.29,243.07 L538.53,243.53 L538.80,244.00 L539.09,244.47 L539.39,244.94 L539.71,245.40 L540.04,245.86 L540.39,246.30 L540.75,246.72 L541.12,247.12 L541.50,247.50 L541.91,247.86 L542.34,248.22 L542.80,248.56 L543.26,248.88 L543.73,249.17 L544.18,249.43 L544.60,249.64 L545.00,249.80 L545.57,249.95 L546.10,249.99 L546.58,249.94 L547.05,249.80 L547.50,249.60 L547.94,249.33 L548.35,248.99 L548.75,248.57 L549.13,248.07 L549.50,247.50 L549.73,247.09 L549.94,246.65 L550.16,246.16 L550.36,245.65 L550.57,245.12 L550.78,244.58 L550.98,244.04 L551.20,243.50 L551.40,243.02 L551.60,242.51 L551.80,242.00 L552.00,241.47 L552.21,240.95 L552.41,240.44 L552.61,239.94 L552.81,239.45 L553.00,239.00 L553.24,238.45 L553.46,237.94 L553.68,237.46 L553.90,236.99 L554.13,236.52 L554.36,236.07 L554.60,235.60 L554.86,235.12 L555.13,234.64 L555.40,234.15 L555.68,233.68 L555.96,233.22 L556.24,232.79 L556.50,232.40 L556.84,231.91 L557.17,231.48 L557.49,231.10 L557.82,230.74 L558.20,230.40 L558.62,230.07 L559.08,229.75 L559.55,229.47 L560.03,229.21 L560.50,229.00 L561.07,228.78 L561.62,228.61 L562.20,228.51 L562.80,228.50 L563.32,228.58 L563.86,228.73 L564.42,228.93 L564.97,229.16 L565.50,229.40 L565.99,229.65 L566.44,229.93 L566.90,230.23 L567.41,230.55 L568.00,230.90 L568.38,231.11 L568.78,231.34 L569.20,231.57 L569.65,231.82 L570.11,232.07 L570.57,232.31 L571.05,232.56 L571.53,232.79 L572.00,233.00 L572.48,233.20 L572.97,233.41 L573.46,233.60 L573.97,233.79 L574.47,233.98 L574.98,234.15 L575.49,234.31 L576.00,234.46 L576.50,234.60 L577.00,234.72 L577.50,234.84 L578.00,234.94 L578.49,235.03 L578.99,235.11 L579.49,235.17 L579.99,235.23 L580.50,235.27 L581.00,235.30 L581.52,235.32 L582.06,235.32 L582.61,235.31 L583.16,235.30 L583.70,235.26 L584.23,235.22 L584.72,235.16 L585.18,235.09 L585.60,235.00 L586.22,234.80 L586.73,234.53 L587.16,234.23 L587.57,233.92 L588.00,233.60 L588.44,233.30 L588.84,232.99 L589.25,232.67 L589.69,232.31 L590.20,231.90 L590.56,231.60 L590.95,231.27 L591.37,230.91 L591.79,230.54 L592.23,230.18 L592.66,229.82 L593.09,229.49 L593.50,229.20 L594.00,228.85 L594.46,228.52 L594.92,228.22 L595.40,227.96 L595.95,227.75 L596.60,227.60 L597.04,227.54 L597.50,227.52 L597.99,227.51 L598.50,227.53 L599.04,227.56 L599.59,227.60 L600.17,227.65 L600.76,227.70 L601.37,227.75 L602.00,227.80 L602.47,227.83 L602.97,227.87 L603.49,227.92 L604.02,227.96 L604.57,228.01 L605.13,228.07 L605.69,228.12 L606.25,228.17 L606.81,228.23 L607.35,228.29 L607.87,228.34 L608.38,228.40 L608.85,228.45 L609.30,228.50 L609.94,228.58 L610.53,228.66 L611.09,228.74 L611.61,228.82 L612.10,228.90 L612.58,228.97 L613.05,229.05 L613.52,229.13 L614.00,229.20 L614.54,229.28 L615.07,229.36 L615.59,229.44 L616.09,229.52 L616.59,229.59 L617.07,229.67 L617.54,229.74 L618.00,229.80 L618.58,229.89 L619.12,229.99 L619.64,230.08 L620.16,230.15 L620.67,230.19 L621.20,230.20 L621.75,230.17 L622.30,230.10 L622.86,230.01 L623.41,229.89 L623.96,229.75 L624.50,229.60 L625.02,229.43 L625.54,229.23 L626.04,229.02 L626.55,228.79 L627.07,228.55 L627.60,228.30 L628.07,228.07 L628.56,227.82 L629.06,227.56 L629.56,227.30 L630.05,227.05 L630.53,226.81 L631.00,226.60 L631.51,226.38 L631.99,226.19 L632.46,226.01 L632.94,225.85 L633.45,225.71 L634.00,225.60 L634.45,225.53 L634.92,225.48 L635.42,225.45 L635.93,225.43 L636.44,225.41 L636.96,225.40 L637.48,225.40 L638.00,225.40 L638.49,225.41 L638.95,225.42 L639.40,225.44 L639.86,225.47 L640.35,225.50 L640.89,225.53 L641.50,225.57 L642.20,225.60 L642.62,225.62 L643.07,225.64 L643.56,225.66 L644.07,225.68 L644.60,225.70 L645.15,225.72 L645.71,225.74 L646.27,225.76 L646.84,225.78 L647.40,225.80 L647.96,225.82 L648.50,225.84 L649.02,225.86 L649.52,225.88 L650.00,225.90 L650.56,225.92 L651.11,225.94 L651.64,225.95 L652.15,225.97 L652.65,225.99 L653.14,226.00 L653.62,226.01 L654.10,226.03 L654.57,226.05 L655.04,226.06 L655.52,226.08 L656.00,226.10 L656.55,226.12 L657.12,226.15 L657.71,226.18 L658.30,226.21 L658.89,226.25 L659.46,226.28 L659.99,226.31 L660.49,226.34 L660.93,226.36 L661.30,226.38 L661.60,226.40" fill="none" stroke="#E8494B" stroke-width="1.1" stroke-linejoin="round" stroke-linecap="round" />
</g>
<line x1="498.4" y1="189.3" x2="662.0" y2="189.3" stroke="#111" stroke-width="0.9"/>
<line x1="498.4" y1="311.5" x2="662.0" y2="311.5" stroke="#333333" stroke-width="0.9"/>
<line x1="498.4" y1="189.3" x2="498.4" y2="311.5" stroke="#E8595B" stroke-width="0.9"/>
<line x1="662.0" y1="189.3" x2="662.0" y2="311.5" stroke="#5B8BCB" stroke-width="0.9"/>
<line x1="495.4" y1="209.60" x2="498.4" y2="209.60" stroke="#E8595B" stroke-width="0.8"/>
<line x1="495.4" y1="249.90" x2="498.4" y2="249.90" stroke="#E8595B" stroke-width="0.8"/>
<line x1="495.4" y1="290.20" x2="498.4" y2="290.20" stroke="#E8595B" stroke-width="0.8"/>
<line x1="496.9" y1="229.75" x2="498.4" y2="229.75" stroke="#E8595B" stroke-width="0.8"/>
<line x1="496.9" y1="270.05" x2="498.4" y2="270.05" stroke="#E8595B" stroke-width="0.8"/>
<line x1="496.9" y1="310.35" x2="498.4" y2="310.35" stroke="#E8595B" stroke-width="0.8"/>
<line x1="662.0" y1="308.00" x2="665.0" y2="308.00" stroke="#5B8BCB" stroke-width="0.8"/>
<line x1="662.0" y1="273.80" x2="665.0" y2="273.80" stroke="#5B8BCB" stroke-width="0.8"/>
<line x1="662.0" y1="239.60" x2="665.0" y2="239.60" stroke="#5B8BCB" stroke-width="0.8"/>
<line x1="662.0" y1="205.40" x2="665.0" y2="205.40" stroke="#5B8BCB" stroke-width="0.8"/>
<line x1="662.0" y1="290.90" x2="663.5" y2="290.90" stroke="#5B8BCB" stroke-width="0.8"/>
<line x1="662.0" y1="256.70" x2="663.5" y2="256.70" stroke="#5B8BCB" stroke-width="0.8"/>
<line x1="662.0" y1="222.50" x2="663.5" y2="222.50" stroke="#5B8BCB" stroke-width="0.8"/>
<line x1="501.50" y1="311.5" x2="501.50" y2="314.3" stroke="#333333" stroke-width="0.8"/>
<line x1="565.50" y1="311.5" x2="565.50" y2="314.3" stroke="#333333" stroke-width="0.8"/>
<line x1="629.50" y1="311.5" x2="629.50" y2="314.3" stroke="#333333" stroke-width="0.8"/>
<line x1="533.50" y1="311.5" x2="533.50" y2="313.0" stroke="#333333" stroke-width="0.8"/>
<line x1="597.50" y1="311.5" x2="597.50" y2="313.0" stroke="#333333" stroke-width="0.8"/>
<line x1="661.50" y1="311.5" x2="661.50" y2="313.0" stroke="#333333" stroke-width="0.8"/>
<text x="494.6" y="212.6" font-size="8.6" fill="#E8494B" text-anchor="end" font-weight="normal" >0.0</text>
<text x="494.6" y="252.9" font-size="8.6" fill="#E8494B" text-anchor="end" font-weight="normal" >-0.2</text>
<text x="494.6" y="293.2" font-size="8.6" fill="#E8494B" text-anchor="end" font-weight="normal" >-0.4</text>
<text x="665.6" y="311" font-size="8.6" fill="#4A80C4" text-anchor="start" font-weight="normal" >0</text>
<text x="665.6" y="276.8" font-size="8.6" fill="#4A80C4" text-anchor="start" font-weight="normal" >2</text>
<text x="665.6" y="242.6" font-size="8.6" fill="#4A80C4" text-anchor="start" font-weight="normal" >4</text>
<text x="665.6" y="208.4" font-size="8.6" fill="#4A80C4" text-anchor="start" font-weight="normal" >6</text>
<text x="501.5" y="324" font-size="8.6" fill="#222" text-anchor="middle" font-weight="normal" >0</text>
<text x="565.5" y="324" font-size="8.6" fill="#222" text-anchor="middle" font-weight="normal" >20</text>
<text x="629.5" y="324" font-size="8.6" fill="#222" text-anchor="middle" font-weight="normal" >40</text>
<text transform="translate(473.7,250.0) rotate(-90)" font-size="9.0" fill="#E8494B" text-anchor="middle"><tspan font-style="italic">R</tspan><tspan font-size="5.5" dy="1.8">xy</tspan><tspan dy="-1.8"> (h/e</tspan><tspan font-size="5.5" dy="-3">2</tspan><tspan dy="3">)</tspan></text>
<text transform="translate(680.5,241.3) rotate(-90)" font-size="9.0" fill="#4A80C4" text-anchor="middle"><tspan font-style="italic">R</tspan><tspan font-size="5.5" dy="1.8">xx</tspan><tspan dy="-1.8"> (kΩ)</tspan></text>
<text x="580.3" y="334.7" font-size="8.6" fill="#222" text-anchor="middle"><tspan font-style="italic">V</tspan><tspan font-size="5.5" dy="2">g</tspan><tspan dy="-2"> (V)</tspan></text>
<text x="509" y="295.5" font-size="8.3" fill="#111" text-anchor="middle" font-weight="normal" >2</text>
<text x="545.6" y="246.5" font-size="8.3" fill="#111" text-anchor="middle" font-weight="normal" >6</text>
<text x="583.8" y="231.8" font-size="8.3" fill="#111" text-anchor="middle" font-weight="normal" >8</text>
<text x="621.8" y="225" font-size="8.3" fill="#111" text-anchor="middle" font-weight="normal" >10</text>
</svg></body></html>
